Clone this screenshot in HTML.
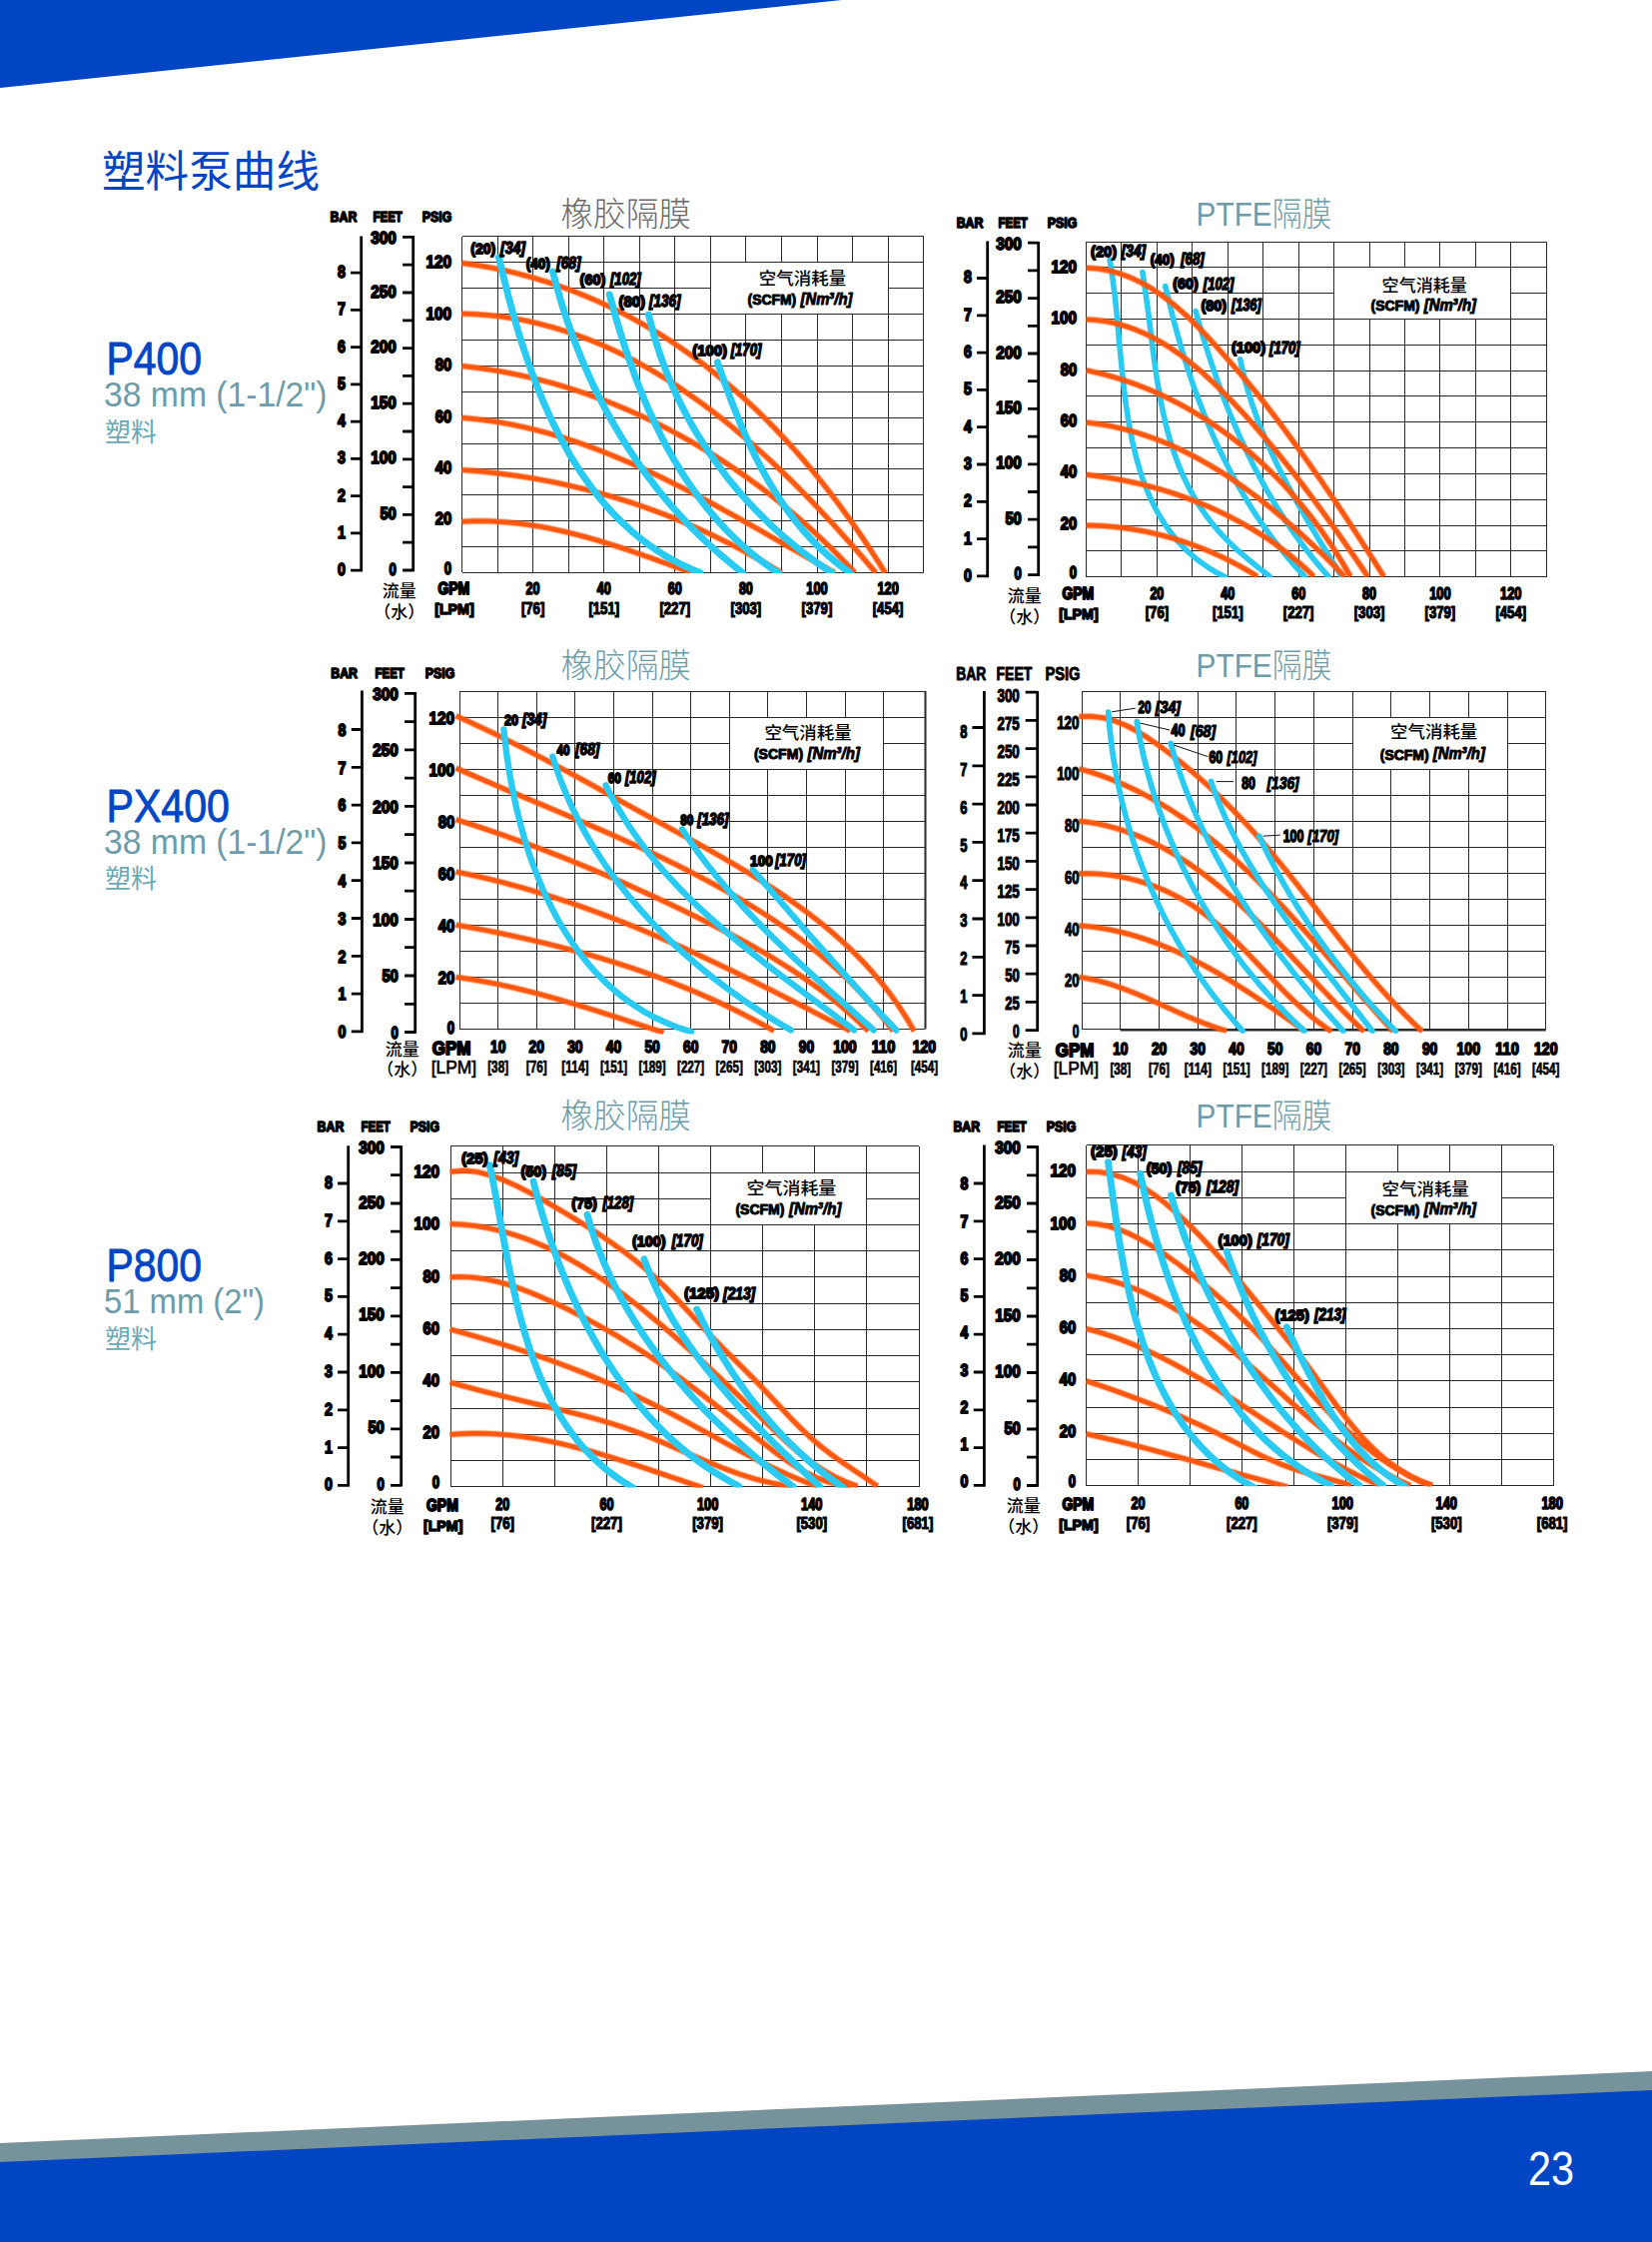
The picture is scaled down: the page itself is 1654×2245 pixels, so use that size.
<!DOCTYPE html>
<html lang="zh"><head><meta charset="utf-8"><title>塑料泵曲线</title><style>html,body{margin:0;padding:0;background:#fff;overflow:hidden;width:1654px;height:2245px}svg{display:block}text{white-space:pre}</style></head><body>
<svg width="1654" height="2245" viewBox="0 0 1654 2245">
<rect width="1654" height="2245" fill="#fff"/>
<polygon points="0,0 843,0 0,88" fill="#0046c4"/>
<polygon points="0,2146 1654,2074 1654,2095 0,2167" fill="#76939b"/>
<polygon points="0,2165 1654,2093 1654,2245 0,2245" fill="#0046c4"/>
<text x="1530.0" y="2188.0" font-size="49" font-family='"Liberation Sans", sans-serif' fill="#fff" textLength="46.0" lengthAdjust="spacingAndGlyphs">23</text>
<text x="102.0" y="187.0" font-size="43.5" font-family='"Liberation Sans", "Noto Sans CJK SC", sans-serif' fill="#0046c4" textLength="218.0" lengthAdjust="spacingAndGlyphs">塑料泵曲线</text>
<text x="106.5" y="375.1" font-size="46.5" font-family='"Liberation Sans", sans-serif' fill="#0046c4" textLength="95.5" lengthAdjust="spacingAndGlyphs" stroke="#0046c4" stroke-width="0.9" stroke-linejoin="round">P400</text>
<text x="104.0" y="407.4" font-size="34.5" font-family='"Liberation Sans", sans-serif' fill="#6b9ca8" textLength="223.5" lengthAdjust="spacingAndGlyphs">38 mm (1-1/2")</text>
<text x="105.0" y="441.6" font-size="26" font-family='"Liberation Sans", "Noto Sans CJK SC", sans-serif' fill="#6aa9b5" textLength="52.0" lengthAdjust="spacingAndGlyphs">塑料</text>
<text x="106.5" y="822.7" font-size="46.5" font-family='"Liberation Sans", sans-serif' fill="#0046c4" textLength="123.5" lengthAdjust="spacingAndGlyphs" stroke="#0046c4" stroke-width="0.9" stroke-linejoin="round">PX400</text>
<text x="104.0" y="855.0" font-size="34.5" font-family='"Liberation Sans", sans-serif' fill="#6b9ca8" textLength="223.5" lengthAdjust="spacingAndGlyphs">38 mm (1-1/2")</text>
<text x="105.0" y="889.2" font-size="26" font-family='"Liberation Sans", "Noto Sans CJK SC", sans-serif' fill="#6aa9b5" textLength="52.0" lengthAdjust="spacingAndGlyphs">塑料</text>
<text x="106.5" y="1283.0" font-size="46.5" font-family='"Liberation Sans", sans-serif' fill="#0046c4" textLength="95.5" lengthAdjust="spacingAndGlyphs" stroke="#0046c4" stroke-width="0.9" stroke-linejoin="round">P800</text>
<text x="104.0" y="1315.3" font-size="34.5" font-family='"Liberation Sans", sans-serif' fill="#6b9ca8" textLength="161.0" lengthAdjust="spacingAndGlyphs">51 mm (2")</text>
<text x="105.0" y="1349.5" font-size="26" font-family='"Liberation Sans", "Noto Sans CJK SC", sans-serif' fill="#6aa9b5" textLength="52.0" lengthAdjust="spacingAndGlyphs">塑料</text>
<g id="chart1">
<text x="561.5" y="226.0" font-size="32.5" font-family='"Liberation Sans", "Noto Sans CJK SC", sans-serif' fill="#6a6a6a" font-weight="300" textLength="130.5" lengthAdjust="spacingAndGlyphs">橡胶隔膜</text>
<path d="M462.50,237.00V573.44M498.50,237.00V573.44M533.50,237.00V573.44M569.50,237.00V573.44M604.50,237.00V573.44M640.50,237.00V573.44M675.50,237.00V573.44M711.50,237.00V573.44M746.50,237.00V262.50M746.50,314.50V573.44M782.50,237.00V262.50M782.50,314.50V573.44M818.50,237.00V262.50M818.50,314.50V573.44M853.50,237.00V262.50M853.50,314.50V573.44M889.50,237.00V573.44M924.50,237.00V573.44M462.50,236.50H924.65M462.50,262.50H924.65M462.50,288.50H711.50M889.50,288.50H924.65M462.50,314.50H924.65M462.50,340.50H924.65M462.50,366.50H924.65M462.50,392.50H924.65M462.50,418.50H924.65M462.50,444.50H924.65M462.50,469.50H924.65M462.50,495.50H924.65M462.50,521.50H924.65M462.50,547.50H924.65M462.50,573.50H924.65" stroke="#2a2a2a" stroke-width="1" fill="none" shape-rendering="crispEdges"/>
<clipPath id="cp1"><rect x="454.5" y="235.0" width="472.1" height="339.0"/></clipPath>
<g clip-path="url(#cp1)">
<g fill="none" stroke="#ff580e" stroke-linecap="butt" stroke-linejoin="round"><g stroke-width="7.6" stroke-opacity="0.13"><path d="M462.4,263.4 476.4,265.4 490.3,267.8 504.1,270.6 517.8,273.8 531.3,277.4 544.7,281.4 557.9,285.7 571.0,290.4 583.9,295.5 596.7,300.9 609.3,306.7 621.7,312.8 634.0,319.2 646.0,326.0 657.9,333.0 669.7,340.4 681.2,348.1 692.5,356.1 703.7,364.3 714.6,372.9 725.3,381.7 735.9,390.8 746.3,400.1 756.4,409.6 766.4,419.4 776.2,429.4 785.8,439.6 795.2,450.0 804.4,460.5 813.4,471.3 822.2,482.1 830.9,493.2 839.3,504.3 847.6,515.6 855.7,527.0 863.6,538.5 871.3,550.1 878.8,561.7 886.2,573.5"/><path d="M462.4,314.1 475.6,314.6 488.8,315.6 501.7,317.0 514.6,318.9 527.3,321.3 539.8,324.2 552.2,327.4 564.4,331.1 576.6,335.2 588.5,339.6 600.3,344.4 612.0,349.6 623.6,355.2 635.0,361.0 646.2,367.2 657.4,373.7 668.4,380.4 679.2,387.5 689.9,394.8 700.5,402.3 711.0,410.1 721.3,418.1 731.5,426.3 741.5,434.7 751.4,443.2 761.2,451.9 770.9,460.8 780.4,469.8 789.8,478.9 799.1,488.1 808.2,497.4 817.2,506.8 826.1,516.3 834.9,525.7 843.5,535.3 852.0,544.8 860.4,554.3 868.6,563.9 876.8,573.4"/><path d="M462.5,366.5 474.1,367.8 485.6,369.4 497.2,371.2 508.6,373.3 520.0,375.6 531.4,378.1 542.6,380.9 553.9,383.9 565.0,387.2 576.1,390.7 587.1,394.4 598.1,398.3 609.0,402.4 619.8,406.8 630.5,411.3 641.1,416.1 651.6,421.0 662.1,426.2 672.4,431.5 682.7,437.1 692.8,442.8 702.9,448.7 712.9,454.8 722.7,461.0 732.5,467.4 742.1,474.0 751.6,480.8 761.0,487.7 770.3,494.8 779.4,502.0 788.4,509.4 797.3,516.9 806.1,524.6 814.7,532.4 823.2,540.4 831.6,548.4 839.8,556.6 847.8,565.0 855.8,573.4"/><path d="M462.5,418.3 473.0,419.3 483.5,420.5 493.9,421.9 504.2,423.6 514.4,425.5 524.6,427.7 534.7,430.1 544.8,432.7 554.8,435.5 564.8,438.5 574.6,441.7 584.5,445.1 594.3,448.7 604.0,452.4 613.7,456.3 623.3,460.3 632.9,464.4 642.4,468.7 651.9,473.1 661.4,477.7 670.8,482.3 680.2,487.0 689.5,491.8 698.8,496.7 708.1,501.6 717.3,506.6 726.5,511.7 735.7,516.8 744.9,522.0 754.0,527.1 763.1,532.3 772.2,537.5 781.3,542.7 790.4,547.9 799.4,553.1 808.4,558.2 817.5,563.3 826.5,568.4 835.5,573.4"/><path d="M462.5,470.5 471.2,471.2 479.9,471.9 488.6,472.8 497.3,473.8 505.9,474.9 514.6,476.1 523.2,477.3 531.8,478.7 540.4,480.2 548.9,481.8 557.5,483.5 566.0,485.3 574.4,487.3 582.9,489.3 591.3,491.4 599.7,493.6 608.1,496.0 616.4,498.4 624.7,501.0 633.0,503.6 641.2,506.4 649.4,509.3 657.5,512.3 665.6,515.3 673.7,518.5 681.7,521.8 689.7,525.2 697.7,528.7 705.6,532.3 713.5,536.0 721.3,539.8 729.1,543.7 736.9,547.7 744.6,551.8 752.2,555.9 759.8,560.2 767.4,564.5 774.9,569.0 782.4,573.5"/><path d="M462.5,522.3 468.6,522.0 474.8,521.8 480.9,521.8 487.0,521.8 493.1,522.0 499.2,522.4 505.2,522.8 511.3,523.3 517.3,523.9 523.3,524.7 529.3,525.5 535.3,526.4 541.3,527.4 547.2,528.5 553.2,529.7 559.1,531.0 565.0,532.3 570.9,533.7 576.8,535.2 582.7,536.7 588.5,538.3 594.4,540.0 600.2,541.7 606.0,543.4 611.9,545.3 617.7,547.1 623.5,549.0 629.3,550.9 635.0,552.9 640.8,554.9 646.5,556.9 652.3,558.9 658.0,561.0 663.8,563.1 669.5,565.1 675.2,567.2 680.9,569.3 686.6,571.4 692.3,573.5"/></g><g stroke-width="6.4" stroke-opacity="0.3"><path d="M462.4,263.4 476.4,265.4 490.3,267.8 504.1,270.6 517.8,273.8 531.3,277.4 544.7,281.4 557.9,285.7 571.0,290.4 583.9,295.5 596.7,300.9 609.3,306.7 621.7,312.8 634.0,319.2 646.0,326.0 657.9,333.0 669.7,340.4 681.2,348.1 692.5,356.1 703.7,364.3 714.6,372.9 725.3,381.7 735.9,390.8 746.3,400.1 756.4,409.6 766.4,419.4 776.2,429.4 785.8,439.6 795.2,450.0 804.4,460.5 813.4,471.3 822.2,482.1 830.9,493.2 839.3,504.3 847.6,515.6 855.7,527.0 863.6,538.5 871.3,550.1 878.8,561.7 886.2,573.5"/><path d="M462.4,314.1 475.6,314.6 488.8,315.6 501.7,317.0 514.6,318.9 527.3,321.3 539.8,324.2 552.2,327.4 564.4,331.1 576.6,335.2 588.5,339.6 600.3,344.4 612.0,349.6 623.6,355.2 635.0,361.0 646.2,367.2 657.4,373.7 668.4,380.4 679.2,387.5 689.9,394.8 700.5,402.3 711.0,410.1 721.3,418.1 731.5,426.3 741.5,434.7 751.4,443.2 761.2,451.9 770.9,460.8 780.4,469.8 789.8,478.9 799.1,488.1 808.2,497.4 817.2,506.8 826.1,516.3 834.9,525.7 843.5,535.3 852.0,544.8 860.4,554.3 868.6,563.9 876.8,573.4"/><path d="M462.5,366.5 474.1,367.8 485.6,369.4 497.2,371.2 508.6,373.3 520.0,375.6 531.4,378.1 542.6,380.9 553.9,383.9 565.0,387.2 576.1,390.7 587.1,394.4 598.1,398.3 609.0,402.4 619.8,406.8 630.5,411.3 641.1,416.1 651.6,421.0 662.1,426.2 672.4,431.5 682.7,437.1 692.8,442.8 702.9,448.7 712.9,454.8 722.7,461.0 732.5,467.4 742.1,474.0 751.6,480.8 761.0,487.7 770.3,494.8 779.4,502.0 788.4,509.4 797.3,516.9 806.1,524.6 814.7,532.4 823.2,540.4 831.6,548.4 839.8,556.6 847.8,565.0 855.8,573.4"/><path d="M462.5,418.3 473.0,419.3 483.5,420.5 493.9,421.9 504.2,423.6 514.4,425.5 524.6,427.7 534.7,430.1 544.8,432.7 554.8,435.5 564.8,438.5 574.6,441.7 584.5,445.1 594.3,448.7 604.0,452.4 613.7,456.3 623.3,460.3 632.9,464.4 642.4,468.7 651.9,473.1 661.4,477.7 670.8,482.3 680.2,487.0 689.5,491.8 698.8,496.7 708.1,501.6 717.3,506.6 726.5,511.7 735.7,516.8 744.9,522.0 754.0,527.1 763.1,532.3 772.2,537.5 781.3,542.7 790.4,547.9 799.4,553.1 808.4,558.2 817.5,563.3 826.5,568.4 835.5,573.4"/><path d="M462.5,470.5 471.2,471.2 479.9,471.9 488.6,472.8 497.3,473.8 505.9,474.9 514.6,476.1 523.2,477.3 531.8,478.7 540.4,480.2 548.9,481.8 557.5,483.5 566.0,485.3 574.4,487.3 582.9,489.3 591.3,491.4 599.7,493.6 608.1,496.0 616.4,498.4 624.7,501.0 633.0,503.6 641.2,506.4 649.4,509.3 657.5,512.3 665.6,515.3 673.7,518.5 681.7,521.8 689.7,525.2 697.7,528.7 705.6,532.3 713.5,536.0 721.3,539.8 729.1,543.7 736.9,547.7 744.6,551.8 752.2,555.9 759.8,560.2 767.4,564.5 774.9,569.0 782.4,573.5"/><path d="M462.5,522.3 468.6,522.0 474.8,521.8 480.9,521.8 487.0,521.8 493.1,522.0 499.2,522.4 505.2,522.8 511.3,523.3 517.3,523.9 523.3,524.7 529.3,525.5 535.3,526.4 541.3,527.4 547.2,528.5 553.2,529.7 559.1,531.0 565.0,532.3 570.9,533.7 576.8,535.2 582.7,536.7 588.5,538.3 594.4,540.0 600.2,541.7 606.0,543.4 611.9,545.3 617.7,547.1 623.5,549.0 629.3,550.9 635.0,552.9 640.8,554.9 646.5,556.9 652.3,558.9 658.0,561.0 663.8,563.1 669.5,565.1 675.2,567.2 680.9,569.3 686.6,571.4 692.3,573.5"/></g><g stroke-width="5.2" stroke-opacity="0.6"><path d="M462.4,263.4 476.4,265.4 490.3,267.8 504.1,270.6 517.8,273.8 531.3,277.4 544.7,281.4 557.9,285.7 571.0,290.4 583.9,295.5 596.7,300.9 609.3,306.7 621.7,312.8 634.0,319.2 646.0,326.0 657.9,333.0 669.7,340.4 681.2,348.1 692.5,356.1 703.7,364.3 714.6,372.9 725.3,381.7 735.9,390.8 746.3,400.1 756.4,409.6 766.4,419.4 776.2,429.4 785.8,439.6 795.2,450.0 804.4,460.5 813.4,471.3 822.2,482.1 830.9,493.2 839.3,504.3 847.6,515.6 855.7,527.0 863.6,538.5 871.3,550.1 878.8,561.7 886.2,573.5"/><path d="M462.4,314.1 475.6,314.6 488.8,315.6 501.7,317.0 514.6,318.9 527.3,321.3 539.8,324.2 552.2,327.4 564.4,331.1 576.6,335.2 588.5,339.6 600.3,344.4 612.0,349.6 623.6,355.2 635.0,361.0 646.2,367.2 657.4,373.7 668.4,380.4 679.2,387.5 689.9,394.8 700.5,402.3 711.0,410.1 721.3,418.1 731.5,426.3 741.5,434.7 751.4,443.2 761.2,451.9 770.9,460.8 780.4,469.8 789.8,478.9 799.1,488.1 808.2,497.4 817.2,506.8 826.1,516.3 834.9,525.7 843.5,535.3 852.0,544.8 860.4,554.3 868.6,563.9 876.8,573.4"/><path d="M462.5,366.5 474.1,367.8 485.6,369.4 497.2,371.2 508.6,373.3 520.0,375.6 531.4,378.1 542.6,380.9 553.9,383.9 565.0,387.2 576.1,390.7 587.1,394.4 598.1,398.3 609.0,402.4 619.8,406.8 630.5,411.3 641.1,416.1 651.6,421.0 662.1,426.2 672.4,431.5 682.7,437.1 692.8,442.8 702.9,448.7 712.9,454.8 722.7,461.0 732.5,467.4 742.1,474.0 751.6,480.8 761.0,487.7 770.3,494.8 779.4,502.0 788.4,509.4 797.3,516.9 806.1,524.6 814.7,532.4 823.2,540.4 831.6,548.4 839.8,556.6 847.8,565.0 855.8,573.4"/><path d="M462.5,418.3 473.0,419.3 483.5,420.5 493.9,421.9 504.2,423.6 514.4,425.5 524.6,427.7 534.7,430.1 544.8,432.7 554.8,435.5 564.8,438.5 574.6,441.7 584.5,445.1 594.3,448.7 604.0,452.4 613.7,456.3 623.3,460.3 632.9,464.4 642.4,468.7 651.9,473.1 661.4,477.7 670.8,482.3 680.2,487.0 689.5,491.8 698.8,496.7 708.1,501.6 717.3,506.6 726.5,511.7 735.7,516.8 744.9,522.0 754.0,527.1 763.1,532.3 772.2,537.5 781.3,542.7 790.4,547.9 799.4,553.1 808.4,558.2 817.5,563.3 826.5,568.4 835.5,573.4"/><path d="M462.5,470.5 471.2,471.2 479.9,471.9 488.6,472.8 497.3,473.8 505.9,474.9 514.6,476.1 523.2,477.3 531.8,478.7 540.4,480.2 548.9,481.8 557.5,483.5 566.0,485.3 574.4,487.3 582.9,489.3 591.3,491.4 599.7,493.6 608.1,496.0 616.4,498.4 624.7,501.0 633.0,503.6 641.2,506.4 649.4,509.3 657.5,512.3 665.6,515.3 673.7,518.5 681.7,521.8 689.7,525.2 697.7,528.7 705.6,532.3 713.5,536.0 721.3,539.8 729.1,543.7 736.9,547.7 744.6,551.8 752.2,555.9 759.8,560.2 767.4,564.5 774.9,569.0 782.4,573.5"/><path d="M462.5,522.3 468.6,522.0 474.8,521.8 480.9,521.8 487.0,521.8 493.1,522.0 499.2,522.4 505.2,522.8 511.3,523.3 517.3,523.9 523.3,524.7 529.3,525.5 535.3,526.4 541.3,527.4 547.2,528.5 553.2,529.7 559.1,531.0 565.0,532.3 570.9,533.7 576.8,535.2 582.7,536.7 588.5,538.3 594.4,540.0 600.2,541.7 606.0,543.4 611.9,545.3 617.7,547.1 623.5,549.0 629.3,550.9 635.0,552.9 640.8,554.9 646.5,556.9 652.3,558.9 658.0,561.0 663.8,563.1 669.5,565.1 675.2,567.2 680.9,569.3 686.6,571.4 692.3,573.5"/></g><g stroke-width="4.0"><path d="M462.4,263.4 476.4,265.4 490.3,267.8 504.1,270.6 517.8,273.8 531.3,277.4 544.7,281.4 557.9,285.7 571.0,290.4 583.9,295.5 596.7,300.9 609.3,306.7 621.7,312.8 634.0,319.2 646.0,326.0 657.9,333.0 669.7,340.4 681.2,348.1 692.5,356.1 703.7,364.3 714.6,372.9 725.3,381.7 735.9,390.8 746.3,400.1 756.4,409.6 766.4,419.4 776.2,429.4 785.8,439.6 795.2,450.0 804.4,460.5 813.4,471.3 822.2,482.1 830.9,493.2 839.3,504.3 847.6,515.6 855.7,527.0 863.6,538.5 871.3,550.1 878.8,561.7 886.2,573.5"/><path d="M462.4,314.1 475.6,314.6 488.8,315.6 501.7,317.0 514.6,318.9 527.3,321.3 539.8,324.2 552.2,327.4 564.4,331.1 576.6,335.2 588.5,339.6 600.3,344.4 612.0,349.6 623.6,355.2 635.0,361.0 646.2,367.2 657.4,373.7 668.4,380.4 679.2,387.5 689.9,394.8 700.5,402.3 711.0,410.1 721.3,418.1 731.5,426.3 741.5,434.7 751.4,443.2 761.2,451.9 770.9,460.8 780.4,469.8 789.8,478.9 799.1,488.1 808.2,497.4 817.2,506.8 826.1,516.3 834.9,525.7 843.5,535.3 852.0,544.8 860.4,554.3 868.6,563.9 876.8,573.4"/><path d="M462.5,366.5 474.1,367.8 485.6,369.4 497.2,371.2 508.6,373.3 520.0,375.6 531.4,378.1 542.6,380.9 553.9,383.9 565.0,387.2 576.1,390.7 587.1,394.4 598.1,398.3 609.0,402.4 619.8,406.8 630.5,411.3 641.1,416.1 651.6,421.0 662.1,426.2 672.4,431.5 682.7,437.1 692.8,442.8 702.9,448.7 712.9,454.8 722.7,461.0 732.5,467.4 742.1,474.0 751.6,480.8 761.0,487.7 770.3,494.8 779.4,502.0 788.4,509.4 797.3,516.9 806.1,524.6 814.7,532.4 823.2,540.4 831.6,548.4 839.8,556.6 847.8,565.0 855.8,573.4"/><path d="M462.5,418.3 473.0,419.3 483.5,420.5 493.9,421.9 504.2,423.6 514.4,425.5 524.6,427.7 534.7,430.1 544.8,432.7 554.8,435.5 564.8,438.5 574.6,441.7 584.5,445.1 594.3,448.7 604.0,452.4 613.7,456.3 623.3,460.3 632.9,464.4 642.4,468.7 651.9,473.1 661.4,477.7 670.8,482.3 680.2,487.0 689.5,491.8 698.8,496.7 708.1,501.6 717.3,506.6 726.5,511.7 735.7,516.8 744.9,522.0 754.0,527.1 763.1,532.3 772.2,537.5 781.3,542.7 790.4,547.9 799.4,553.1 808.4,558.2 817.5,563.3 826.5,568.4 835.5,573.4"/><path d="M462.5,470.5 471.2,471.2 479.9,471.9 488.6,472.8 497.3,473.8 505.9,474.9 514.6,476.1 523.2,477.3 531.8,478.7 540.4,480.2 548.9,481.8 557.5,483.5 566.0,485.3 574.4,487.3 582.9,489.3 591.3,491.4 599.7,493.6 608.1,496.0 616.4,498.4 624.7,501.0 633.0,503.6 641.2,506.4 649.4,509.3 657.5,512.3 665.6,515.3 673.7,518.5 681.7,521.8 689.7,525.2 697.7,528.7 705.6,532.3 713.5,536.0 721.3,539.8 729.1,543.7 736.9,547.7 744.6,551.8 752.2,555.9 759.8,560.2 767.4,564.5 774.9,569.0 782.4,573.5"/><path d="M462.5,522.3 468.6,522.0 474.8,521.8 480.9,521.8 487.0,521.8 493.1,522.0 499.2,522.4 505.2,522.8 511.3,523.3 517.3,523.9 523.3,524.7 529.3,525.5 535.3,526.4 541.3,527.4 547.2,528.5 553.2,529.7 559.1,531.0 565.0,532.3 570.9,533.7 576.8,535.2 582.7,536.7 588.5,538.3 594.4,540.0 600.2,541.7 606.0,543.4 611.9,545.3 617.7,547.1 623.5,549.0 629.3,550.9 635.0,552.9 640.8,554.9 646.5,556.9 652.3,558.9 658.0,561.0 663.8,563.1 669.5,565.1 675.2,567.2 680.9,569.3 686.6,571.4 692.3,573.5"/></g></g>
<g fill="none" stroke="#29caf3" stroke-width="6.9" stroke-linecap="round" stroke-linejoin="round"><path d="M499.5,257.5 501.6,266.9 503.9,276.4 506.3,285.9 508.7,295.5 511.3,305.2 513.9,314.8 516.7,324.6 519.6,334.3 522.6,344.0 525.8,353.7 529.1,363.4 532.5,373.0 536.1,382.6 539.8,392.1 543.7,401.6 547.8,410.9 552.0,420.2 556.5,429.3 561.1,438.3 565.9,447.2 570.9,456.0 576.1,464.5 581.5,472.9 587.1,481.1 592.9,489.2 599.0,497.0 605.3,504.5 611.8,511.9 618.6,519.0 625.7,525.8 633.0,532.4 640.5,538.7 648.3,544.6 656.4,550.3 664.8,555.7 673.5,560.7 682.4,565.3 691.7,569.7 701.2,573.6"/><path d="M553.5,272.1 555.8,281.1 558.3,290.1 560.9,299.1 563.6,308.0 566.5,316.9 569.5,325.7 572.6,334.5 575.9,343.3 579.3,351.9 582.8,360.6 586.5,369.1 590.3,377.6 594.2,386.1 598.3,394.4 602.5,402.7 606.8,411.0 611.3,419.1 615.9,427.2 620.6,435.2 625.4,443.1 630.4,450.9 635.6,458.6 640.8,466.3 646.2,473.8 651.8,481.2 657.4,488.6 663.2,495.8 669.2,502.9 675.3,509.9 681.5,516.8 687.8,523.6 694.3,530.3 700.9,536.8 707.7,543.2 714.5,549.5 721.6,555.7 728.7,561.7 736.0,567.6 743.5,573.4"/><path d="M610.3,294.9 612.5,303.0 614.7,311.1 617.0,319.3 619.4,327.4 621.9,335.6 624.5,343.8 627.1,351.9 629.9,360.1 632.8,368.2 635.7,376.3 638.8,384.4 642.0,392.4 645.2,400.4 648.6,408.3 652.2,416.2 655.8,424.0 659.6,431.8 663.4,439.5 667.4,447.1 671.6,454.6 675.9,462.1 680.3,469.4 684.8,476.6 689.5,483.7 694.4,490.8 699.4,497.6 704.5,504.4 709.8,511.0 715.3,517.5 720.9,523.9 726.7,530.1 732.6,536.1 738.8,542.0 745.0,547.7 751.5,553.3 758.2,558.6 765.0,563.8 772.0,568.8 779.2,573.6"/><path d="M649.4,315.0 651.4,323.2 653.5,331.3 655.8,339.3 658.3,347.3 660.9,355.2 663.7,363.0 666.6,370.8 669.7,378.5 673.0,386.2 676.4,393.8 680.0,401.3 683.7,408.7 687.5,416.0 691.5,423.3 695.6,430.5 699.9,437.6 704.3,444.6 708.9,451.5 713.6,458.4 718.4,465.1 723.4,471.8 728.4,478.3 733.6,484.8 739.0,491.2 744.4,497.4 750.0,503.6 755.7,509.6 761.5,515.6 767.4,521.4 773.4,527.2 779.6,532.8 785.8,538.3 792.2,543.6 798.6,548.9 805.2,554.1 811.9,559.1 818.6,564.0 825.5,568.7 832.4,573.4"/><path d="M718.4,362.7 720.5,368.8 722.6,374.9 724.7,381.0 726.9,387.1 729.2,393.2 731.4,399.3 733.8,405.4 736.2,411.4 738.6,417.5 741.1,423.6 743.6,429.6 746.2,435.6 748.9,441.6 751.7,447.5 754.5,453.4 757.4,459.3 760.4,465.1 763.4,470.9 766.6,476.6 769.8,482.2 773.1,487.8 776.5,493.3 780.0,498.8 783.6,504.2 787.3,509.5 791.1,514.7 795.0,519.9 799.0,524.9 803.1,529.9 807.3,534.7 811.7,539.5 816.2,544.2 820.8,548.7 825.5,553.1 830.3,557.4 835.3,561.6 840.4,565.7 845.7,569.6 851.1,573.5"/></g>
</g>
<text x="471.3" y="253.8" font-size="15.36" font-family='"Liberation Sans", sans-serif' fill="#000" font-weight="bold" textLength="24.8" lengthAdjust="spacingAndGlyphs" stroke="#000" stroke-width="1.8" stroke-linejoin="round">(20)</text>
<text x="501.0" y="254.0" font-size="15.87" font-family='"Liberation Sans", sans-serif' fill="#000" font-weight="bold" font-style="italic" textLength="25.0" lengthAdjust="spacingAndGlyphs" stroke="#000" stroke-width="1.4400000000000002" stroke-linejoin="round">[34]</text>
<text x="526.7" y="268.6" font-size="15.36" font-family='"Liberation Sans", sans-serif' fill="#000" font-weight="bold" textLength="24.0" lengthAdjust="spacingAndGlyphs" stroke="#000" stroke-width="1.8" stroke-linejoin="round">(40)</text>
<text x="557.2" y="268.8" font-size="15.87" font-family='"Liberation Sans", sans-serif' fill="#000" font-weight="bold" font-style="italic" textLength="24.3" lengthAdjust="spacingAndGlyphs" stroke="#000" stroke-width="1.4400000000000002" stroke-linejoin="round">[68]</text>
<text x="580.6" y="284.5" font-size="15.36" font-family='"Liberation Sans", sans-serif' fill="#000" font-weight="bold" textLength="25.6" lengthAdjust="spacingAndGlyphs" stroke="#000" stroke-width="1.8" stroke-linejoin="round">(60)</text>
<text x="611.0" y="284.7" font-size="15.87" font-family='"Liberation Sans", sans-serif' fill="#000" font-weight="bold" font-style="italic" textLength="30.6" lengthAdjust="spacingAndGlyphs" stroke="#000" stroke-width="1.4400000000000002" stroke-linejoin="round">[102]</text>
<text x="619.6" y="307.0" font-size="15.36" font-family='"Liberation Sans", sans-serif' fill="#000" font-weight="bold" textLength="26.4" lengthAdjust="spacingAndGlyphs" stroke="#000" stroke-width="1.8" stroke-linejoin="round">(80)</text>
<text x="650.0" y="307.2" font-size="15.87" font-family='"Liberation Sans", sans-serif' fill="#000" font-weight="bold" font-style="italic" textLength="31.4" lengthAdjust="spacingAndGlyphs" stroke="#000" stroke-width="1.4400000000000002" stroke-linejoin="round">[136]</text>
<text x="693.2" y="355.8" font-size="15.36" font-family='"Liberation Sans", sans-serif' fill="#000" font-weight="bold" textLength="34.8" lengthAdjust="spacingAndGlyphs" stroke="#000" stroke-width="1.8" stroke-linejoin="round">(100)</text>
<text x="731.7" y="356.0" font-size="15.87" font-family='"Liberation Sans", sans-serif' fill="#000" font-weight="bold" font-style="italic" textLength="30.6" lengthAdjust="spacingAndGlyphs" stroke="#000" stroke-width="1.4400000000000002" stroke-linejoin="round">[170]</text>
<text x="759.8" y="285.0" font-size="17.5" font-family='"Liberation Sans", "Noto Sans CJK SC", sans-serif' fill="#000" font-weight="500" textLength="87.4" lengthAdjust="spacingAndGlyphs">空气消耗量</text>
<text x="748.5" y="304.7" font-size="15.5" font-family='"Liberation Sans", sans-serif' fill="#000" font-weight="bold" textLength="48.7" lengthAdjust="spacingAndGlyphs" stroke="#000" stroke-width="1.1" stroke-linejoin="round">(SCFM)</text>
<text x="801.5" y="304.6" font-size="15.6" font-family='"Liberation Sans", sans-serif' font-weight="bold" font-style="italic" stroke="#000" stroke-width="0.9" stroke-linejoin="round" textLength="52.0" lengthAdjust="spacingAndGlyphs">[Nm<tspan font-size="9.5" dy="-6">3</tspan><tspan dy="6">/h]</tspan></text>
<path d="M361.7,236.5V572.4M351.1,571.1H361.7M351.1,533.9H361.7M351.1,496.6H361.7M351.1,459.4H361.7M351.1,422.2H361.7M351.1,384.9H361.7M351.1,347.7H361.7M351.1,310.4H361.7M351.1,273.2H361.7M413.7,236.1V572.3M403.1,571.0H413.7M403.1,543.2H413.7M403.1,515.4H413.7M403.1,487.6H413.7M403.1,459.8H413.7M403.1,432.0H413.7M403.1,404.2H413.7M403.1,376.4H413.7M403.1,348.6H413.7M403.1,320.8H413.7M403.1,293.0H413.7M403.1,265.2H413.7M403.1,237.4H413.7" stroke="#000" stroke-width="2.8" fill="none"/>
<text x="337.9" y="576.0" font-size="17.32" font-family='"Liberation Sans", sans-serif' fill="#000" font-weight="bold" textLength="7.9" lengthAdjust="spacingAndGlyphs" stroke="#000" stroke-width="1.8" stroke-linejoin="round">0</text>
<text x="337.9" y="538.8" font-size="17.32" font-family='"Liberation Sans", sans-serif' fill="#000" font-weight="bold" textLength="7.9" lengthAdjust="spacingAndGlyphs" stroke="#000" stroke-width="1.8" stroke-linejoin="round">1</text>
<text x="337.9" y="501.5" font-size="17.32" font-family='"Liberation Sans", sans-serif' fill="#000" font-weight="bold" textLength="7.9" lengthAdjust="spacingAndGlyphs" stroke="#000" stroke-width="1.8" stroke-linejoin="round">2</text>
<text x="337.9" y="464.3" font-size="17.32" font-family='"Liberation Sans", sans-serif' fill="#000" font-weight="bold" textLength="7.9" lengthAdjust="spacingAndGlyphs" stroke="#000" stroke-width="1.8" stroke-linejoin="round">3</text>
<text x="337.9" y="427.1" font-size="17.32" font-family='"Liberation Sans", sans-serif' fill="#000" font-weight="bold" textLength="7.9" lengthAdjust="spacingAndGlyphs" stroke="#000" stroke-width="1.8" stroke-linejoin="round">4</text>
<text x="337.9" y="389.8" font-size="17.32" font-family='"Liberation Sans", sans-serif' fill="#000" font-weight="bold" textLength="7.9" lengthAdjust="spacingAndGlyphs" stroke="#000" stroke-width="1.8" stroke-linejoin="round">5</text>
<text x="337.9" y="352.6" font-size="17.32" font-family='"Liberation Sans", sans-serif' fill="#000" font-weight="bold" textLength="7.9" lengthAdjust="spacingAndGlyphs" stroke="#000" stroke-width="1.8" stroke-linejoin="round">6</text>
<text x="337.9" y="315.3" font-size="17.32" font-family='"Liberation Sans", sans-serif' fill="#000" font-weight="bold" textLength="7.9" lengthAdjust="spacingAndGlyphs" stroke="#000" stroke-width="1.8" stroke-linejoin="round">7</text>
<text x="337.9" y="278.1" font-size="17.32" font-family='"Liberation Sans", sans-serif' fill="#000" font-weight="bold" textLength="7.9" lengthAdjust="spacingAndGlyphs" stroke="#000" stroke-width="1.8" stroke-linejoin="round">8</text>
<text x="389.5" y="575.5" font-size="17.32" font-family='"Liberation Sans", sans-serif' fill="#000" font-weight="bold" textLength="7.3" lengthAdjust="spacingAndGlyphs" stroke="#000" stroke-width="1.8" stroke-linejoin="round">0</text>
<text x="380.4" y="519.9" font-size="17.32" font-family='"Liberation Sans", sans-serif' fill="#000" font-weight="bold" textLength="16.4" lengthAdjust="spacingAndGlyphs" stroke="#000" stroke-width="1.8" stroke-linejoin="round">50</text>
<text x="371.3" y="464.3" font-size="17.32" font-family='"Liberation Sans", sans-serif' fill="#000" font-weight="bold" textLength="25.5" lengthAdjust="spacingAndGlyphs" stroke="#000" stroke-width="1.8" stroke-linejoin="round">100</text>
<text x="371.3" y="408.7" font-size="17.32" font-family='"Liberation Sans", sans-serif' fill="#000" font-weight="bold" textLength="25.5" lengthAdjust="spacingAndGlyphs" stroke="#000" stroke-width="1.8" stroke-linejoin="round">150</text>
<text x="371.3" y="353.1" font-size="17.32" font-family='"Liberation Sans", sans-serif' fill="#000" font-weight="bold" textLength="25.5" lengthAdjust="spacingAndGlyphs" stroke="#000" stroke-width="1.8" stroke-linejoin="round">200</text>
<text x="371.3" y="297.5" font-size="17.32" font-family='"Liberation Sans", sans-serif' fill="#000" font-weight="bold" textLength="25.5" lengthAdjust="spacingAndGlyphs" stroke="#000" stroke-width="1.8" stroke-linejoin="round">250</text>
<text x="371.3" y="244.0" font-size="17.32" font-family='"Liberation Sans", sans-serif' fill="#000" font-weight="bold" textLength="25.5" lengthAdjust="spacingAndGlyphs" stroke="#000" stroke-width="1.8" stroke-linejoin="round">300</text>
<text x="444.8" y="575.0" font-size="17.32" font-family='"Liberation Sans", sans-serif' fill="#000" font-weight="bold" textLength="7.3" lengthAdjust="spacingAndGlyphs" stroke="#000" stroke-width="1.8" stroke-linejoin="round">0</text>
<text x="435.7" y="525.4" font-size="17.32" font-family='"Liberation Sans", sans-serif' fill="#000" font-weight="bold" textLength="16.4" lengthAdjust="spacingAndGlyphs" stroke="#000" stroke-width="1.8" stroke-linejoin="round">20</text>
<text x="435.7" y="473.9" font-size="17.32" font-family='"Liberation Sans", sans-serif' fill="#000" font-weight="bold" textLength="16.4" lengthAdjust="spacingAndGlyphs" stroke="#000" stroke-width="1.8" stroke-linejoin="round">40</text>
<text x="435.7" y="422.5" font-size="17.32" font-family='"Liberation Sans", sans-serif' fill="#000" font-weight="bold" textLength="16.4" lengthAdjust="spacingAndGlyphs" stroke="#000" stroke-width="1.8" stroke-linejoin="round">60</text>
<text x="435.7" y="371.0" font-size="17.32" font-family='"Liberation Sans", sans-serif' fill="#000" font-weight="bold" textLength="16.4" lengthAdjust="spacingAndGlyphs" stroke="#000" stroke-width="1.8" stroke-linejoin="round">80</text>
<text x="426.6" y="319.5" font-size="17.32" font-family='"Liberation Sans", sans-serif' fill="#000" font-weight="bold" textLength="25.5" lengthAdjust="spacingAndGlyphs" stroke="#000" stroke-width="1.8" stroke-linejoin="round">100</text>
<text x="426.6" y="268.1" font-size="17.32" font-family='"Liberation Sans", sans-serif' fill="#000" font-weight="bold" textLength="25.5" lengthAdjust="spacingAndGlyphs" stroke="#000" stroke-width="1.8" stroke-linejoin="round">120</text>
<text x="330.6" y="222.2" font-size="14.13" font-family='"Liberation Sans", sans-serif' fill="#000" font-weight="bold" textLength="26.7" lengthAdjust="spacingAndGlyphs" stroke="#000" stroke-width="1.5" stroke-linejoin="round">BAR</text>
<text x="373.6" y="222.2" font-size="14.13" font-family='"Liberation Sans", sans-serif' fill="#000" font-weight="bold" textLength="29.1" lengthAdjust="spacingAndGlyphs" stroke="#000" stroke-width="1.5" stroke-linejoin="round">FEET</text>
<text x="422.8" y="222.2" font-size="14.13" font-family='"Liberation Sans", sans-serif' fill="#000" font-weight="bold" textLength="29.5" lengthAdjust="spacingAndGlyphs" stroke="#000" stroke-width="1.5" stroke-linejoin="round">PSIG</text>
<text x="526.6" y="595.4" font-size="15.92" font-family='"Liberation Sans", sans-serif' fill="#000" font-weight="bold" textLength="13.9" lengthAdjust="spacingAndGlyphs" stroke="#000" stroke-width="1.6" stroke-linejoin="round">20</text>
<text x="521.9" y="614.6" font-size="15.64" font-family='"Liberation Sans", sans-serif' fill="#000" font-weight="bold" textLength="23.4" lengthAdjust="spacingAndGlyphs" stroke="#000" stroke-width="1.2" stroke-linejoin="round">[76]</text>
<text x="597.8" y="595.4" font-size="15.92" font-family='"Liberation Sans", sans-serif' fill="#000" font-weight="bold" textLength="13.9" lengthAdjust="spacingAndGlyphs" stroke="#000" stroke-width="1.6" stroke-linejoin="round">40</text>
<text x="589.4" y="614.6" font-size="15.64" font-family='"Liberation Sans", sans-serif' fill="#000" font-weight="bold" textLength="30.7" lengthAdjust="spacingAndGlyphs" stroke="#000" stroke-width="1.2" stroke-linejoin="round">[151]</text>
<text x="668.8" y="595.4" font-size="15.92" font-family='"Liberation Sans", sans-serif' fill="#000" font-weight="bold" textLength="13.9" lengthAdjust="spacingAndGlyphs" stroke="#000" stroke-width="1.6" stroke-linejoin="round">60</text>
<text x="660.4" y="614.6" font-size="15.64" font-family='"Liberation Sans", sans-serif' fill="#000" font-weight="bold" textLength="30.7" lengthAdjust="spacingAndGlyphs" stroke="#000" stroke-width="1.2" stroke-linejoin="round">[227]</text>
<text x="739.9" y="595.4" font-size="15.92" font-family='"Liberation Sans", sans-serif' fill="#000" font-weight="bold" textLength="13.9" lengthAdjust="spacingAndGlyphs" stroke="#000" stroke-width="1.6" stroke-linejoin="round">80</text>
<text x="731.5" y="614.6" font-size="15.64" font-family='"Liberation Sans", sans-serif' fill="#000" font-weight="bold" textLength="30.7" lengthAdjust="spacingAndGlyphs" stroke="#000" stroke-width="1.2" stroke-linejoin="round">[303]</text>
<text x="807.3" y="595.4" font-size="15.92" font-family='"Liberation Sans", sans-serif' fill="#000" font-weight="bold" textLength="21.4" lengthAdjust="spacingAndGlyphs" stroke="#000" stroke-width="1.6" stroke-linejoin="round">100</text>
<text x="802.6" y="614.6" font-size="15.64" font-family='"Liberation Sans", sans-serif' fill="#000" font-weight="bold" textLength="30.7" lengthAdjust="spacingAndGlyphs" stroke="#000" stroke-width="1.2" stroke-linejoin="round">[379]</text>
<text x="878.4" y="595.4" font-size="15.92" font-family='"Liberation Sans", sans-serif' fill="#000" font-weight="bold" textLength="21.4" lengthAdjust="spacingAndGlyphs" stroke="#000" stroke-width="1.6" stroke-linejoin="round">120</text>
<text x="873.7" y="614.6" font-size="15.64" font-family='"Liberation Sans", sans-serif' fill="#000" font-weight="bold" textLength="30.7" lengthAdjust="spacingAndGlyphs" stroke="#000" stroke-width="1.2" stroke-linejoin="round">[454]</text>
<text x="382.7" y="598.4" font-size="17" font-family='"Liberation Sans", "Noto Sans CJK SC", sans-serif' fill="#000" font-weight="500" textLength="34.0" lengthAdjust="spacingAndGlyphs">流量</text>
<text x="374.2" y="619.4" font-size="17" font-family='"Liberation Sans", "Noto Sans CJK SC", sans-serif' fill="#000" font-weight="500" textLength="51.0" lengthAdjust="spacingAndGlyphs">（水）</text>
<text x="438.4" y="595.3" font-size="15.64" font-family='"Liberation Sans", sans-serif' fill="#000" font-weight="bold" textLength="31.8" lengthAdjust="spacingAndGlyphs" stroke="#000" stroke-width="1.8" stroke-linejoin="round">GPM</text>
<text x="435.2" y="615.3" font-size="15.5" font-family='"Liberation Sans", sans-serif' fill="#000" font-weight="bold" textLength="39.5" lengthAdjust="spacingAndGlyphs" stroke="#000" stroke-width="1.5" stroke-linejoin="round">[LPM]</text>
</g>
<g id="chart2">
<text x="1197.6" y="226.0" font-size="32.5" font-family='"Liberation Sans", "Noto Sans CJK SC", sans-serif' fill="#6b9ca8" font-weight="300" textLength="135.6" lengthAdjust="spacingAndGlyphs">PTFE隔膜</text>
<path d="M1087.50,242.00V577.66M1122.50,242.00V577.66M1158.50,242.00V577.66M1193.50,242.00V577.66M1229.50,242.00V577.66M1264.50,242.00V577.66M1300.50,242.00V577.66M1335.50,242.00V577.66M1371.50,242.00V267.50M1371.50,319.50V577.66M1406.50,242.00V267.50M1406.50,319.50V577.66M1441.50,242.00V267.50M1441.50,319.50V577.66M1477.50,242.00V267.50M1477.50,319.50V577.66M1512.50,242.00V577.66M1548.50,242.00V577.66M1087.50,242.50H1548.22M1087.50,267.50H1548.22M1087.50,293.50H1335.50M1512.50,293.50H1548.22M1087.50,319.50H1548.22M1087.50,345.50H1548.22M1087.50,371.50H1548.22M1087.50,396.50H1548.22M1087.50,422.50H1548.22M1087.50,448.50H1548.22M1087.50,474.50H1548.22M1087.50,500.50H1548.22M1087.50,526.50H1548.22M1087.50,551.50H1548.22M1087.50,577.50H1548.22" stroke="#2a2a2a" stroke-width="1" fill="none" shape-rendering="crispEdges"/>
<clipPath id="cp2"><rect x="1079.5" y="240.0" width="470.7" height="338.3"/></clipPath>
<g clip-path="url(#cp2)">
<g fill="none" stroke="#29caf3" stroke-width="5.6" stroke-linecap="round" stroke-linejoin="round"><path d="M1111.1,260.2 1112.5,268.7 1113.7,277.3 1114.9,286.0 1116.0,294.8 1117.0,303.8 1117.9,312.8 1118.8,322.0 1119.6,331.2 1120.4,340.4 1121.3,349.7 1122.2,359.0 1123.1,368.3 1124.0,377.7 1125.1,387.0 1126.2,396.3 1127.4,405.6 1128.8,414.8 1130.3,424.0 1132.0,433.1 1133.8,442.1 1135.9,451.1 1138.1,459.9 1140.6,468.6 1143.3,477.1 1146.3,485.5 1149.6,493.8 1153.2,501.8 1157.1,509.6 1161.4,517.2 1166.0,524.6 1171.0,531.7 1176.4,538.6 1182.2,545.2 1188.4,551.5 1195.1,557.4 1202.2,563.0 1209.9,568.3 1218.0,573.3 1226.7,577.8"/><path d="M1143.9,272.6 1145.3,281.0 1146.5,289.6 1147.7,298.3 1148.9,307.0 1150.0,315.8 1151.1,324.6 1152.2,333.4 1153.3,342.3 1154.4,351.2 1155.6,360.1 1156.8,369.0 1158.1,377.9 1159.6,386.7 1161.1,395.5 1162.7,404.3 1164.5,413.0 1166.5,421.7 1168.6,430.3 1170.9,438.8 1173.5,447.2 1176.2,455.4 1179.2,463.6 1182.5,471.7 1186.0,479.6 1189.8,487.3 1193.9,494.9 1198.3,502.4 1203.0,509.7 1207.9,516.7 1213.2,523.6 1218.7,530.3 1224.6,536.8 1230.7,543.0 1237.0,549.1 1243.6,554.9 1250.4,560.6 1257.2,566.2 1264.2,571.6 1271.2,577.1"/><path d="M1166.8,286.5 1168.7,294.7 1170.7,302.9 1172.7,311.1 1174.7,319.3 1176.9,327.4 1179.1,335.5 1181.4,343.6 1183.8,351.7 1186.2,359.7 1188.7,367.7 1191.3,375.7 1194.0,383.6 1196.8,391.5 1199.6,399.3 1202.6,407.1 1205.6,414.9 1208.8,422.6 1212.0,430.3 1215.3,437.9 1218.7,445.5 1222.3,453.0 1225.9,460.4 1229.7,467.8 1233.5,475.2 1237.5,482.5 1241.6,489.7 1245.8,496.9 1250.1,504.0 1254.5,511.0 1259.1,518.0 1263.8,524.8 1268.6,531.7 1273.5,538.4 1278.6,545.1 1283.9,551.7 1289.2,558.2 1294.7,564.6 1300.3,570.9 1306.1,577.2"/><path d="M1197.1,311.5 1199.2,318.9 1201.3,326.2 1203.4,333.6 1205.6,341.0 1207.9,348.3 1210.2,355.6 1212.6,362.9 1215.1,370.2 1217.6,377.5 1220.2,384.8 1222.8,392.0 1225.5,399.2 1228.3,406.4 1231.1,413.5 1234.1,420.6 1237.1,427.7 1240.1,434.7 1243.3,441.7 1246.5,448.7 1249.8,455.6 1253.2,462.5 1256.7,469.4 1260.3,476.1 1263.9,482.9 1267.6,489.6 1271.5,496.2 1275.4,502.8 1279.4,509.4 1283.5,515.8 1287.7,522.3 1291.9,528.6 1296.3,534.9 1300.8,541.2 1305.4,547.3 1310.1,553.4 1314.9,559.5 1319.8,565.4 1324.8,571.3 1329.9,577.1"/><path d="M1241.7,359.8 1243.0,365.9 1244.4,372.0 1245.9,378.0 1247.4,384.0 1249.1,390.0 1250.9,395.9 1252.7,401.8 1254.7,407.7 1256.7,413.5 1258.8,419.3 1261.0,425.0 1263.3,430.7 1265.6,436.4 1268.1,442.1 1270.5,447.7 1273.1,453.4 1275.7,458.9 1278.4,464.5 1281.1,470.0 1283.9,475.5 1286.7,481.0 1289.6,486.5 1292.5,491.9 1295.5,497.4 1298.5,502.8 1301.6,508.2 1304.6,513.6 1307.7,518.9 1310.9,524.3 1314.1,529.6 1317.2,534.9 1320.4,540.2 1323.7,545.5 1326.9,550.8 1330.2,556.1 1333.4,561.3 1336.7,566.6 1340.0,571.9 1343.2,577.1"/></g>
<g fill="none" stroke="#ff580e" stroke-linecap="butt" stroke-linejoin="round"><g stroke-width="7.6" stroke-opacity="0.13"><path d="M1087.5,268.2 1099.1,269.0 1110.3,271.0 1121.1,273.9 1131.5,277.8 1141.6,282.5 1151.4,287.9 1160.8,294.1 1170.0,300.8 1178.9,308.1 1187.5,315.7 1195.9,323.8 1204.1,332.1 1212.0,340.5 1219.8,349.1 1227.4,357.7 1234.9,366.2 1242.2,374.6 1249.4,383.1 1256.5,391.6 1263.4,400.3 1270.2,409.0 1277.0,417.9 1283.7,426.9 1290.4,436.0 1297.1,445.2 1303.7,454.4 1310.3,463.6 1316.8,472.9 1323.3,482.2 1329.7,491.6 1336.1,501.0 1342.4,510.4 1348.7,519.8 1354.9,529.3 1361.1,538.8 1367.2,548.4 1373.3,557.9 1379.4,567.5 1385.4,577.1"/><path d="M1087.5,319.9 1097.8,320.5 1107.9,321.9 1117.7,324.0 1127.3,326.7 1136.6,330.0 1145.7,333.8 1154.5,338.2 1163.2,343.0 1171.7,348.3 1179.9,354.0 1188.0,360.0 1195.9,366.4 1203.7,373.0 1211.3,379.9 1218.7,386.9 1226.0,394.1 1233.2,401.5 1240.2,408.9 1247.2,416.4 1254.0,424.0 1260.7,431.7 1267.3,439.4 1273.9,447.2 1280.3,455.0 1286.6,462.9 1292.9,470.8 1299.1,478.8 1305.2,486.8 1311.2,494.8 1317.2,502.9 1323.2,511.0 1329.0,519.1 1334.9,527.3 1340.7,535.5 1346.5,543.7 1352.2,552.0 1358.0,560.3 1363.7,568.7 1369.4,577.1"/><path d="M1087.5,370.8 1096.2,372.7 1104.9,374.8 1113.5,377.1 1122.0,379.7 1130.5,382.5 1138.8,385.5 1147.0,388.7 1155.2,392.1 1163.3,395.7 1171.2,399.6 1179.1,403.6 1186.9,407.8 1194.6,412.2 1202.1,416.8 1209.6,421.5 1216.9,426.5 1224.2,431.6 1231.3,436.8 1238.3,442.2 1245.3,447.8 1252.0,453.5 1258.7,459.4 1265.3,465.4 1271.7,471.6 1278.0,477.9 1284.2,484.3 1290.2,490.8 1296.1,497.4 1301.9,504.2 1307.5,511.1 1313.1,518.1 1318.4,525.1 1323.7,532.3 1328.7,539.6 1333.7,546.9 1338.5,554.3 1343.1,561.9 1347.6,569.4 1352.0,577.1"/><path d="M1087.5,423.0 1095.4,424.0 1103.3,425.1 1111.1,426.5 1118.8,428.2 1126.5,430.0 1134.0,432.0 1141.6,434.3 1149.0,436.8 1156.4,439.4 1163.6,442.2 1170.9,445.2 1178.0,448.4 1185.1,451.8 1192.1,455.3 1199.1,458.9 1205.9,462.7 1212.8,466.7 1219.5,470.8 1226.2,475.0 1232.8,479.3 1239.3,483.8 1245.8,488.4 1252.2,493.0 1258.6,497.8 1264.8,502.7 1271.1,507.6 1277.2,512.7 1283.3,517.8 1289.3,523.0 1295.3,528.2 1301.2,533.5 1307.1,538.8 1312.8,544.2 1318.6,549.6 1324.2,555.1 1329.8,560.6 1335.4,566.1 1340.8,571.6 1346.3,577.1"/><path d="M1087.5,475.3 1094.0,476.1 1100.4,476.9 1106.8,477.9 1113.2,478.9 1119.7,480.0 1126.1,481.3 1132.4,482.6 1138.8,484.0 1145.2,485.5 1151.5,487.2 1157.8,488.9 1164.1,490.7 1170.3,492.6 1176.6,494.6 1182.8,496.7 1188.9,499.0 1195.0,501.3 1201.1,503.7 1207.2,506.2 1213.2,508.8 1219.1,511.5 1225.0,514.3 1230.8,517.2 1236.6,520.2 1242.4,523.3 1248.0,526.5 1253.7,529.8 1259.2,533.2 1264.7,536.6 1270.1,540.2 1275.5,543.9 1280.7,547.7 1285.9,551.6 1291.1,555.6 1296.1,559.7 1301.1,563.9 1305.9,568.2 1310.7,572.6 1315.4,577.1"/><path d="M1087.5,526.1 1092.1,526.2 1096.8,526.3 1101.4,526.5 1106.1,526.8 1110.7,527.1 1115.3,527.6 1119.9,528.1 1124.5,528.6 1129.1,529.2 1133.7,529.9 1138.3,530.7 1142.9,531.5 1147.4,532.4 1152.0,533.4 1156.5,534.4 1161.0,535.5 1165.5,536.6 1170.0,537.9 1174.5,539.1 1178.9,540.5 1183.4,541.9 1187.8,543.4 1192.2,544.9 1196.5,546.5 1200.9,548.1 1205.2,549.8 1209.5,551.6 1213.8,553.4 1218.0,555.3 1222.2,557.2 1226.4,559.2 1230.6,561.3 1234.7,563.4 1238.8,565.5 1242.9,567.7 1246.9,570.0 1250.9,572.3 1254.9,574.7 1258.8,577.1"/></g><g stroke-width="6.4" stroke-opacity="0.3"><path d="M1087.5,268.2 1099.1,269.0 1110.3,271.0 1121.1,273.9 1131.5,277.8 1141.6,282.5 1151.4,287.9 1160.8,294.1 1170.0,300.8 1178.9,308.1 1187.5,315.7 1195.9,323.8 1204.1,332.1 1212.0,340.5 1219.8,349.1 1227.4,357.7 1234.9,366.2 1242.2,374.6 1249.4,383.1 1256.5,391.6 1263.4,400.3 1270.2,409.0 1277.0,417.9 1283.7,426.9 1290.4,436.0 1297.1,445.2 1303.7,454.4 1310.3,463.6 1316.8,472.9 1323.3,482.2 1329.7,491.6 1336.1,501.0 1342.4,510.4 1348.7,519.8 1354.9,529.3 1361.1,538.8 1367.2,548.4 1373.3,557.9 1379.4,567.5 1385.4,577.1"/><path d="M1087.5,319.9 1097.8,320.5 1107.9,321.9 1117.7,324.0 1127.3,326.7 1136.6,330.0 1145.7,333.8 1154.5,338.2 1163.2,343.0 1171.7,348.3 1179.9,354.0 1188.0,360.0 1195.9,366.4 1203.7,373.0 1211.3,379.9 1218.7,386.9 1226.0,394.1 1233.2,401.5 1240.2,408.9 1247.2,416.4 1254.0,424.0 1260.7,431.7 1267.3,439.4 1273.9,447.2 1280.3,455.0 1286.6,462.9 1292.9,470.8 1299.1,478.8 1305.2,486.8 1311.2,494.8 1317.2,502.9 1323.2,511.0 1329.0,519.1 1334.9,527.3 1340.7,535.5 1346.5,543.7 1352.2,552.0 1358.0,560.3 1363.7,568.7 1369.4,577.1"/><path d="M1087.5,370.8 1096.2,372.7 1104.9,374.8 1113.5,377.1 1122.0,379.7 1130.5,382.5 1138.8,385.5 1147.0,388.7 1155.2,392.1 1163.3,395.7 1171.2,399.6 1179.1,403.6 1186.9,407.8 1194.6,412.2 1202.1,416.8 1209.6,421.5 1216.9,426.5 1224.2,431.6 1231.3,436.8 1238.3,442.2 1245.3,447.8 1252.0,453.5 1258.7,459.4 1265.3,465.4 1271.7,471.6 1278.0,477.9 1284.2,484.3 1290.2,490.8 1296.1,497.4 1301.9,504.2 1307.5,511.1 1313.1,518.1 1318.4,525.1 1323.7,532.3 1328.7,539.6 1333.7,546.9 1338.5,554.3 1343.1,561.9 1347.6,569.4 1352.0,577.1"/><path d="M1087.5,423.0 1095.4,424.0 1103.3,425.1 1111.1,426.5 1118.8,428.2 1126.5,430.0 1134.0,432.0 1141.6,434.3 1149.0,436.8 1156.4,439.4 1163.6,442.2 1170.9,445.2 1178.0,448.4 1185.1,451.8 1192.1,455.3 1199.1,458.9 1205.9,462.7 1212.8,466.7 1219.5,470.8 1226.2,475.0 1232.8,479.3 1239.3,483.8 1245.8,488.4 1252.2,493.0 1258.6,497.8 1264.8,502.7 1271.1,507.6 1277.2,512.7 1283.3,517.8 1289.3,523.0 1295.3,528.2 1301.2,533.5 1307.1,538.8 1312.8,544.2 1318.6,549.6 1324.2,555.1 1329.8,560.6 1335.4,566.1 1340.8,571.6 1346.3,577.1"/><path d="M1087.5,475.3 1094.0,476.1 1100.4,476.9 1106.8,477.9 1113.2,478.9 1119.7,480.0 1126.1,481.3 1132.4,482.6 1138.8,484.0 1145.2,485.5 1151.5,487.2 1157.8,488.9 1164.1,490.7 1170.3,492.6 1176.6,494.6 1182.8,496.7 1188.9,499.0 1195.0,501.3 1201.1,503.7 1207.2,506.2 1213.2,508.8 1219.1,511.5 1225.0,514.3 1230.8,517.2 1236.6,520.2 1242.4,523.3 1248.0,526.5 1253.7,529.8 1259.2,533.2 1264.7,536.6 1270.1,540.2 1275.5,543.9 1280.7,547.7 1285.9,551.6 1291.1,555.6 1296.1,559.7 1301.1,563.9 1305.9,568.2 1310.7,572.6 1315.4,577.1"/><path d="M1087.5,526.1 1092.1,526.2 1096.8,526.3 1101.4,526.5 1106.1,526.8 1110.7,527.1 1115.3,527.6 1119.9,528.1 1124.5,528.6 1129.1,529.2 1133.7,529.9 1138.3,530.7 1142.9,531.5 1147.4,532.4 1152.0,533.4 1156.5,534.4 1161.0,535.5 1165.5,536.6 1170.0,537.9 1174.5,539.1 1178.9,540.5 1183.4,541.9 1187.8,543.4 1192.2,544.9 1196.5,546.5 1200.9,548.1 1205.2,549.8 1209.5,551.6 1213.8,553.4 1218.0,555.3 1222.2,557.2 1226.4,559.2 1230.6,561.3 1234.7,563.4 1238.8,565.5 1242.9,567.7 1246.9,570.0 1250.9,572.3 1254.9,574.7 1258.8,577.1"/></g><g stroke-width="5.2" stroke-opacity="0.6"><path d="M1087.5,268.2 1099.1,269.0 1110.3,271.0 1121.1,273.9 1131.5,277.8 1141.6,282.5 1151.4,287.9 1160.8,294.1 1170.0,300.8 1178.9,308.1 1187.5,315.7 1195.9,323.8 1204.1,332.1 1212.0,340.5 1219.8,349.1 1227.4,357.7 1234.9,366.2 1242.2,374.6 1249.4,383.1 1256.5,391.6 1263.4,400.3 1270.2,409.0 1277.0,417.9 1283.7,426.9 1290.4,436.0 1297.1,445.2 1303.7,454.4 1310.3,463.6 1316.8,472.9 1323.3,482.2 1329.7,491.6 1336.1,501.0 1342.4,510.4 1348.7,519.8 1354.9,529.3 1361.1,538.8 1367.2,548.4 1373.3,557.9 1379.4,567.5 1385.4,577.1"/><path d="M1087.5,319.9 1097.8,320.5 1107.9,321.9 1117.7,324.0 1127.3,326.7 1136.6,330.0 1145.7,333.8 1154.5,338.2 1163.2,343.0 1171.7,348.3 1179.9,354.0 1188.0,360.0 1195.9,366.4 1203.7,373.0 1211.3,379.9 1218.7,386.9 1226.0,394.1 1233.2,401.5 1240.2,408.9 1247.2,416.4 1254.0,424.0 1260.7,431.7 1267.3,439.4 1273.9,447.2 1280.3,455.0 1286.6,462.9 1292.9,470.8 1299.1,478.8 1305.2,486.8 1311.2,494.8 1317.2,502.9 1323.2,511.0 1329.0,519.1 1334.9,527.3 1340.7,535.5 1346.5,543.7 1352.2,552.0 1358.0,560.3 1363.7,568.7 1369.4,577.1"/><path d="M1087.5,370.8 1096.2,372.7 1104.9,374.8 1113.5,377.1 1122.0,379.7 1130.5,382.5 1138.8,385.5 1147.0,388.7 1155.2,392.1 1163.3,395.7 1171.2,399.6 1179.1,403.6 1186.9,407.8 1194.6,412.2 1202.1,416.8 1209.6,421.5 1216.9,426.5 1224.2,431.6 1231.3,436.8 1238.3,442.2 1245.3,447.8 1252.0,453.5 1258.7,459.4 1265.3,465.4 1271.7,471.6 1278.0,477.9 1284.2,484.3 1290.2,490.8 1296.1,497.4 1301.9,504.2 1307.5,511.1 1313.1,518.1 1318.4,525.1 1323.7,532.3 1328.7,539.6 1333.7,546.9 1338.5,554.3 1343.1,561.9 1347.6,569.4 1352.0,577.1"/><path d="M1087.5,423.0 1095.4,424.0 1103.3,425.1 1111.1,426.5 1118.8,428.2 1126.5,430.0 1134.0,432.0 1141.6,434.3 1149.0,436.8 1156.4,439.4 1163.6,442.2 1170.9,445.2 1178.0,448.4 1185.1,451.8 1192.1,455.3 1199.1,458.9 1205.9,462.7 1212.8,466.7 1219.5,470.8 1226.2,475.0 1232.8,479.3 1239.3,483.8 1245.8,488.4 1252.2,493.0 1258.6,497.8 1264.8,502.7 1271.1,507.6 1277.2,512.7 1283.3,517.8 1289.3,523.0 1295.3,528.2 1301.2,533.5 1307.1,538.8 1312.8,544.2 1318.6,549.6 1324.2,555.1 1329.8,560.6 1335.4,566.1 1340.8,571.6 1346.3,577.1"/><path d="M1087.5,475.3 1094.0,476.1 1100.4,476.9 1106.8,477.9 1113.2,478.9 1119.7,480.0 1126.1,481.3 1132.4,482.6 1138.8,484.0 1145.2,485.5 1151.5,487.2 1157.8,488.9 1164.1,490.7 1170.3,492.6 1176.6,494.6 1182.8,496.7 1188.9,499.0 1195.0,501.3 1201.1,503.7 1207.2,506.2 1213.2,508.8 1219.1,511.5 1225.0,514.3 1230.8,517.2 1236.6,520.2 1242.4,523.3 1248.0,526.5 1253.7,529.8 1259.2,533.2 1264.7,536.6 1270.1,540.2 1275.5,543.9 1280.7,547.7 1285.9,551.6 1291.1,555.6 1296.1,559.7 1301.1,563.9 1305.9,568.2 1310.7,572.6 1315.4,577.1"/><path d="M1087.5,526.1 1092.1,526.2 1096.8,526.3 1101.4,526.5 1106.1,526.8 1110.7,527.1 1115.3,527.6 1119.9,528.1 1124.5,528.6 1129.1,529.2 1133.7,529.9 1138.3,530.7 1142.9,531.5 1147.4,532.4 1152.0,533.4 1156.5,534.4 1161.0,535.5 1165.5,536.6 1170.0,537.9 1174.5,539.1 1178.9,540.5 1183.4,541.9 1187.8,543.4 1192.2,544.9 1196.5,546.5 1200.9,548.1 1205.2,549.8 1209.5,551.6 1213.8,553.4 1218.0,555.3 1222.2,557.2 1226.4,559.2 1230.6,561.3 1234.7,563.4 1238.8,565.5 1242.9,567.7 1246.9,570.0 1250.9,572.3 1254.9,574.7 1258.8,577.1"/></g><g stroke-width="4.0"><path d="M1087.5,268.2 1099.1,269.0 1110.3,271.0 1121.1,273.9 1131.5,277.8 1141.6,282.5 1151.4,287.9 1160.8,294.1 1170.0,300.8 1178.9,308.1 1187.5,315.7 1195.9,323.8 1204.1,332.1 1212.0,340.5 1219.8,349.1 1227.4,357.7 1234.9,366.2 1242.2,374.6 1249.4,383.1 1256.5,391.6 1263.4,400.3 1270.2,409.0 1277.0,417.9 1283.7,426.9 1290.4,436.0 1297.1,445.2 1303.7,454.4 1310.3,463.6 1316.8,472.9 1323.3,482.2 1329.7,491.6 1336.1,501.0 1342.4,510.4 1348.7,519.8 1354.9,529.3 1361.1,538.8 1367.2,548.4 1373.3,557.9 1379.4,567.5 1385.4,577.1"/><path d="M1087.5,319.9 1097.8,320.5 1107.9,321.9 1117.7,324.0 1127.3,326.7 1136.6,330.0 1145.7,333.8 1154.5,338.2 1163.2,343.0 1171.7,348.3 1179.9,354.0 1188.0,360.0 1195.9,366.4 1203.7,373.0 1211.3,379.9 1218.7,386.9 1226.0,394.1 1233.2,401.5 1240.2,408.9 1247.2,416.4 1254.0,424.0 1260.7,431.7 1267.3,439.4 1273.9,447.2 1280.3,455.0 1286.6,462.9 1292.9,470.8 1299.1,478.8 1305.2,486.8 1311.2,494.8 1317.2,502.9 1323.2,511.0 1329.0,519.1 1334.9,527.3 1340.7,535.5 1346.5,543.7 1352.2,552.0 1358.0,560.3 1363.7,568.7 1369.4,577.1"/><path d="M1087.5,370.8 1096.2,372.7 1104.9,374.8 1113.5,377.1 1122.0,379.7 1130.5,382.5 1138.8,385.5 1147.0,388.7 1155.2,392.1 1163.3,395.7 1171.2,399.6 1179.1,403.6 1186.9,407.8 1194.6,412.2 1202.1,416.8 1209.6,421.5 1216.9,426.5 1224.2,431.6 1231.3,436.8 1238.3,442.2 1245.3,447.8 1252.0,453.5 1258.7,459.4 1265.3,465.4 1271.7,471.6 1278.0,477.9 1284.2,484.3 1290.2,490.8 1296.1,497.4 1301.9,504.2 1307.5,511.1 1313.1,518.1 1318.4,525.1 1323.7,532.3 1328.7,539.6 1333.7,546.9 1338.5,554.3 1343.1,561.9 1347.6,569.4 1352.0,577.1"/><path d="M1087.5,423.0 1095.4,424.0 1103.3,425.1 1111.1,426.5 1118.8,428.2 1126.5,430.0 1134.0,432.0 1141.6,434.3 1149.0,436.8 1156.4,439.4 1163.6,442.2 1170.9,445.2 1178.0,448.4 1185.1,451.8 1192.1,455.3 1199.1,458.9 1205.9,462.7 1212.8,466.7 1219.5,470.8 1226.2,475.0 1232.8,479.3 1239.3,483.8 1245.8,488.4 1252.2,493.0 1258.6,497.8 1264.8,502.7 1271.1,507.6 1277.2,512.7 1283.3,517.8 1289.3,523.0 1295.3,528.2 1301.2,533.5 1307.1,538.8 1312.8,544.2 1318.6,549.6 1324.2,555.1 1329.8,560.6 1335.4,566.1 1340.8,571.6 1346.3,577.1"/><path d="M1087.5,475.3 1094.0,476.1 1100.4,476.9 1106.8,477.9 1113.2,478.9 1119.7,480.0 1126.1,481.3 1132.4,482.6 1138.8,484.0 1145.2,485.5 1151.5,487.2 1157.8,488.9 1164.1,490.7 1170.3,492.6 1176.6,494.6 1182.8,496.7 1188.9,499.0 1195.0,501.3 1201.1,503.7 1207.2,506.2 1213.2,508.8 1219.1,511.5 1225.0,514.3 1230.8,517.2 1236.6,520.2 1242.4,523.3 1248.0,526.5 1253.7,529.8 1259.2,533.2 1264.7,536.6 1270.1,540.2 1275.5,543.9 1280.7,547.7 1285.9,551.6 1291.1,555.6 1296.1,559.7 1301.1,563.9 1305.9,568.2 1310.7,572.6 1315.4,577.1"/><path d="M1087.5,526.1 1092.1,526.2 1096.8,526.3 1101.4,526.5 1106.1,526.8 1110.7,527.1 1115.3,527.6 1119.9,528.1 1124.5,528.6 1129.1,529.2 1133.7,529.9 1138.3,530.7 1142.9,531.5 1147.4,532.4 1152.0,533.4 1156.5,534.4 1161.0,535.5 1165.5,536.6 1170.0,537.9 1174.5,539.1 1178.9,540.5 1183.4,541.9 1187.8,543.4 1192.2,544.9 1196.5,546.5 1200.9,548.1 1205.2,549.8 1209.5,551.6 1213.8,553.4 1218.0,555.3 1222.2,557.2 1226.4,559.2 1230.6,561.3 1234.7,563.4 1238.8,565.5 1242.9,567.7 1246.9,570.0 1250.9,572.3 1254.9,574.7 1258.8,577.1"/></g></g>
</g>
<text x="1092.1" y="256.5" font-size="15.36" font-family='"Liberation Sans", sans-serif' fill="#000" font-weight="bold" textLength="25.9" lengthAdjust="spacingAndGlyphs" stroke="#000" stroke-width="1.8" stroke-linejoin="round">(20)</text>
<text x="1122.8" y="256.7" font-size="15.87" font-family='"Liberation Sans", sans-serif' fill="#000" font-weight="bold" font-style="italic" textLength="24.3" lengthAdjust="spacingAndGlyphs" stroke="#000" stroke-width="1.4400000000000002" stroke-linejoin="round">[34]</text>
<text x="1151.7" y="265.2" font-size="15.36" font-family='"Liberation Sans", sans-serif' fill="#000" font-weight="bold" textLength="24.0" lengthAdjust="spacingAndGlyphs" stroke="#000" stroke-width="1.8" stroke-linejoin="round">(40)</text>
<text x="1182.2" y="265.4" font-size="15.87" font-family='"Liberation Sans", sans-serif' fill="#000" font-weight="bold" font-style="italic" textLength="23.5" lengthAdjust="spacingAndGlyphs" stroke="#000" stroke-width="1.4400000000000002" stroke-linejoin="round">[68]</text>
<text x="1174.3" y="289.4" font-size="15.36" font-family='"Liberation Sans", sans-serif' fill="#000" font-weight="bold" textLength="25.6" lengthAdjust="spacingAndGlyphs" stroke="#000" stroke-width="1.8" stroke-linejoin="round">(60)</text>
<text x="1204.8" y="289.6" font-size="15.87" font-family='"Liberation Sans", sans-serif' fill="#000" font-weight="bold" font-style="italic" textLength="30.5" lengthAdjust="spacingAndGlyphs" stroke="#000" stroke-width="1.4400000000000002" stroke-linejoin="round">[102]</text>
<text x="1202.4" y="311.2" font-size="15.36" font-family='"Liberation Sans", sans-serif' fill="#000" font-weight="bold" textLength="25.6" lengthAdjust="spacingAndGlyphs" stroke="#000" stroke-width="1.8" stroke-linejoin="round">(80)</text>
<text x="1232.9" y="311.4" font-size="15.87" font-family='"Liberation Sans", sans-serif' fill="#000" font-weight="bold" font-style="italic" textLength="29.8" lengthAdjust="spacingAndGlyphs" stroke="#000" stroke-width="1.4400000000000002" stroke-linejoin="round">[136]</text>
<text x="1232.9" y="353.4" font-size="15.36" font-family='"Liberation Sans", sans-serif' fill="#000" font-weight="bold" textLength="34.2" lengthAdjust="spacingAndGlyphs" stroke="#000" stroke-width="1.8" stroke-linejoin="round">(100)</text>
<text x="1271.1" y="353.6" font-size="15.87" font-family='"Liberation Sans", sans-serif' fill="#000" font-weight="bold" font-style="italic" textLength="30.6" lengthAdjust="spacingAndGlyphs" stroke="#000" stroke-width="1.4400000000000002" stroke-linejoin="round">[170]</text>
<text x="1383.6" y="291.5" font-size="17.5" font-family='"Liberation Sans", "Noto Sans CJK SC", sans-serif' fill="#000" font-weight="500" textLength="85.3" lengthAdjust="spacingAndGlyphs">空气消耗量</text>
<text x="1372.5" y="310.7" font-size="15.5" font-family='"Liberation Sans", sans-serif' fill="#000" font-weight="bold" textLength="49.0" lengthAdjust="spacingAndGlyphs" stroke="#000" stroke-width="1.1" stroke-linejoin="round">(SCFM)</text>
<text x="1425.8" y="310.6" font-size="15.6" font-family='"Liberation Sans", sans-serif' font-weight="bold" font-style="italic" stroke="#000" stroke-width="0.9" stroke-linejoin="round" textLength="52.3" lengthAdjust="spacingAndGlyphs">[Nm<tspan font-size="9.5" dy="-6">3</tspan><tspan dy="6">/h]</tspan></text>
<path d="M988.7,241.5V578.2M978.1,576.9H988.7M978.1,539.6H988.7M978.1,502.3H988.7M978.1,465.0H988.7M978.1,427.7H988.7M978.1,390.4H988.7M978.1,353.1H988.7M978.1,315.8H988.7M978.1,278.5H988.7M1039.7,241.9V576.9M1029.1,575.6H1039.7M1029.1,547.9H1039.7M1029.1,520.2H1039.7M1029.1,492.5H1039.7M1029.1,464.8H1039.7M1029.1,437.1H1039.7M1029.1,409.4H1039.7M1029.1,381.7H1039.7M1029.1,354.0H1039.7M1029.1,326.3H1039.7M1029.1,298.6H1039.7M1029.1,270.9H1039.7M1029.1,243.2H1039.7" stroke="#000" stroke-width="2.8" fill="none"/>
<text x="964.9" y="581.8" font-size="17.32" font-family='"Liberation Sans", sans-serif' fill="#000" font-weight="bold" textLength="7.9" lengthAdjust="spacingAndGlyphs" stroke="#000" stroke-width="1.8" stroke-linejoin="round">0</text>
<text x="964.9" y="544.5" font-size="17.32" font-family='"Liberation Sans", sans-serif' fill="#000" font-weight="bold" textLength="7.9" lengthAdjust="spacingAndGlyphs" stroke="#000" stroke-width="1.8" stroke-linejoin="round">1</text>
<text x="964.9" y="507.2" font-size="17.32" font-family='"Liberation Sans", sans-serif' fill="#000" font-weight="bold" textLength="7.9" lengthAdjust="spacingAndGlyphs" stroke="#000" stroke-width="1.8" stroke-linejoin="round">2</text>
<text x="964.9" y="469.9" font-size="17.32" font-family='"Liberation Sans", sans-serif' fill="#000" font-weight="bold" textLength="7.9" lengthAdjust="spacingAndGlyphs" stroke="#000" stroke-width="1.8" stroke-linejoin="round">3</text>
<text x="964.9" y="432.6" font-size="17.32" font-family='"Liberation Sans", sans-serif' fill="#000" font-weight="bold" textLength="7.9" lengthAdjust="spacingAndGlyphs" stroke="#000" stroke-width="1.8" stroke-linejoin="round">4</text>
<text x="964.9" y="395.3" font-size="17.32" font-family='"Liberation Sans", sans-serif' fill="#000" font-weight="bold" textLength="7.9" lengthAdjust="spacingAndGlyphs" stroke="#000" stroke-width="1.8" stroke-linejoin="round">5</text>
<text x="964.9" y="358.0" font-size="17.32" font-family='"Liberation Sans", sans-serif' fill="#000" font-weight="bold" textLength="7.9" lengthAdjust="spacingAndGlyphs" stroke="#000" stroke-width="1.8" stroke-linejoin="round">6</text>
<text x="964.9" y="320.7" font-size="17.32" font-family='"Liberation Sans", sans-serif' fill="#000" font-weight="bold" textLength="7.9" lengthAdjust="spacingAndGlyphs" stroke="#000" stroke-width="1.8" stroke-linejoin="round">7</text>
<text x="964.9" y="283.4" font-size="17.32" font-family='"Liberation Sans", sans-serif' fill="#000" font-weight="bold" textLength="7.9" lengthAdjust="spacingAndGlyphs" stroke="#000" stroke-width="1.8" stroke-linejoin="round">8</text>
<text x="1015.5" y="580.1" font-size="17.32" font-family='"Liberation Sans", sans-serif' fill="#000" font-weight="bold" textLength="7.3" lengthAdjust="spacingAndGlyphs" stroke="#000" stroke-width="1.8" stroke-linejoin="round">0</text>
<text x="1006.4" y="524.7" font-size="17.32" font-family='"Liberation Sans", sans-serif' fill="#000" font-weight="bold" textLength="16.4" lengthAdjust="spacingAndGlyphs" stroke="#000" stroke-width="1.8" stroke-linejoin="round">50</text>
<text x="997.3" y="469.3" font-size="17.32" font-family='"Liberation Sans", sans-serif' fill="#000" font-weight="bold" textLength="25.5" lengthAdjust="spacingAndGlyphs" stroke="#000" stroke-width="1.8" stroke-linejoin="round">100</text>
<text x="997.3" y="413.9" font-size="17.32" font-family='"Liberation Sans", sans-serif' fill="#000" font-weight="bold" textLength="25.5" lengthAdjust="spacingAndGlyphs" stroke="#000" stroke-width="1.8" stroke-linejoin="round">150</text>
<text x="997.3" y="358.5" font-size="17.32" font-family='"Liberation Sans", sans-serif' fill="#000" font-weight="bold" textLength="25.5" lengthAdjust="spacingAndGlyphs" stroke="#000" stroke-width="1.8" stroke-linejoin="round">200</text>
<text x="997.3" y="303.1" font-size="17.32" font-family='"Liberation Sans", sans-serif' fill="#000" font-weight="bold" textLength="25.5" lengthAdjust="spacingAndGlyphs" stroke="#000" stroke-width="1.8" stroke-linejoin="round">250</text>
<text x="997.3" y="249.8" font-size="17.32" font-family='"Liberation Sans", sans-serif' fill="#000" font-weight="bold" textLength="25.5" lengthAdjust="spacingAndGlyphs" stroke="#000" stroke-width="1.8" stroke-linejoin="round">300</text>
<text x="1070.8" y="579.3" font-size="17.32" font-family='"Liberation Sans", sans-serif' fill="#000" font-weight="bold" textLength="7.3" lengthAdjust="spacingAndGlyphs" stroke="#000" stroke-width="1.8" stroke-linejoin="round">0</text>
<text x="1061.7" y="529.7" font-size="17.32" font-family='"Liberation Sans", sans-serif' fill="#000" font-weight="bold" textLength="16.4" lengthAdjust="spacingAndGlyphs" stroke="#000" stroke-width="1.8" stroke-linejoin="round">20</text>
<text x="1061.7" y="478.4" font-size="17.32" font-family='"Liberation Sans", sans-serif' fill="#000" font-weight="bold" textLength="16.4" lengthAdjust="spacingAndGlyphs" stroke="#000" stroke-width="1.8" stroke-linejoin="round">40</text>
<text x="1061.7" y="427.0" font-size="17.32" font-family='"Liberation Sans", sans-serif' fill="#000" font-weight="bold" textLength="16.4" lengthAdjust="spacingAndGlyphs" stroke="#000" stroke-width="1.8" stroke-linejoin="round">60</text>
<text x="1061.7" y="375.7" font-size="17.32" font-family='"Liberation Sans", sans-serif' fill="#000" font-weight="bold" textLength="16.4" lengthAdjust="spacingAndGlyphs" stroke="#000" stroke-width="1.8" stroke-linejoin="round">80</text>
<text x="1052.6" y="324.4" font-size="17.32" font-family='"Liberation Sans", sans-serif' fill="#000" font-weight="bold" textLength="25.5" lengthAdjust="spacingAndGlyphs" stroke="#000" stroke-width="1.8" stroke-linejoin="round">100</text>
<text x="1052.6" y="273.0" font-size="17.32" font-family='"Liberation Sans", sans-serif' fill="#000" font-weight="bold" textLength="25.5" lengthAdjust="spacingAndGlyphs" stroke="#000" stroke-width="1.8" stroke-linejoin="round">120</text>
<text x="957.7" y="228.2" font-size="13.72" font-family='"Liberation Sans", sans-serif' fill="#000" font-weight="bold" textLength="26.7" lengthAdjust="spacingAndGlyphs" stroke="#000" stroke-width="1.5" stroke-linejoin="round">BAR</text>
<text x="999.6" y="228.2" font-size="13.72" font-family='"Liberation Sans", sans-serif' fill="#000" font-weight="bold" textLength="29.1" lengthAdjust="spacingAndGlyphs" stroke="#000" stroke-width="1.5" stroke-linejoin="round">FEET</text>
<text x="1048.8" y="228.2" font-size="13.72" font-family='"Liberation Sans", sans-serif' fill="#000" font-weight="bold" textLength="29.5" lengthAdjust="spacingAndGlyphs" stroke="#000" stroke-width="1.5" stroke-linejoin="round">PSIG</text>
<text x="1151.4" y="599.7" font-size="15.92" font-family='"Liberation Sans", sans-serif' fill="#000" font-weight="bold" textLength="13.9" lengthAdjust="spacingAndGlyphs" stroke="#000" stroke-width="1.6" stroke-linejoin="round">20</text>
<text x="1146.7" y="618.9" font-size="15.64" font-family='"Liberation Sans", sans-serif' fill="#000" font-weight="bold" textLength="23.4" lengthAdjust="spacingAndGlyphs" stroke="#000" stroke-width="1.2" stroke-linejoin="round">[76]</text>
<text x="1222.3" y="599.7" font-size="15.92" font-family='"Liberation Sans", sans-serif' fill="#000" font-weight="bold" textLength="13.9" lengthAdjust="spacingAndGlyphs" stroke="#000" stroke-width="1.6" stroke-linejoin="round">40</text>
<text x="1213.9" y="618.9" font-size="15.64" font-family='"Liberation Sans", sans-serif' fill="#000" font-weight="bold" textLength="30.7" lengthAdjust="spacingAndGlyphs" stroke="#000" stroke-width="1.2" stroke-linejoin="round">[151]</text>
<text x="1293.2" y="599.7" font-size="15.92" font-family='"Liberation Sans", sans-serif' fill="#000" font-weight="bold" textLength="13.9" lengthAdjust="spacingAndGlyphs" stroke="#000" stroke-width="1.6" stroke-linejoin="round">60</text>
<text x="1284.8" y="618.9" font-size="15.64" font-family='"Liberation Sans", sans-serif' fill="#000" font-weight="bold" textLength="30.7" lengthAdjust="spacingAndGlyphs" stroke="#000" stroke-width="1.2" stroke-linejoin="round">[227]</text>
<text x="1364.1" y="599.7" font-size="15.92" font-family='"Liberation Sans", sans-serif' fill="#000" font-weight="bold" textLength="13.9" lengthAdjust="spacingAndGlyphs" stroke="#000" stroke-width="1.6" stroke-linejoin="round">80</text>
<text x="1355.7" y="618.9" font-size="15.64" font-family='"Liberation Sans", sans-serif' fill="#000" font-weight="bold" textLength="30.7" lengthAdjust="spacingAndGlyphs" stroke="#000" stroke-width="1.2" stroke-linejoin="round">[303]</text>
<text x="1431.2" y="599.7" font-size="15.92" font-family='"Liberation Sans", sans-serif' fill="#000" font-weight="bold" textLength="21.4" lengthAdjust="spacingAndGlyphs" stroke="#000" stroke-width="1.6" stroke-linejoin="round">100</text>
<text x="1426.5" y="618.9" font-size="15.64" font-family='"Liberation Sans", sans-serif' fill="#000" font-weight="bold" textLength="30.7" lengthAdjust="spacingAndGlyphs" stroke="#000" stroke-width="1.2" stroke-linejoin="round">[379]</text>
<text x="1502.1" y="599.7" font-size="15.92" font-family='"Liberation Sans", sans-serif' fill="#000" font-weight="bold" textLength="21.4" lengthAdjust="spacingAndGlyphs" stroke="#000" stroke-width="1.6" stroke-linejoin="round">120</text>
<text x="1497.4" y="618.9" font-size="15.64" font-family='"Liberation Sans", sans-serif' fill="#000" font-weight="bold" textLength="30.7" lengthAdjust="spacingAndGlyphs" stroke="#000" stroke-width="1.2" stroke-linejoin="round">[454]</text>
<text x="1008.7" y="602.7" font-size="17" font-family='"Liberation Sans", "Noto Sans CJK SC", sans-serif' fill="#000" font-weight="500" textLength="34.0" lengthAdjust="spacingAndGlyphs">流量</text>
<text x="1000.2" y="623.7" font-size="17" font-family='"Liberation Sans", "Noto Sans CJK SC", sans-serif' fill="#000" font-weight="500" textLength="51.0" lengthAdjust="spacingAndGlyphs">（水）</text>
<text x="1063.4" y="599.6" font-size="15.64" font-family='"Liberation Sans", sans-serif' fill="#000" font-weight="bold" textLength="31.8" lengthAdjust="spacingAndGlyphs" stroke="#000" stroke-width="1.8" stroke-linejoin="round">GPM</text>
<text x="1060.2" y="619.5" font-size="15.5" font-family='"Liberation Sans", sans-serif' fill="#000" font-weight="bold" textLength="39.5" lengthAdjust="spacingAndGlyphs" stroke="#000" stroke-width="1.5" stroke-linejoin="round">[LPM]</text>
</g>
<g id="chart3">
<text x="561.5" y="678.0" font-size="32.5" font-family='"Liberation Sans", "Noto Sans CJK SC", sans-serif' fill="#6b9ca8" font-weight="300" textLength="130.5" lengthAdjust="spacingAndGlyphs">橡胶隔膜</text>
<path d="M460.50,692.00V1030.39M498.50,692.00V1030.39M537.50,692.00V1030.39M575.50,692.00V1030.39M614.50,692.00V1030.39M653.50,692.00V1030.39M691.50,692.00V1030.39M730.50,692.00V1030.39M768.50,692.00V718.50M768.50,770.50V1030.39M807.50,692.00V718.50M807.50,770.50V1030.39M846.50,692.00V718.50M846.50,770.50V1030.39M884.50,692.00V1030.39M926.50,692.00V1030.39M460.10,692.50H926.49M460.10,718.50H926.49M460.10,744.50H730.50M884.50,744.50H926.49M460.10,770.50H926.49M460.10,796.50H926.49M460.10,822.50H926.49M460.10,848.50H926.49M460.10,874.50H926.49M460.10,900.50H926.49M460.10,926.50H926.49M460.10,952.50H926.49M460.10,978.50H926.49M460.10,1004.50H926.49M460.10,1030.50H926.49" stroke="#2a2a2a" stroke-width="1" fill="none" shape-rendering="crispEdges"/>
<path d="M926.5,692.0V1030.4" stroke="#2a2a2a" stroke-width="2"/>
<clipPath id="cp3"><rect x="452.1" y="690.0" width="476.4" height="345.4"/></clipPath>
<g clip-path="url(#cp3)">
<g fill="none" stroke="#ff580e" stroke-linecap="butt" stroke-linejoin="round"><g stroke-width="7.6" stroke-opacity="0.13"><path d="M456.7,716.8 469.9,722.8 483.0,729.0 496.1,735.2 509.0,741.7 521.9,748.2 534.7,754.8 547.4,761.5 560.1,768.3 572.8,775.2 585.5,782.1 598.1,789.1 610.8,796.1 623.4,803.2 636.1,810.2 648.8,817.2 661.5,824.2 674.2,831.2 687.0,838.3 699.7,845.3 712.4,852.5 725.1,859.7 737.6,867.0 750.0,874.5 762.3,882.1 774.5,890.0 786.4,898.0 798.2,906.3 809.7,914.8 821.0,923.6 832.0,932.7 842.7,942.1 853.1,951.9 863.2,962.1 872.9,972.7 882.2,983.7 891.1,995.1 899.6,1007.0 907.7,1019.5 915.2,1032.4"/><path d="M456.8,769.2 468.8,774.5 480.9,779.7 493.0,784.9 505.1,790.1 517.3,795.2 529.5,800.4 541.8,805.5 554.1,810.7 566.3,815.9 578.6,821.1 590.8,826.3 603.1,831.7 615.3,837.0 627.4,842.5 639.6,848.0 651.6,853.6 663.7,859.3 675.6,865.2 687.5,871.1 699.3,877.2 711.0,883.4 722.6,889.8 734.1,896.3 745.5,903.0 756.7,909.9 767.8,916.9 778.8,924.2 789.6,931.7 800.2,939.5 810.6,947.5 820.8,955.7 830.8,964.2 840.6,973.0 850.2,982.1 859.5,991.5 868.6,1001.2 877.4,1011.2 886.0,1021.6 894.2,1032.3"/><path d="M456.8,820.7 468.1,824.3 479.5,828.0 490.8,831.8 502.1,835.7 513.4,839.7 524.6,843.8 535.9,847.9 547.1,852.2 558.2,856.5 569.4,860.9 580.5,865.5 591.6,870.0 602.6,874.7 613.7,879.4 624.7,884.2 635.6,889.1 646.6,894.1 657.5,899.1 668.3,904.2 679.2,909.3 690.0,914.6 700.7,919.8 711.5,925.2 722.1,930.6 732.8,936.2 743.3,941.8 753.7,947.6 764.1,953.5 774.4,959.6 784.5,965.9 794.5,972.3 804.4,979.0 814.2,985.8 823.8,992.9 833.2,1000.2 842.5,1007.8 851.6,1015.7 860.5,1023.9 869.2,1032.3"/><path d="M456.7,873.0 467.5,875.2 478.2,877.5 488.8,880.0 499.5,882.6 510.0,885.4 520.6,888.3 531.1,891.3 541.6,894.4 552.0,897.7 562.4,901.1 572.8,904.6 583.1,908.2 593.4,911.9 603.6,915.7 613.9,919.6 624.1,923.6 634.2,927.7 644.4,931.9 654.5,936.2 664.5,940.5 674.6,944.9 684.6,949.4 694.6,954.0 704.5,958.6 714.5,963.3 724.4,968.0 734.3,972.7 744.1,977.6 754.0,982.4 763.8,987.3 773.6,992.2 783.4,997.2 793.1,1002.1 802.8,1007.1 812.6,1012.2 822.2,1017.2 831.9,1022.2 841.6,1027.2 851.2,1032.3"/><path d="M456.7,926.1 465.2,927.6 473.7,929.2 482.1,930.8 490.6,932.4 499.1,934.1 507.5,935.9 516.0,937.7 524.4,939.6 532.9,941.5 541.3,943.5 549.7,945.5 558.1,947.6 566.5,949.8 574.9,952.0 583.2,954.3 591.6,956.6 599.9,959.0 608.2,961.5 616.5,964.1 624.7,966.7 632.9,969.4 641.1,972.2 649.3,975.1 657.4,978.0 665.5,981.0 673.6,984.1 681.6,987.3 689.6,990.5 697.6,993.9 705.5,997.3 713.4,1000.8 721.2,1004.4 729.0,1008.1 736.8,1011.9 744.5,1015.8 752.1,1019.8 759.7,1023.8 767.3,1028.0 774.8,1032.3"/><path d="M456.7,978.5 462.2,979.2 467.6,980.0 473.1,980.9 478.5,981.8 484.0,982.8 489.4,983.8 494.8,984.8 500.2,985.9 505.6,987.1 511.0,988.3 516.3,989.5 521.7,990.8 527.1,992.1 532.4,993.5 537.7,994.8 543.1,996.3 548.4,997.7 553.7,999.2 559.0,1000.7 564.3,1002.2 569.6,1003.8 574.9,1005.3 580.2,1006.9 585.5,1008.5 590.8,1010.2 596.1,1011.8 601.3,1013.5 606.6,1015.2 611.8,1016.8 617.1,1018.5 622.4,1020.2 627.6,1021.9 632.9,1023.7 638.1,1025.4 643.3,1027.1 648.6,1028.8 653.8,1030.5 659.1,1032.2 664.3,1033.9"/></g><g stroke-width="6.4" stroke-opacity="0.3"><path d="M456.7,716.8 469.9,722.8 483.0,729.0 496.1,735.2 509.0,741.7 521.9,748.2 534.7,754.8 547.4,761.5 560.1,768.3 572.8,775.2 585.5,782.1 598.1,789.1 610.8,796.1 623.4,803.2 636.1,810.2 648.8,817.2 661.5,824.2 674.2,831.2 687.0,838.3 699.7,845.3 712.4,852.5 725.1,859.7 737.6,867.0 750.0,874.5 762.3,882.1 774.5,890.0 786.4,898.0 798.2,906.3 809.7,914.8 821.0,923.6 832.0,932.7 842.7,942.1 853.1,951.9 863.2,962.1 872.9,972.7 882.2,983.7 891.1,995.1 899.6,1007.0 907.7,1019.5 915.2,1032.4"/><path d="M456.8,769.2 468.8,774.5 480.9,779.7 493.0,784.9 505.1,790.1 517.3,795.2 529.5,800.4 541.8,805.5 554.1,810.7 566.3,815.9 578.6,821.1 590.8,826.3 603.1,831.7 615.3,837.0 627.4,842.5 639.6,848.0 651.6,853.6 663.7,859.3 675.6,865.2 687.5,871.1 699.3,877.2 711.0,883.4 722.6,889.8 734.1,896.3 745.5,903.0 756.7,909.9 767.8,916.9 778.8,924.2 789.6,931.7 800.2,939.5 810.6,947.5 820.8,955.7 830.8,964.2 840.6,973.0 850.2,982.1 859.5,991.5 868.6,1001.2 877.4,1011.2 886.0,1021.6 894.2,1032.3"/><path d="M456.8,820.7 468.1,824.3 479.5,828.0 490.8,831.8 502.1,835.7 513.4,839.7 524.6,843.8 535.9,847.9 547.1,852.2 558.2,856.5 569.4,860.9 580.5,865.5 591.6,870.0 602.6,874.7 613.7,879.4 624.7,884.2 635.6,889.1 646.6,894.1 657.5,899.1 668.3,904.2 679.2,909.3 690.0,914.6 700.7,919.8 711.5,925.2 722.1,930.6 732.8,936.2 743.3,941.8 753.7,947.6 764.1,953.5 774.4,959.6 784.5,965.9 794.5,972.3 804.4,979.0 814.2,985.8 823.8,992.9 833.2,1000.2 842.5,1007.8 851.6,1015.7 860.5,1023.9 869.2,1032.3"/><path d="M456.7,873.0 467.5,875.2 478.2,877.5 488.8,880.0 499.5,882.6 510.0,885.4 520.6,888.3 531.1,891.3 541.6,894.4 552.0,897.7 562.4,901.1 572.8,904.6 583.1,908.2 593.4,911.9 603.6,915.7 613.9,919.6 624.1,923.6 634.2,927.7 644.4,931.9 654.5,936.2 664.5,940.5 674.6,944.9 684.6,949.4 694.6,954.0 704.5,958.6 714.5,963.3 724.4,968.0 734.3,972.7 744.1,977.6 754.0,982.4 763.8,987.3 773.6,992.2 783.4,997.2 793.1,1002.1 802.8,1007.1 812.6,1012.2 822.2,1017.2 831.9,1022.2 841.6,1027.2 851.2,1032.3"/><path d="M456.7,926.1 465.2,927.6 473.7,929.2 482.1,930.8 490.6,932.4 499.1,934.1 507.5,935.9 516.0,937.7 524.4,939.6 532.9,941.5 541.3,943.5 549.7,945.5 558.1,947.6 566.5,949.8 574.9,952.0 583.2,954.3 591.6,956.6 599.9,959.0 608.2,961.5 616.5,964.1 624.7,966.7 632.9,969.4 641.1,972.2 649.3,975.1 657.4,978.0 665.5,981.0 673.6,984.1 681.6,987.3 689.6,990.5 697.6,993.9 705.5,997.3 713.4,1000.8 721.2,1004.4 729.0,1008.1 736.8,1011.9 744.5,1015.8 752.1,1019.8 759.7,1023.8 767.3,1028.0 774.8,1032.3"/><path d="M456.7,978.5 462.2,979.2 467.6,980.0 473.1,980.9 478.5,981.8 484.0,982.8 489.4,983.8 494.8,984.8 500.2,985.9 505.6,987.1 511.0,988.3 516.3,989.5 521.7,990.8 527.1,992.1 532.4,993.5 537.7,994.8 543.1,996.3 548.4,997.7 553.7,999.2 559.0,1000.7 564.3,1002.2 569.6,1003.8 574.9,1005.3 580.2,1006.9 585.5,1008.5 590.8,1010.2 596.1,1011.8 601.3,1013.5 606.6,1015.2 611.8,1016.8 617.1,1018.5 622.4,1020.2 627.6,1021.9 632.9,1023.7 638.1,1025.4 643.3,1027.1 648.6,1028.8 653.8,1030.5 659.1,1032.2 664.3,1033.9"/></g><g stroke-width="5.2" stroke-opacity="0.6"><path d="M456.7,716.8 469.9,722.8 483.0,729.0 496.1,735.2 509.0,741.7 521.9,748.2 534.7,754.8 547.4,761.5 560.1,768.3 572.8,775.2 585.5,782.1 598.1,789.1 610.8,796.1 623.4,803.2 636.1,810.2 648.8,817.2 661.5,824.2 674.2,831.2 687.0,838.3 699.7,845.3 712.4,852.5 725.1,859.7 737.6,867.0 750.0,874.5 762.3,882.1 774.5,890.0 786.4,898.0 798.2,906.3 809.7,914.8 821.0,923.6 832.0,932.7 842.7,942.1 853.1,951.9 863.2,962.1 872.9,972.7 882.2,983.7 891.1,995.1 899.6,1007.0 907.7,1019.5 915.2,1032.4"/><path d="M456.8,769.2 468.8,774.5 480.9,779.7 493.0,784.9 505.1,790.1 517.3,795.2 529.5,800.4 541.8,805.5 554.1,810.7 566.3,815.9 578.6,821.1 590.8,826.3 603.1,831.7 615.3,837.0 627.4,842.5 639.6,848.0 651.6,853.6 663.7,859.3 675.6,865.2 687.5,871.1 699.3,877.2 711.0,883.4 722.6,889.8 734.1,896.3 745.5,903.0 756.7,909.9 767.8,916.9 778.8,924.2 789.6,931.7 800.2,939.5 810.6,947.5 820.8,955.7 830.8,964.2 840.6,973.0 850.2,982.1 859.5,991.5 868.6,1001.2 877.4,1011.2 886.0,1021.6 894.2,1032.3"/><path d="M456.8,820.7 468.1,824.3 479.5,828.0 490.8,831.8 502.1,835.7 513.4,839.7 524.6,843.8 535.9,847.9 547.1,852.2 558.2,856.5 569.4,860.9 580.5,865.5 591.6,870.0 602.6,874.7 613.7,879.4 624.7,884.2 635.6,889.1 646.6,894.1 657.5,899.1 668.3,904.2 679.2,909.3 690.0,914.6 700.7,919.8 711.5,925.2 722.1,930.6 732.8,936.2 743.3,941.8 753.7,947.6 764.1,953.5 774.4,959.6 784.5,965.9 794.5,972.3 804.4,979.0 814.2,985.8 823.8,992.9 833.2,1000.2 842.5,1007.8 851.6,1015.7 860.5,1023.9 869.2,1032.3"/><path d="M456.7,873.0 467.5,875.2 478.2,877.5 488.8,880.0 499.5,882.6 510.0,885.4 520.6,888.3 531.1,891.3 541.6,894.4 552.0,897.7 562.4,901.1 572.8,904.6 583.1,908.2 593.4,911.9 603.6,915.7 613.9,919.6 624.1,923.6 634.2,927.7 644.4,931.9 654.5,936.2 664.5,940.5 674.6,944.9 684.6,949.4 694.6,954.0 704.5,958.6 714.5,963.3 724.4,968.0 734.3,972.7 744.1,977.6 754.0,982.4 763.8,987.3 773.6,992.2 783.4,997.2 793.1,1002.1 802.8,1007.1 812.6,1012.2 822.2,1017.2 831.9,1022.2 841.6,1027.2 851.2,1032.3"/><path d="M456.7,926.1 465.2,927.6 473.7,929.2 482.1,930.8 490.6,932.4 499.1,934.1 507.5,935.9 516.0,937.7 524.4,939.6 532.9,941.5 541.3,943.5 549.7,945.5 558.1,947.6 566.5,949.8 574.9,952.0 583.2,954.3 591.6,956.6 599.9,959.0 608.2,961.5 616.5,964.1 624.7,966.7 632.9,969.4 641.1,972.2 649.3,975.1 657.4,978.0 665.5,981.0 673.6,984.1 681.6,987.3 689.6,990.5 697.6,993.9 705.5,997.3 713.4,1000.8 721.2,1004.4 729.0,1008.1 736.8,1011.9 744.5,1015.8 752.1,1019.8 759.7,1023.8 767.3,1028.0 774.8,1032.3"/><path d="M456.7,978.5 462.2,979.2 467.6,980.0 473.1,980.9 478.5,981.8 484.0,982.8 489.4,983.8 494.8,984.8 500.2,985.9 505.6,987.1 511.0,988.3 516.3,989.5 521.7,990.8 527.1,992.1 532.4,993.5 537.7,994.8 543.1,996.3 548.4,997.7 553.7,999.2 559.0,1000.7 564.3,1002.2 569.6,1003.8 574.9,1005.3 580.2,1006.9 585.5,1008.5 590.8,1010.2 596.1,1011.8 601.3,1013.5 606.6,1015.2 611.8,1016.8 617.1,1018.5 622.4,1020.2 627.6,1021.9 632.9,1023.7 638.1,1025.4 643.3,1027.1 648.6,1028.8 653.8,1030.5 659.1,1032.2 664.3,1033.9"/></g><g stroke-width="4.0"><path d="M456.7,716.8 469.9,722.8 483.0,729.0 496.1,735.2 509.0,741.7 521.9,748.2 534.7,754.8 547.4,761.5 560.1,768.3 572.8,775.2 585.5,782.1 598.1,789.1 610.8,796.1 623.4,803.2 636.1,810.2 648.8,817.2 661.5,824.2 674.2,831.2 687.0,838.3 699.7,845.3 712.4,852.5 725.1,859.7 737.6,867.0 750.0,874.5 762.3,882.1 774.5,890.0 786.4,898.0 798.2,906.3 809.7,914.8 821.0,923.6 832.0,932.7 842.7,942.1 853.1,951.9 863.2,962.1 872.9,972.7 882.2,983.7 891.1,995.1 899.6,1007.0 907.7,1019.5 915.2,1032.4"/><path d="M456.8,769.2 468.8,774.5 480.9,779.7 493.0,784.9 505.1,790.1 517.3,795.2 529.5,800.4 541.8,805.5 554.1,810.7 566.3,815.9 578.6,821.1 590.8,826.3 603.1,831.7 615.3,837.0 627.4,842.5 639.6,848.0 651.6,853.6 663.7,859.3 675.6,865.2 687.5,871.1 699.3,877.2 711.0,883.4 722.6,889.8 734.1,896.3 745.5,903.0 756.7,909.9 767.8,916.9 778.8,924.2 789.6,931.7 800.2,939.5 810.6,947.5 820.8,955.7 830.8,964.2 840.6,973.0 850.2,982.1 859.5,991.5 868.6,1001.2 877.4,1011.2 886.0,1021.6 894.2,1032.3"/><path d="M456.8,820.7 468.1,824.3 479.5,828.0 490.8,831.8 502.1,835.7 513.4,839.7 524.6,843.8 535.9,847.9 547.1,852.2 558.2,856.5 569.4,860.9 580.5,865.5 591.6,870.0 602.6,874.7 613.7,879.4 624.7,884.2 635.6,889.1 646.6,894.1 657.5,899.1 668.3,904.2 679.2,909.3 690.0,914.6 700.7,919.8 711.5,925.2 722.1,930.6 732.8,936.2 743.3,941.8 753.7,947.6 764.1,953.5 774.4,959.6 784.5,965.9 794.5,972.3 804.4,979.0 814.2,985.8 823.8,992.9 833.2,1000.2 842.5,1007.8 851.6,1015.7 860.5,1023.9 869.2,1032.3"/><path d="M456.7,873.0 467.5,875.2 478.2,877.5 488.8,880.0 499.5,882.6 510.0,885.4 520.6,888.3 531.1,891.3 541.6,894.4 552.0,897.7 562.4,901.1 572.8,904.6 583.1,908.2 593.4,911.9 603.6,915.7 613.9,919.6 624.1,923.6 634.2,927.7 644.4,931.9 654.5,936.2 664.5,940.5 674.6,944.9 684.6,949.4 694.6,954.0 704.5,958.6 714.5,963.3 724.4,968.0 734.3,972.7 744.1,977.6 754.0,982.4 763.8,987.3 773.6,992.2 783.4,997.2 793.1,1002.1 802.8,1007.1 812.6,1012.2 822.2,1017.2 831.9,1022.2 841.6,1027.2 851.2,1032.3"/><path d="M456.7,926.1 465.2,927.6 473.7,929.2 482.1,930.8 490.6,932.4 499.1,934.1 507.5,935.9 516.0,937.7 524.4,939.6 532.9,941.5 541.3,943.5 549.7,945.5 558.1,947.6 566.5,949.8 574.9,952.0 583.2,954.3 591.6,956.6 599.9,959.0 608.2,961.5 616.5,964.1 624.7,966.7 632.9,969.4 641.1,972.2 649.3,975.1 657.4,978.0 665.5,981.0 673.6,984.1 681.6,987.3 689.6,990.5 697.6,993.9 705.5,997.3 713.4,1000.8 721.2,1004.4 729.0,1008.1 736.8,1011.9 744.5,1015.8 752.1,1019.8 759.7,1023.8 767.3,1028.0 774.8,1032.3"/><path d="M456.7,978.5 462.2,979.2 467.6,980.0 473.1,980.9 478.5,981.8 484.0,982.8 489.4,983.8 494.8,984.8 500.2,985.9 505.6,987.1 511.0,988.3 516.3,989.5 521.7,990.8 527.1,992.1 532.4,993.5 537.7,994.8 543.1,996.3 548.4,997.7 553.7,999.2 559.0,1000.7 564.3,1002.2 569.6,1003.8 574.9,1005.3 580.2,1006.9 585.5,1008.5 590.8,1010.2 596.1,1011.8 601.3,1013.5 606.6,1015.2 611.8,1016.8 617.1,1018.5 622.4,1020.2 627.6,1021.9 632.9,1023.7 638.1,1025.4 643.3,1027.1 648.6,1028.8 653.8,1030.5 659.1,1032.2 664.3,1033.9"/></g></g>
<g fill="none" stroke="#29caf3" stroke-width="6.3" stroke-linecap="round" stroke-linejoin="round"><path d="M504.4,730.4 505.4,739.7 506.5,749.0 507.7,758.5 509.2,767.9 510.7,777.5 512.5,787.1 514.4,796.6 516.4,806.2 518.7,815.8 521.1,825.4 523.7,834.9 526.5,844.4 529.5,853.9 532.7,863.2 536.2,872.5 539.8,881.6 543.6,890.7 547.7,899.6 552.0,908.4 556.5,917.0 561.2,925.5 566.2,933.7 571.4,941.8 576.9,949.7 582.6,957.3 588.6,964.7 594.8,971.9 601.4,978.7 608.1,985.4 615.2,991.7 622.6,997.7 630.2,1003.4 638.1,1008.7 646.3,1013.8 654.8,1018.4 663.7,1022.7 672.8,1026.6 682.2,1030.1 692.0,1033.2"/><path d="M553.3,757.5 556.2,766.7 559.3,775.8 562.7,784.8 566.3,793.7 570.1,802.4 574.1,811.1 578.3,819.6 582.7,828.1 587.3,836.4 592.1,844.6 597.1,852.6 602.3,860.6 607.6,868.4 613.1,876.2 618.8,883.8 624.7,891.3 630.7,898.7 636.8,905.9 643.1,913.1 649.5,920.1 656.1,927.1 662.8,933.9 669.6,940.5 676.6,947.1 683.6,953.6 690.8,959.9 698.1,966.1 705.4,972.2 712.9,978.2 720.5,984.1 728.1,989.8 735.9,995.4 743.7,1001.0 751.6,1006.3 759.5,1011.6 767.5,1016.8 775.6,1021.8 783.7,1026.7 791.9,1031.5"/><path d="M606.6,786.4 610.7,794.6 615.0,802.7 619.6,810.6 624.3,818.4 629.1,826.1 634.2,833.5 639.4,840.9 644.8,848.1 650.3,855.2 655.9,862.2 661.8,869.1 667.7,875.8 673.8,882.4 679.9,889.0 686.2,895.4 692.6,901.7 699.1,908.0 705.7,914.1 712.4,920.2 719.2,926.2 726.0,932.1 733.0,938.0 739.9,943.8 747.0,949.5 754.1,955.2 761.2,960.8 768.4,966.4 775.6,971.9 782.8,977.4 790.1,982.9 797.3,988.3 804.6,993.8 811.9,999.2 819.1,1004.6 826.4,1010.0 833.6,1015.3 840.8,1020.7 848.0,1026.1 855.1,1031.5"/><path d="M683.0,830.2 686.9,836.2 690.9,842.2 695.0,848.0 699.2,853.8 703.4,859.6 707.8,865.3 712.2,870.9 716.6,876.5 721.2,882.0 725.8,887.5 730.4,892.9 735.1,898.2 739.9,903.5 744.7,908.8 749.6,914.0 754.5,919.2 759.5,924.3 764.5,929.5 769.6,934.5 774.6,939.6 779.8,944.6 784.9,949.5 790.1,954.5 795.3,959.4 800.5,964.3 805.8,969.2 811.0,974.0 816.3,978.9 821.6,983.7 826.9,988.5 832.2,993.3 837.6,998.1 842.9,1002.9 848.2,1007.6 853.5,1012.4 858.8,1017.2 864.1,1022.0 869.4,1026.7 874.7,1031.5"/><path d="M753.7,870.8 757.3,874.9 760.9,879.1 764.5,883.3 768.1,887.5 771.8,891.7 775.4,895.8 779.0,900.0 782.6,904.2 786.3,908.3 789.9,912.5 793.5,916.7 797.2,920.8 800.8,925.0 804.4,929.2 808.1,933.3 811.7,937.5 815.4,941.6 819.1,945.8 822.7,949.9 826.4,954.0 830.1,958.2 833.7,962.3 837.4,966.4 841.1,970.5 844.8,974.7 848.5,978.8 852.2,982.9 855.9,987.0 859.6,991.1 863.4,995.1 867.1,999.2 870.9,1003.3 874.6,1007.3 878.4,1011.4 882.1,1015.4 885.9,1019.5 889.7,1023.5 893.5,1027.5 897.3,1031.6"/></g>
</g>
<text x="504.9" y="725.5" font-size="15.36" font-family='"Liberation Sans", sans-serif' fill="#000" font-weight="bold" textLength="14.0" lengthAdjust="spacingAndGlyphs" stroke="#000" stroke-width="1.8" stroke-linejoin="round">20</text>
<text x="522.9" y="725.7" font-size="15.87" font-family='"Liberation Sans", sans-serif' fill="#000" font-weight="bold" font-style="italic" textLength="24.3" lengthAdjust="spacingAndGlyphs" stroke="#000" stroke-width="1.4400000000000002" stroke-linejoin="round">[34]</text>
<text x="557.5" y="755.9" font-size="15.36" font-family='"Liberation Sans", sans-serif' fill="#000" font-weight="bold" textLength="12.9" lengthAdjust="spacingAndGlyphs" stroke="#000" stroke-width="1.8" stroke-linejoin="round">40</text>
<text x="576.0" y="756.1" font-size="15.87" font-family='"Liberation Sans", sans-serif' fill="#000" font-weight="bold" font-style="italic" textLength="24.3" lengthAdjust="spacingAndGlyphs" stroke="#000" stroke-width="1.4400000000000002" stroke-linejoin="round">[68]</text>
<text x="608.7" y="784.0" font-size="15.36" font-family='"Liberation Sans", sans-serif' fill="#000" font-weight="bold" textLength="13.3" lengthAdjust="spacingAndGlyphs" stroke="#000" stroke-width="1.8" stroke-linejoin="round">60</text>
<text x="626.0" y="784.2" font-size="15.87" font-family='"Liberation Sans", sans-serif' fill="#000" font-weight="bold" font-style="italic" textLength="30.5" lengthAdjust="spacingAndGlyphs" stroke="#000" stroke-width="1.4400000000000002" stroke-linejoin="round">[102]</text>
<text x="681.3" y="826.2" font-size="15.36" font-family='"Liberation Sans", sans-serif' fill="#000" font-weight="bold" textLength="13.0" lengthAdjust="spacingAndGlyphs" stroke="#000" stroke-width="1.8" stroke-linejoin="round">80</text>
<text x="698.2" y="826.4" font-size="15.87" font-family='"Liberation Sans", sans-serif' fill="#000" font-weight="bold" font-style="italic" textLength="31.3" lengthAdjust="spacingAndGlyphs" stroke="#000" stroke-width="1.4400000000000002" stroke-linejoin="round">[136]</text>
<text x="751.1" y="866.8" font-size="15.36" font-family='"Liberation Sans", sans-serif' fill="#000" font-weight="bold" textLength="22.7" lengthAdjust="spacingAndGlyphs" stroke="#000" stroke-width="1.8" stroke-linejoin="round">100</text>
<text x="776.2" y="867.0" font-size="15.87" font-family='"Liberation Sans", sans-serif' fill="#000" font-weight="bold" font-style="italic" textLength="30.6" lengthAdjust="spacingAndGlyphs" stroke="#000" stroke-width="1.4400000000000002" stroke-linejoin="round">[170]</text>
<text x="765.4" y="740.0" font-size="17.5" font-family='"Liberation Sans", "Noto Sans CJK SC", sans-serif' fill="#000" font-weight="500" textLength="87.4" lengthAdjust="spacingAndGlyphs">空气消耗量</text>
<text x="754.9" y="759.7" font-size="15.5" font-family='"Liberation Sans", sans-serif' fill="#000" font-weight="bold" textLength="49.2" lengthAdjust="spacingAndGlyphs" stroke="#000" stroke-width="1.1" stroke-linejoin="round">(SCFM)</text>
<text x="808.4" y="759.6" font-size="15.6" font-family='"Liberation Sans", sans-serif' font-weight="bold" font-style="italic" stroke="#000" stroke-width="0.9" stroke-linejoin="round" textLength="52.5" lengthAdjust="spacingAndGlyphs">[Nm<tspan font-size="9.5" dy="-6">3</tspan><tspan dy="6">/h]</tspan></text>
<path d="M362.4,691.5V1034.2M351.8,1032.9H362.4M351.8,995.1H362.4M351.8,957.3H362.4M351.8,919.5H362.4M351.8,881.7H362.4M351.8,843.9H362.4M351.8,806.1H362.4M351.8,768.3H362.4M351.8,730.5H362.4M415.7,693.1V1034.8M405.1,1033.5H415.7M405.1,1005.3H415.7M405.1,977.0H415.7M405.1,948.7H415.7M405.1,920.5H415.7M405.1,892.2H415.7M405.1,864.0H415.7M405.1,835.7H415.7M405.1,807.4H415.7M405.1,779.2H415.7M405.1,750.9H415.7M405.1,722.7H415.7M405.1,694.4H415.7" stroke="#000" stroke-width="2.8" fill="none"/>
<text x="338.6" y="1039.1" font-size="17.32" font-family='"Liberation Sans", sans-serif' fill="#000" font-weight="bold" textLength="7.9" lengthAdjust="spacingAndGlyphs" stroke="#000" stroke-width="1.8" stroke-linejoin="round">0</text>
<text x="338.6" y="1001.3" font-size="17.32" font-family='"Liberation Sans", sans-serif' fill="#000" font-weight="bold" textLength="7.9" lengthAdjust="spacingAndGlyphs" stroke="#000" stroke-width="1.8" stroke-linejoin="round">1</text>
<text x="338.6" y="963.5" font-size="17.32" font-family='"Liberation Sans", sans-serif' fill="#000" font-weight="bold" textLength="7.9" lengthAdjust="spacingAndGlyphs" stroke="#000" stroke-width="1.8" stroke-linejoin="round">2</text>
<text x="338.6" y="925.7" font-size="17.32" font-family='"Liberation Sans", sans-serif' fill="#000" font-weight="bold" textLength="7.9" lengthAdjust="spacingAndGlyphs" stroke="#000" stroke-width="1.8" stroke-linejoin="round">3</text>
<text x="338.6" y="887.9" font-size="17.32" font-family='"Liberation Sans", sans-serif' fill="#000" font-weight="bold" textLength="7.9" lengthAdjust="spacingAndGlyphs" stroke="#000" stroke-width="1.8" stroke-linejoin="round">4</text>
<text x="338.6" y="850.1" font-size="17.32" font-family='"Liberation Sans", sans-serif' fill="#000" font-weight="bold" textLength="7.9" lengthAdjust="spacingAndGlyphs" stroke="#000" stroke-width="1.8" stroke-linejoin="round">5</text>
<text x="338.6" y="812.3" font-size="17.32" font-family='"Liberation Sans", sans-serif' fill="#000" font-weight="bold" textLength="7.9" lengthAdjust="spacingAndGlyphs" stroke="#000" stroke-width="1.8" stroke-linejoin="round">6</text>
<text x="338.6" y="774.5" font-size="17.32" font-family='"Liberation Sans", sans-serif' fill="#000" font-weight="bold" textLength="7.9" lengthAdjust="spacingAndGlyphs" stroke="#000" stroke-width="1.8" stroke-linejoin="round">7</text>
<text x="338.6" y="736.7" font-size="17.32" font-family='"Liberation Sans", sans-serif' fill="#000" font-weight="bold" textLength="7.9" lengthAdjust="spacingAndGlyphs" stroke="#000" stroke-width="1.8" stroke-linejoin="round">8</text>
<text x="391.5" y="1039.7" font-size="17.32" font-family='"Liberation Sans", sans-serif' fill="#000" font-weight="bold" textLength="7.3" lengthAdjust="spacingAndGlyphs" stroke="#000" stroke-width="1.8" stroke-linejoin="round">0</text>
<text x="382.4" y="983.2" font-size="17.32" font-family='"Liberation Sans", sans-serif' fill="#000" font-weight="bold" textLength="16.4" lengthAdjust="spacingAndGlyphs" stroke="#000" stroke-width="1.8" stroke-linejoin="round">50</text>
<text x="373.3" y="926.7" font-size="17.32" font-family='"Liberation Sans", sans-serif' fill="#000" font-weight="bold" textLength="25.5" lengthAdjust="spacingAndGlyphs" stroke="#000" stroke-width="1.8" stroke-linejoin="round">100</text>
<text x="373.3" y="870.2" font-size="17.32" font-family='"Liberation Sans", sans-serif' fill="#000" font-weight="bold" textLength="25.5" lengthAdjust="spacingAndGlyphs" stroke="#000" stroke-width="1.8" stroke-linejoin="round">150</text>
<text x="373.3" y="813.6" font-size="17.32" font-family='"Liberation Sans", sans-serif' fill="#000" font-weight="bold" textLength="25.5" lengthAdjust="spacingAndGlyphs" stroke="#000" stroke-width="1.8" stroke-linejoin="round">200</text>
<text x="373.3" y="757.1" font-size="17.32" font-family='"Liberation Sans", sans-serif' fill="#000" font-weight="bold" textLength="25.5" lengthAdjust="spacingAndGlyphs" stroke="#000" stroke-width="1.8" stroke-linejoin="round">250</text>
<text x="373.3" y="700.6" font-size="17.32" font-family='"Liberation Sans", sans-serif' fill="#000" font-weight="bold" textLength="25.5" lengthAdjust="spacingAndGlyphs" stroke="#000" stroke-width="1.8" stroke-linejoin="round">300</text>
<text x="447.8" y="1035.0" font-size="17.32" font-family='"Liberation Sans", sans-serif' fill="#000" font-weight="bold" textLength="7.3" lengthAdjust="spacingAndGlyphs" stroke="#000" stroke-width="1.8" stroke-linejoin="round">0</text>
<text x="438.7" y="985.0" font-size="17.32" font-family='"Liberation Sans", sans-serif' fill="#000" font-weight="bold" textLength="16.4" lengthAdjust="spacingAndGlyphs" stroke="#000" stroke-width="1.8" stroke-linejoin="round">20</text>
<text x="438.7" y="933.0" font-size="17.32" font-family='"Liberation Sans", sans-serif' fill="#000" font-weight="bold" textLength="16.4" lengthAdjust="spacingAndGlyphs" stroke="#000" stroke-width="1.8" stroke-linejoin="round">40</text>
<text x="438.7" y="880.9" font-size="17.32" font-family='"Liberation Sans", sans-serif' fill="#000" font-weight="bold" textLength="16.4" lengthAdjust="spacingAndGlyphs" stroke="#000" stroke-width="1.8" stroke-linejoin="round">60</text>
<text x="438.7" y="828.8" font-size="17.32" font-family='"Liberation Sans", sans-serif' fill="#000" font-weight="bold" textLength="16.4" lengthAdjust="spacingAndGlyphs" stroke="#000" stroke-width="1.8" stroke-linejoin="round">80</text>
<text x="429.6" y="776.8" font-size="17.32" font-family='"Liberation Sans", sans-serif' fill="#000" font-weight="bold" textLength="25.5" lengthAdjust="spacingAndGlyphs" stroke="#000" stroke-width="1.8" stroke-linejoin="round">100</text>
<text x="429.6" y="724.7" font-size="17.32" font-family='"Liberation Sans", sans-serif' fill="#000" font-weight="bold" textLength="25.5" lengthAdjust="spacingAndGlyphs" stroke="#000" stroke-width="1.8" stroke-linejoin="round">120</text>
<text x="331.3" y="678.6" font-size="13.99" font-family='"Liberation Sans", sans-serif' fill="#000" font-weight="bold" textLength="26.7" lengthAdjust="spacingAndGlyphs" stroke="#000" stroke-width="1.5" stroke-linejoin="round">BAR</text>
<text x="375.6" y="678.6" font-size="13.99" font-family='"Liberation Sans", sans-serif' fill="#000" font-weight="bold" textLength="29.1" lengthAdjust="spacingAndGlyphs" stroke="#000" stroke-width="1.5" stroke-linejoin="round">FEET</text>
<text x="425.8" y="678.6" font-size="13.99" font-family='"Liberation Sans", sans-serif' fill="#000" font-weight="bold" textLength="29.5" lengthAdjust="spacingAndGlyphs" stroke="#000" stroke-width="1.5" stroke-linejoin="round">PSIG</text>
<text x="491.0" y="1054.4" font-size="15.64" font-family='"Liberation Sans", sans-serif' fill="#000" font-weight="bold" textLength="15.3" lengthAdjust="spacingAndGlyphs" stroke="#000" stroke-width="1.6" stroke-linejoin="round">10</text>
<text x="488.2" y="1074.2" font-size="16.34" font-family='"Liberation Sans", sans-serif' fill="#000" font-weight="bold" textLength="20.9" lengthAdjust="spacingAndGlyphs" stroke="#000" stroke-width="0.7" stroke-linejoin="round">[38]</text>
<text x="529.6" y="1054.4" font-size="15.64" font-family='"Liberation Sans", sans-serif' fill="#000" font-weight="bold" textLength="15.3" lengthAdjust="spacingAndGlyphs" stroke="#000" stroke-width="1.6" stroke-linejoin="round">20</text>
<text x="526.8" y="1074.2" font-size="16.34" font-family='"Liberation Sans", sans-serif' fill="#000" font-weight="bold" textLength="20.9" lengthAdjust="spacingAndGlyphs" stroke="#000" stroke-width="0.7" stroke-linejoin="round">[76]</text>
<text x="568.2" y="1054.4" font-size="15.64" font-family='"Liberation Sans", sans-serif' fill="#000" font-weight="bold" textLength="15.3" lengthAdjust="spacingAndGlyphs" stroke="#000" stroke-width="1.6" stroke-linejoin="round">30</text>
<text x="562.3" y="1074.2" font-size="16.34" font-family='"Liberation Sans", sans-serif' fill="#000" font-weight="bold" textLength="27.2" lengthAdjust="spacingAndGlyphs" stroke="#000" stroke-width="0.7" stroke-linejoin="round">[114]</text>
<text x="606.8" y="1054.4" font-size="15.64" font-family='"Liberation Sans", sans-serif' fill="#000" font-weight="bold" textLength="15.3" lengthAdjust="spacingAndGlyphs" stroke="#000" stroke-width="1.6" stroke-linejoin="round">40</text>
<text x="600.9" y="1074.2" font-size="16.34" font-family='"Liberation Sans", sans-serif' fill="#000" font-weight="bold" textLength="27.2" lengthAdjust="spacingAndGlyphs" stroke="#000" stroke-width="0.7" stroke-linejoin="round">[151]</text>
<text x="645.4" y="1054.4" font-size="15.64" font-family='"Liberation Sans", sans-serif' fill="#000" font-weight="bold" textLength="15.3" lengthAdjust="spacingAndGlyphs" stroke="#000" stroke-width="1.6" stroke-linejoin="round">50</text>
<text x="639.5" y="1074.2" font-size="16.34" font-family='"Liberation Sans", sans-serif' fill="#000" font-weight="bold" textLength="27.2" lengthAdjust="spacingAndGlyphs" stroke="#000" stroke-width="0.7" stroke-linejoin="round">[189]</text>
<text x="684.0" y="1054.4" font-size="15.64" font-family='"Liberation Sans", sans-serif' fill="#000" font-weight="bold" textLength="15.3" lengthAdjust="spacingAndGlyphs" stroke="#000" stroke-width="1.6" stroke-linejoin="round">60</text>
<text x="678.0" y="1074.2" font-size="16.34" font-family='"Liberation Sans", sans-serif' fill="#000" font-weight="bold" textLength="27.2" lengthAdjust="spacingAndGlyphs" stroke="#000" stroke-width="0.7" stroke-linejoin="round">[227]</text>
<text x="722.6" y="1054.4" font-size="15.64" font-family='"Liberation Sans", sans-serif' fill="#000" font-weight="bold" textLength="15.3" lengthAdjust="spacingAndGlyphs" stroke="#000" stroke-width="1.6" stroke-linejoin="round">70</text>
<text x="716.6" y="1074.2" font-size="16.34" font-family='"Liberation Sans", sans-serif' fill="#000" font-weight="bold" textLength="27.2" lengthAdjust="spacingAndGlyphs" stroke="#000" stroke-width="0.7" stroke-linejoin="round">[265]</text>
<text x="761.2" y="1054.4" font-size="15.64" font-family='"Liberation Sans", sans-serif' fill="#000" font-weight="bold" textLength="15.3" lengthAdjust="spacingAndGlyphs" stroke="#000" stroke-width="1.6" stroke-linejoin="round">80</text>
<text x="755.2" y="1074.2" font-size="16.34" font-family='"Liberation Sans", sans-serif' fill="#000" font-weight="bold" textLength="27.2" lengthAdjust="spacingAndGlyphs" stroke="#000" stroke-width="0.7" stroke-linejoin="round">[303]</text>
<text x="799.8" y="1054.4" font-size="15.64" font-family='"Liberation Sans", sans-serif' fill="#000" font-weight="bold" textLength="15.3" lengthAdjust="spacingAndGlyphs" stroke="#000" stroke-width="1.6" stroke-linejoin="round">90</text>
<text x="793.8" y="1074.2" font-size="16.34" font-family='"Liberation Sans", sans-serif' fill="#000" font-weight="bold" textLength="27.2" lengthAdjust="spacingAndGlyphs" stroke="#000" stroke-width="0.7" stroke-linejoin="round">[341]</text>
<text x="834.2" y="1054.4" font-size="15.64" font-family='"Liberation Sans", sans-serif' fill="#000" font-weight="bold" textLength="23.5" lengthAdjust="spacingAndGlyphs" stroke="#000" stroke-width="1.6" stroke-linejoin="round">100</text>
<text x="832.4" y="1074.2" font-size="16.34" font-family='"Liberation Sans", sans-serif' fill="#000" font-weight="bold" textLength="27.2" lengthAdjust="spacingAndGlyphs" stroke="#000" stroke-width="0.7" stroke-linejoin="round">[379]</text>
<text x="872.8" y="1054.4" font-size="15.64" font-family='"Liberation Sans", sans-serif' fill="#000" font-weight="bold" textLength="23.5" lengthAdjust="spacingAndGlyphs" stroke="#000" stroke-width="1.6" stroke-linejoin="round">110</text>
<text x="871.0" y="1074.2" font-size="16.34" font-family='"Liberation Sans", sans-serif' fill="#000" font-weight="bold" textLength="27.2" lengthAdjust="spacingAndGlyphs" stroke="#000" stroke-width="0.7" stroke-linejoin="round">[416]</text>
<text x="913.7" y="1054.4" font-size="15.64" font-family='"Liberation Sans", sans-serif' fill="#000" font-weight="bold" textLength="23.5" lengthAdjust="spacingAndGlyphs" stroke="#000" stroke-width="1.6" stroke-linejoin="round">120</text>
<text x="911.9" y="1074.2" font-size="16.34" font-family='"Liberation Sans", sans-serif' fill="#000" font-weight="bold" textLength="27.2" lengthAdjust="spacingAndGlyphs" stroke="#000" stroke-width="0.7" stroke-linejoin="round">[454]</text>
<text x="385.7" y="1056.9" font-size="17" font-family='"Liberation Sans", "Noto Sans CJK SC", sans-serif' fill="#000" font-weight="500" textLength="34.0" lengthAdjust="spacingAndGlyphs">流量</text>
<text x="377.2" y="1077.4" font-size="17" font-family='"Liberation Sans", "Noto Sans CJK SC", sans-serif' fill="#000" font-weight="500" textLength="51.0" lengthAdjust="spacingAndGlyphs">（水）</text>
<text x="432.8" y="1056.2" font-size="17.56" font-family='"Liberation Sans", sans-serif' fill="#000" font-weight="bold" textLength="38.5" lengthAdjust="spacingAndGlyphs" stroke="#000" stroke-width="1.9" stroke-linejoin="round">GPM</text>
<text x="431.7" y="1075.3" font-size="17.56" font-family='"Liberation Sans", sans-serif' fill="#000" textLength="45.4" lengthAdjust="spacingAndGlyphs" stroke="#000" stroke-width="0.6" stroke-linejoin="round">[LPM]</text>
</g>
<g id="chart4">
<text x="1197.6" y="678.0" font-size="32.5" font-family='"Liberation Sans", "Noto Sans CJK SC", sans-serif' fill="#6b9ca8" font-weight="300" textLength="135.6" lengthAdjust="spacingAndGlyphs">PTFE隔膜</text>
<path d="M1083.50,692.50V1030.76M1121.50,692.50V1030.76M1160.50,692.50V1030.76M1199.50,692.50V1030.76M1237.50,692.50V1030.76M1276.50,692.50V1030.76M1315.50,692.50V1030.76M1354.50,692.50V1030.76M1392.50,692.50V718.50M1392.50,770.50V1030.76M1431.50,692.50V718.50M1431.50,770.50V1030.76M1470.50,692.50V718.50M1470.50,770.50V1030.76M1509.50,692.50V1030.76M1547.50,692.50V1030.76M1083.10,692.50H1547.74M1083.10,718.50H1547.74M1083.10,744.50H1354.50M1509.50,744.50H1547.74M1083.10,770.50H1547.74M1083.10,796.50H1547.74M1083.10,822.50H1547.74M1083.10,848.50H1547.74M1083.10,874.50H1547.74M1083.10,900.50H1547.74M1083.10,926.50H1547.74M1083.10,952.50H1547.74M1083.10,978.50H1547.74M1083.10,1004.50H1547.74M1083.10,1030.50H1547.74" stroke="#2a2a2a" stroke-width="1" fill="none" shape-rendering="crispEdges"/>
<path d="M1121.5,1031.6H1547.7" stroke="#2a2a2a" stroke-width="2"/>
<clipPath id="cp4"><rect x="1075.1" y="690.5" width="474.6" height="344.3"/></clipPath>
<g clip-path="url(#cp4)">
<g fill="none" stroke="#ff580e" stroke-linecap="butt" stroke-linejoin="round"><g stroke-width="7.6" stroke-opacity="0.13"><path d="M1080.5,717.5 1092.9,717.3 1104.8,718.8 1116.3,722.0 1127.3,726.4 1138.0,731.9 1148.3,738.3 1158.4,745.2 1168.4,752.5 1178.1,760.0 1187.7,767.7 1197.1,775.7 1206.4,783.9 1215.4,792.3 1224.3,800.9 1233.0,809.6 1241.6,818.5 1250.0,827.5 1258.2,836.6 1266.3,845.9 1274.2,855.3 1281.9,864.7 1289.6,874.2 1297.2,883.8 1304.8,893.4 1312.3,903.0 1319.7,912.6 1327.2,922.3 1334.7,931.9 1342.2,941.5 1349.8,951.0 1357.4,960.5 1365.2,969.9 1373.1,979.3 1381.1,988.5 1389.2,997.6 1397.6,1006.6 1406.1,1015.5 1414.9,1024.2 1423.9,1032.7"/><path d="M1080.4,769.8 1090.9,772.8 1101.2,776.2 1111.3,779.9 1121.2,784.0 1130.9,788.3 1140.4,792.9 1149.8,797.8 1159.0,803.0 1168.1,808.4 1177.0,814.1 1185.7,820.0 1194.3,826.2 1202.8,832.5 1211.2,839.0 1219.4,845.8 1227.5,852.7 1235.5,859.8 1243.4,867.0 1251.2,874.3 1258.9,881.8 1266.5,889.4 1274.1,897.1 1281.5,904.9 1288.9,912.8 1296.2,920.8 1303.4,928.8 1310.6,936.8 1317.8,944.9 1324.9,953.0 1332.0,961.2 1339.0,969.3 1346.0,977.4 1353.0,985.5 1360.0,993.5 1366.9,1001.5 1373.9,1009.4 1380.8,1017.3 1387.8,1025.0 1394.8,1032.7"/><path d="M1080.4,822.2 1089.8,823.3 1099.1,824.9 1108.2,826.9 1117.1,829.3 1125.9,832.1 1134.6,835.2 1143.1,838.7 1151.5,842.4 1159.8,846.5 1167.9,850.9 1175.9,855.5 1183.8,860.4 1191.5,865.5 1199.1,870.9 1206.6,876.4 1213.9,882.1 1221.2,888.0 1228.3,894.0 1235.3,900.2 1242.3,906.5 1249.1,912.9 1255.8,919.4 1262.5,925.9 1269.1,932.6 1275.7,939.3 1282.2,946.1 1288.6,952.9 1295.0,959.7 1301.4,966.5 1307.8,973.4 1314.2,980.2 1320.5,987.0 1326.9,993.7 1333.3,1000.4 1339.7,1007.1 1346.1,1013.6 1352.6,1020.1 1359.1,1026.5 1365.7,1032.8"/><path d="M1080.4,874.8 1088.5,874.7 1096.6,874.9 1104.6,875.5 1112.6,876.4 1120.4,877.7 1128.2,879.2 1135.9,881.1 1143.5,883.2 1151.0,885.7 1158.3,888.4 1165.5,891.4 1172.6,894.7 1179.6,898.3 1186.4,902.1 1193.1,906.2 1199.5,910.5 1205.9,915.1 1212.0,919.9 1218.1,924.8 1224.0,930.0 1229.8,935.3 1235.5,940.8 1241.1,946.3 1246.7,952.0 1252.2,957.7 1257.7,963.5 1263.2,969.3 1268.7,975.0 1274.2,980.8 1279.7,986.6 1285.2,992.2 1290.8,997.8 1296.5,1003.3 1302.3,1008.7 1308.2,1013.9 1314.2,1018.9 1320.3,1023.7 1326.6,1028.4 1333.0,1032.8"/><path d="M1080.5,926.9 1087.0,927.4 1093.5,928.1 1099.9,929.0 1106.3,930.0 1112.6,931.2 1118.9,932.6 1125.2,934.1 1131.4,935.7 1137.6,937.5 1143.7,939.5 1149.8,941.5 1155.9,943.7 1161.9,946.1 1167.8,948.5 1173.8,951.0 1179.7,953.7 1185.5,956.5 1191.3,959.3 1197.1,962.3 1202.9,965.3 1208.6,968.4 1214.2,971.6 1219.9,974.8 1225.5,978.2 1231.1,981.5 1236.6,985.0 1242.1,988.5 1247.6,992.0 1253.1,995.6 1258.5,999.2 1263.9,1002.8 1269.2,1006.5 1274.6,1010.1 1279.9,1013.8 1285.2,1017.5 1290.4,1021.2 1295.7,1024.9 1300.9,1028.6 1306.0,1032.3"/><path d="M1080.5,978.4 1084.5,979.0 1088.5,979.7 1092.4,980.5 1096.4,981.4 1100.3,982.3 1104.2,983.4 1108.0,984.5 1111.9,985.6 1115.7,986.9 1119.5,988.2 1123.3,989.5 1127.1,990.9 1130.9,992.4 1134.6,993.9 1138.3,995.4 1142.1,996.9 1145.8,998.5 1149.5,1000.2 1153.2,1001.8 1156.9,1003.4 1160.6,1005.1 1164.3,1006.8 1168.0,1008.5 1171.7,1010.1 1175.4,1011.8 1179.1,1013.5 1182.8,1015.1 1186.5,1016.8 1190.2,1018.4 1193.9,1019.9 1197.6,1021.5 1201.4,1023.0 1205.1,1024.5 1208.9,1025.9 1212.7,1027.3 1216.5,1028.6 1220.3,1029.9 1224.1,1031.1 1228.0,1032.3"/></g><g stroke-width="6.4" stroke-opacity="0.3"><path d="M1080.5,717.5 1092.9,717.3 1104.8,718.8 1116.3,722.0 1127.3,726.4 1138.0,731.9 1148.3,738.3 1158.4,745.2 1168.4,752.5 1178.1,760.0 1187.7,767.7 1197.1,775.7 1206.4,783.9 1215.4,792.3 1224.3,800.9 1233.0,809.6 1241.6,818.5 1250.0,827.5 1258.2,836.6 1266.3,845.9 1274.2,855.3 1281.9,864.7 1289.6,874.2 1297.2,883.8 1304.8,893.4 1312.3,903.0 1319.7,912.6 1327.2,922.3 1334.7,931.9 1342.2,941.5 1349.8,951.0 1357.4,960.5 1365.2,969.9 1373.1,979.3 1381.1,988.5 1389.2,997.6 1397.6,1006.6 1406.1,1015.5 1414.9,1024.2 1423.9,1032.7"/><path d="M1080.4,769.8 1090.9,772.8 1101.2,776.2 1111.3,779.9 1121.2,784.0 1130.9,788.3 1140.4,792.9 1149.8,797.8 1159.0,803.0 1168.1,808.4 1177.0,814.1 1185.7,820.0 1194.3,826.2 1202.8,832.5 1211.2,839.0 1219.4,845.8 1227.5,852.7 1235.5,859.8 1243.4,867.0 1251.2,874.3 1258.9,881.8 1266.5,889.4 1274.1,897.1 1281.5,904.9 1288.9,912.8 1296.2,920.8 1303.4,928.8 1310.6,936.8 1317.8,944.9 1324.9,953.0 1332.0,961.2 1339.0,969.3 1346.0,977.4 1353.0,985.5 1360.0,993.5 1366.9,1001.5 1373.9,1009.4 1380.8,1017.3 1387.8,1025.0 1394.8,1032.7"/><path d="M1080.4,822.2 1089.8,823.3 1099.1,824.9 1108.2,826.9 1117.1,829.3 1125.9,832.1 1134.6,835.2 1143.1,838.7 1151.5,842.4 1159.8,846.5 1167.9,850.9 1175.9,855.5 1183.8,860.4 1191.5,865.5 1199.1,870.9 1206.6,876.4 1213.9,882.1 1221.2,888.0 1228.3,894.0 1235.3,900.2 1242.3,906.5 1249.1,912.9 1255.8,919.4 1262.5,925.9 1269.1,932.6 1275.7,939.3 1282.2,946.1 1288.6,952.9 1295.0,959.7 1301.4,966.5 1307.8,973.4 1314.2,980.2 1320.5,987.0 1326.9,993.7 1333.3,1000.4 1339.7,1007.1 1346.1,1013.6 1352.6,1020.1 1359.1,1026.5 1365.7,1032.8"/><path d="M1080.4,874.8 1088.5,874.7 1096.6,874.9 1104.6,875.5 1112.6,876.4 1120.4,877.7 1128.2,879.2 1135.9,881.1 1143.5,883.2 1151.0,885.7 1158.3,888.4 1165.5,891.4 1172.6,894.7 1179.6,898.3 1186.4,902.1 1193.1,906.2 1199.5,910.5 1205.9,915.1 1212.0,919.9 1218.1,924.8 1224.0,930.0 1229.8,935.3 1235.5,940.8 1241.1,946.3 1246.7,952.0 1252.2,957.7 1257.7,963.5 1263.2,969.3 1268.7,975.0 1274.2,980.8 1279.7,986.6 1285.2,992.2 1290.8,997.8 1296.5,1003.3 1302.3,1008.7 1308.2,1013.9 1314.2,1018.9 1320.3,1023.7 1326.6,1028.4 1333.0,1032.8"/><path d="M1080.5,926.9 1087.0,927.4 1093.5,928.1 1099.9,929.0 1106.3,930.0 1112.6,931.2 1118.9,932.6 1125.2,934.1 1131.4,935.7 1137.6,937.5 1143.7,939.5 1149.8,941.5 1155.9,943.7 1161.9,946.1 1167.8,948.5 1173.8,951.0 1179.7,953.7 1185.5,956.5 1191.3,959.3 1197.1,962.3 1202.9,965.3 1208.6,968.4 1214.2,971.6 1219.9,974.8 1225.5,978.2 1231.1,981.5 1236.6,985.0 1242.1,988.5 1247.6,992.0 1253.1,995.6 1258.5,999.2 1263.9,1002.8 1269.2,1006.5 1274.6,1010.1 1279.9,1013.8 1285.2,1017.5 1290.4,1021.2 1295.7,1024.9 1300.9,1028.6 1306.0,1032.3"/><path d="M1080.5,978.4 1084.5,979.0 1088.5,979.7 1092.4,980.5 1096.4,981.4 1100.3,982.3 1104.2,983.4 1108.0,984.5 1111.9,985.6 1115.7,986.9 1119.5,988.2 1123.3,989.5 1127.1,990.9 1130.9,992.4 1134.6,993.9 1138.3,995.4 1142.1,996.9 1145.8,998.5 1149.5,1000.2 1153.2,1001.8 1156.9,1003.4 1160.6,1005.1 1164.3,1006.8 1168.0,1008.5 1171.7,1010.1 1175.4,1011.8 1179.1,1013.5 1182.8,1015.1 1186.5,1016.8 1190.2,1018.4 1193.9,1019.9 1197.6,1021.5 1201.4,1023.0 1205.1,1024.5 1208.9,1025.9 1212.7,1027.3 1216.5,1028.6 1220.3,1029.9 1224.1,1031.1 1228.0,1032.3"/></g><g stroke-width="5.2" stroke-opacity="0.6"><path d="M1080.5,717.5 1092.9,717.3 1104.8,718.8 1116.3,722.0 1127.3,726.4 1138.0,731.9 1148.3,738.3 1158.4,745.2 1168.4,752.5 1178.1,760.0 1187.7,767.7 1197.1,775.7 1206.4,783.9 1215.4,792.3 1224.3,800.9 1233.0,809.6 1241.6,818.5 1250.0,827.5 1258.2,836.6 1266.3,845.9 1274.2,855.3 1281.9,864.7 1289.6,874.2 1297.2,883.8 1304.8,893.4 1312.3,903.0 1319.7,912.6 1327.2,922.3 1334.7,931.9 1342.2,941.5 1349.8,951.0 1357.4,960.5 1365.2,969.9 1373.1,979.3 1381.1,988.5 1389.2,997.6 1397.6,1006.6 1406.1,1015.5 1414.9,1024.2 1423.9,1032.7"/><path d="M1080.4,769.8 1090.9,772.8 1101.2,776.2 1111.3,779.9 1121.2,784.0 1130.9,788.3 1140.4,792.9 1149.8,797.8 1159.0,803.0 1168.1,808.4 1177.0,814.1 1185.7,820.0 1194.3,826.2 1202.8,832.5 1211.2,839.0 1219.4,845.8 1227.5,852.7 1235.5,859.8 1243.4,867.0 1251.2,874.3 1258.9,881.8 1266.5,889.4 1274.1,897.1 1281.5,904.9 1288.9,912.8 1296.2,920.8 1303.4,928.8 1310.6,936.8 1317.8,944.9 1324.9,953.0 1332.0,961.2 1339.0,969.3 1346.0,977.4 1353.0,985.5 1360.0,993.5 1366.9,1001.5 1373.9,1009.4 1380.8,1017.3 1387.8,1025.0 1394.8,1032.7"/><path d="M1080.4,822.2 1089.8,823.3 1099.1,824.9 1108.2,826.9 1117.1,829.3 1125.9,832.1 1134.6,835.2 1143.1,838.7 1151.5,842.4 1159.8,846.5 1167.9,850.9 1175.9,855.5 1183.8,860.4 1191.5,865.5 1199.1,870.9 1206.6,876.4 1213.9,882.1 1221.2,888.0 1228.3,894.0 1235.3,900.2 1242.3,906.5 1249.1,912.9 1255.8,919.4 1262.5,925.9 1269.1,932.6 1275.7,939.3 1282.2,946.1 1288.6,952.9 1295.0,959.7 1301.4,966.5 1307.8,973.4 1314.2,980.2 1320.5,987.0 1326.9,993.7 1333.3,1000.4 1339.7,1007.1 1346.1,1013.6 1352.6,1020.1 1359.1,1026.5 1365.7,1032.8"/><path d="M1080.4,874.8 1088.5,874.7 1096.6,874.9 1104.6,875.5 1112.6,876.4 1120.4,877.7 1128.2,879.2 1135.9,881.1 1143.5,883.2 1151.0,885.7 1158.3,888.4 1165.5,891.4 1172.6,894.7 1179.6,898.3 1186.4,902.1 1193.1,906.2 1199.5,910.5 1205.9,915.1 1212.0,919.9 1218.1,924.8 1224.0,930.0 1229.8,935.3 1235.5,940.8 1241.1,946.3 1246.7,952.0 1252.2,957.7 1257.7,963.5 1263.2,969.3 1268.7,975.0 1274.2,980.8 1279.7,986.6 1285.2,992.2 1290.8,997.8 1296.5,1003.3 1302.3,1008.7 1308.2,1013.9 1314.2,1018.9 1320.3,1023.7 1326.6,1028.4 1333.0,1032.8"/><path d="M1080.5,926.9 1087.0,927.4 1093.5,928.1 1099.9,929.0 1106.3,930.0 1112.6,931.2 1118.9,932.6 1125.2,934.1 1131.4,935.7 1137.6,937.5 1143.7,939.5 1149.8,941.5 1155.9,943.7 1161.9,946.1 1167.8,948.5 1173.8,951.0 1179.7,953.7 1185.5,956.5 1191.3,959.3 1197.1,962.3 1202.9,965.3 1208.6,968.4 1214.2,971.6 1219.9,974.8 1225.5,978.2 1231.1,981.5 1236.6,985.0 1242.1,988.5 1247.6,992.0 1253.1,995.6 1258.5,999.2 1263.9,1002.8 1269.2,1006.5 1274.6,1010.1 1279.9,1013.8 1285.2,1017.5 1290.4,1021.2 1295.7,1024.9 1300.9,1028.6 1306.0,1032.3"/><path d="M1080.5,978.4 1084.5,979.0 1088.5,979.7 1092.4,980.5 1096.4,981.4 1100.3,982.3 1104.2,983.4 1108.0,984.5 1111.9,985.6 1115.7,986.9 1119.5,988.2 1123.3,989.5 1127.1,990.9 1130.9,992.4 1134.6,993.9 1138.3,995.4 1142.1,996.9 1145.8,998.5 1149.5,1000.2 1153.2,1001.8 1156.9,1003.4 1160.6,1005.1 1164.3,1006.8 1168.0,1008.5 1171.7,1010.1 1175.4,1011.8 1179.1,1013.5 1182.8,1015.1 1186.5,1016.8 1190.2,1018.4 1193.9,1019.9 1197.6,1021.5 1201.4,1023.0 1205.1,1024.5 1208.9,1025.9 1212.7,1027.3 1216.5,1028.6 1220.3,1029.9 1224.1,1031.1 1228.0,1032.3"/></g><g stroke-width="4.0"><path d="M1080.5,717.5 1092.9,717.3 1104.8,718.8 1116.3,722.0 1127.3,726.4 1138.0,731.9 1148.3,738.3 1158.4,745.2 1168.4,752.5 1178.1,760.0 1187.7,767.7 1197.1,775.7 1206.4,783.9 1215.4,792.3 1224.3,800.9 1233.0,809.6 1241.6,818.5 1250.0,827.5 1258.2,836.6 1266.3,845.9 1274.2,855.3 1281.9,864.7 1289.6,874.2 1297.2,883.8 1304.8,893.4 1312.3,903.0 1319.7,912.6 1327.2,922.3 1334.7,931.9 1342.2,941.5 1349.8,951.0 1357.4,960.5 1365.2,969.9 1373.1,979.3 1381.1,988.5 1389.2,997.6 1397.6,1006.6 1406.1,1015.5 1414.9,1024.2 1423.9,1032.7"/><path d="M1080.4,769.8 1090.9,772.8 1101.2,776.2 1111.3,779.9 1121.2,784.0 1130.9,788.3 1140.4,792.9 1149.8,797.8 1159.0,803.0 1168.1,808.4 1177.0,814.1 1185.7,820.0 1194.3,826.2 1202.8,832.5 1211.2,839.0 1219.4,845.8 1227.5,852.7 1235.5,859.8 1243.4,867.0 1251.2,874.3 1258.9,881.8 1266.5,889.4 1274.1,897.1 1281.5,904.9 1288.9,912.8 1296.2,920.8 1303.4,928.8 1310.6,936.8 1317.8,944.9 1324.9,953.0 1332.0,961.2 1339.0,969.3 1346.0,977.4 1353.0,985.5 1360.0,993.5 1366.9,1001.5 1373.9,1009.4 1380.8,1017.3 1387.8,1025.0 1394.8,1032.7"/><path d="M1080.4,822.2 1089.8,823.3 1099.1,824.9 1108.2,826.9 1117.1,829.3 1125.9,832.1 1134.6,835.2 1143.1,838.7 1151.5,842.4 1159.8,846.5 1167.9,850.9 1175.9,855.5 1183.8,860.4 1191.5,865.5 1199.1,870.9 1206.6,876.4 1213.9,882.1 1221.2,888.0 1228.3,894.0 1235.3,900.2 1242.3,906.5 1249.1,912.9 1255.8,919.4 1262.5,925.9 1269.1,932.6 1275.7,939.3 1282.2,946.1 1288.6,952.9 1295.0,959.7 1301.4,966.5 1307.8,973.4 1314.2,980.2 1320.5,987.0 1326.9,993.7 1333.3,1000.4 1339.7,1007.1 1346.1,1013.6 1352.6,1020.1 1359.1,1026.5 1365.7,1032.8"/><path d="M1080.4,874.8 1088.5,874.7 1096.6,874.9 1104.6,875.5 1112.6,876.4 1120.4,877.7 1128.2,879.2 1135.9,881.1 1143.5,883.2 1151.0,885.7 1158.3,888.4 1165.5,891.4 1172.6,894.7 1179.6,898.3 1186.4,902.1 1193.1,906.2 1199.5,910.5 1205.9,915.1 1212.0,919.9 1218.1,924.8 1224.0,930.0 1229.8,935.3 1235.5,940.8 1241.1,946.3 1246.7,952.0 1252.2,957.7 1257.7,963.5 1263.2,969.3 1268.7,975.0 1274.2,980.8 1279.7,986.6 1285.2,992.2 1290.8,997.8 1296.5,1003.3 1302.3,1008.7 1308.2,1013.9 1314.2,1018.9 1320.3,1023.7 1326.6,1028.4 1333.0,1032.8"/><path d="M1080.5,926.9 1087.0,927.4 1093.5,928.1 1099.9,929.0 1106.3,930.0 1112.6,931.2 1118.9,932.6 1125.2,934.1 1131.4,935.7 1137.6,937.5 1143.7,939.5 1149.8,941.5 1155.9,943.7 1161.9,946.1 1167.8,948.5 1173.8,951.0 1179.7,953.7 1185.5,956.5 1191.3,959.3 1197.1,962.3 1202.9,965.3 1208.6,968.4 1214.2,971.6 1219.9,974.8 1225.5,978.2 1231.1,981.5 1236.6,985.0 1242.1,988.5 1247.6,992.0 1253.1,995.6 1258.5,999.2 1263.9,1002.8 1269.2,1006.5 1274.6,1010.1 1279.9,1013.8 1285.2,1017.5 1290.4,1021.2 1295.7,1024.9 1300.9,1028.6 1306.0,1032.3"/><path d="M1080.5,978.4 1084.5,979.0 1088.5,979.7 1092.4,980.5 1096.4,981.4 1100.3,982.3 1104.2,983.4 1108.0,984.5 1111.9,985.6 1115.7,986.9 1119.5,988.2 1123.3,989.5 1127.1,990.9 1130.9,992.4 1134.6,993.9 1138.3,995.4 1142.1,996.9 1145.8,998.5 1149.5,1000.2 1153.2,1001.8 1156.9,1003.4 1160.6,1005.1 1164.3,1006.8 1168.0,1008.5 1171.7,1010.1 1175.4,1011.8 1179.1,1013.5 1182.8,1015.1 1186.5,1016.8 1190.2,1018.4 1193.9,1019.9 1197.6,1021.5 1201.4,1023.0 1205.1,1024.5 1208.9,1025.9 1212.7,1027.3 1216.5,1028.6 1220.3,1029.9 1224.1,1031.1 1228.0,1032.3"/></g></g>
<g fill="none" stroke="#29caf3" stroke-width="5.7" stroke-linecap="round" stroke-linejoin="round"><path d="M1109.7,713.1 1110.4,722.1 1111.2,731.2 1112.2,740.2 1113.3,749.2 1114.6,758.1 1116.1,767.1 1117.7,776.0 1119.4,784.9 1121.3,793.7 1123.3,802.6 1125.5,811.3 1127.9,820.1 1130.4,828.8 1133.0,837.4 1135.8,846.0 1138.7,854.6 1141.8,863.1 1145.0,871.5 1148.3,879.9 1151.8,888.3 1155.5,896.5 1159.3,904.8 1163.2,912.9 1167.2,921.0 1171.4,929.0 1175.8,936.9 1180.2,944.8 1184.9,952.6 1189.6,960.3 1194.5,967.9 1199.5,975.4 1204.7,982.9 1209.9,990.2 1215.4,997.5 1220.9,1004.6 1226.6,1011.7 1232.4,1018.7 1238.3,1025.6 1244.4,1032.3"/><path d="M1138.2,722.5 1139.7,731.5 1141.4,740.6 1143.3,749.6 1145.3,758.6 1147.5,767.5 1149.8,776.4 1152.3,785.3 1155.0,794.1 1157.8,802.8 1160.7,811.6 1163.9,820.2 1167.1,828.8 1170.5,837.4 1174.1,845.9 1177.8,854.3 1181.6,862.7 1185.6,871.0 1189.7,879.2 1194.0,887.4 1198.4,895.5 1202.9,903.5 1207.6,911.4 1212.4,919.3 1217.3,927.1 1222.4,934.8 1227.6,942.4 1232.9,949.9 1238.3,957.3 1243.9,964.7 1249.6,971.9 1255.4,979.0 1261.3,986.1 1267.4,993.0 1273.5,999.8 1279.8,1006.6 1286.2,1013.2 1292.7,1019.7 1299.3,1026.1 1306.0,1032.3"/><path d="M1172.2,744.3 1174.5,752.7 1177.0,761.1 1179.7,769.4 1182.5,777.7 1185.4,785.9 1188.5,794.0 1191.7,802.1 1195.0,810.1 1198.5,818.1 1202.1,826.0 1205.8,833.9 1209.6,841.7 1213.5,849.4 1217.5,857.1 1221.7,864.7 1225.9,872.3 1230.2,879.8 1234.7,887.3 1239.2,894.7 1243.8,902.1 1248.5,909.4 1253.3,916.7 1258.2,923.9 1263.2,931.0 1268.2,938.1 1273.3,945.2 1278.5,952.2 1283.7,959.2 1289.1,966.1 1294.4,973.0 1299.8,979.8 1305.3,986.5 1310.9,993.3 1316.4,999.9 1322.1,1006.6 1327.7,1013.2 1333.4,1019.7 1339.2,1026.2 1345.0,1032.7"/><path d="M1212.5,782.5 1215.0,789.8 1217.8,797.1 1220.6,804.3 1223.6,811.4 1226.7,818.5 1230.0,825.4 1233.3,832.3 1236.8,839.2 1240.3,846.0 1244.0,852.7 1247.8,859.3 1251.6,865.9 1255.6,872.5 1259.6,879.0 1263.7,885.5 1267.9,891.9 1272.2,898.2 1276.5,904.6 1280.9,910.9 1285.3,917.1 1289.8,923.3 1294.3,929.5 1298.9,935.7 1303.5,941.8 1308.2,948.0 1312.8,954.0 1317.5,960.1 1322.2,966.2 1327.0,972.2 1331.7,978.3 1336.5,984.3 1341.2,990.4 1346.0,996.4 1350.7,1002.4 1355.4,1008.4 1360.1,1014.5 1364.8,1020.5 1369.5,1026.6 1374.1,1032.6"/><path d="M1260.8,837.2 1263.4,842.8 1266.0,848.3 1268.7,853.9 1271.5,859.4 1274.3,864.8 1277.2,870.3 1280.1,875.7 1283.1,881.0 1286.1,886.4 1289.2,891.7 1292.3,897.0 1295.5,902.2 1298.7,907.4 1302.0,912.6 1305.4,917.8 1308.7,922.9 1312.2,928.0 1315.6,933.1 1319.2,938.1 1322.7,943.2 1326.3,948.1 1330.0,953.1 1333.7,958.0 1337.4,962.9 1341.1,967.8 1344.9,972.6 1348.8,977.4 1352.7,982.2 1356.6,986.9 1360.5,991.6 1364.5,996.3 1368.5,1001.0 1372.6,1005.6 1376.7,1010.2 1380.8,1014.7 1385.0,1019.3 1389.1,1023.8 1393.3,1028.3 1397.6,1032.7"/></g>
</g>
<path d="M1113.2,712.8L1136.7,709.2" stroke="#111" stroke-width="1"/>
<path d="M1141.3,724.0L1171.0,731.0" stroke="#111" stroke-width="1"/>
<path d="M1174.9,745.9L1209.2,757.6" stroke="#111" stroke-width="1"/>
<path d="M1217.8,782.6L1235.0,782.6" stroke="#111" stroke-width="1"/>
<path d="M1264.7,837.2L1281.8,836.1" stroke="#111" stroke-width="1"/>
<text x="1139.5" y="713.9" font-size="15.78" font-family='"Liberation Sans", sans-serif' fill="#000" font-weight="bold" textLength="12.8" lengthAdjust="spacingAndGlyphs" stroke="#000" stroke-width="1.5" stroke-linejoin="round">20</text>
<text x="1156.8" y="714.1" font-size="16.2" font-family='"Liberation Sans", sans-serif' fill="#000" font-weight="bold" font-style="italic" textLength="25.3" lengthAdjust="spacingAndGlyphs" stroke="#000" stroke-width="1.2000000000000002" stroke-linejoin="round">[34]</text>
<text x="1172.5" y="737.3" font-size="15.78" font-family='"Liberation Sans", sans-serif' fill="#000" font-weight="bold" textLength="14.0" lengthAdjust="spacingAndGlyphs" stroke="#000" stroke-width="1.5" stroke-linejoin="round">40</text>
<text x="1191.9" y="737.5" font-size="16.2" font-family='"Liberation Sans", sans-serif' fill="#000" font-weight="bold" font-style="italic" textLength="25.3" lengthAdjust="spacingAndGlyphs" stroke="#000" stroke-width="1.2000000000000002" stroke-linejoin="round">[68]</text>
<text x="1210.5" y="763.8" font-size="15.78" font-family='"Liberation Sans", sans-serif' fill="#000" font-weight="bold" textLength="13.6" lengthAdjust="spacingAndGlyphs" stroke="#000" stroke-width="1.5" stroke-linejoin="round">60</text>
<text x="1228.6" y="764.0" font-size="16.2" font-family='"Liberation Sans", sans-serif' fill="#000" font-weight="bold" font-style="italic" textLength="29.9" lengthAdjust="spacingAndGlyphs" stroke="#000" stroke-width="1.2000000000000002" stroke-linejoin="round">[102]</text>
<text x="1243.2" y="789.6" font-size="15.78" font-family='"Liberation Sans", sans-serif' fill="#000" font-weight="bold" textLength="13.6" lengthAdjust="spacingAndGlyphs" stroke="#000" stroke-width="1.5" stroke-linejoin="round">80</text>
<text x="1268.4" y="789.8" font-size="16.2" font-family='"Liberation Sans", sans-serif' fill="#000" font-weight="bold" font-style="italic" textLength="32.3" lengthAdjust="spacingAndGlyphs" stroke="#000" stroke-width="1.2000000000000002" stroke-linejoin="round">[136]</text>
<text x="1284.7" y="842.8" font-size="15.78" font-family='"Liberation Sans", sans-serif' fill="#000" font-weight="bold" textLength="20.6" lengthAdjust="spacingAndGlyphs" stroke="#000" stroke-width="1.5" stroke-linejoin="round">100</text>
<text x="1309.2" y="842.9" font-size="16.2" font-family='"Liberation Sans", sans-serif' fill="#000" font-weight="bold" font-style="italic" textLength="31.1" lengthAdjust="spacingAndGlyphs" stroke="#000" stroke-width="1.2000000000000002" stroke-linejoin="round">[170]</text>
<text x="1392.1" y="739.2" font-size="17.5" font-family='"Liberation Sans", "Noto Sans CJK SC", sans-serif' fill="#000" font-weight="500" textLength="87.2" lengthAdjust="spacingAndGlyphs">空气消耗量</text>
<text x="1381.8" y="760.5" font-size="15.5" font-family='"Liberation Sans", sans-serif' fill="#000" font-weight="bold" textLength="48.8" lengthAdjust="spacingAndGlyphs" stroke="#000" stroke-width="1.1" stroke-linejoin="round">(SCFM)</text>
<text x="1434.8" y="760.4" font-size="15.6" font-family='"Liberation Sans", sans-serif' font-weight="bold" font-style="italic" stroke="#000" stroke-width="0.9" stroke-linejoin="round" textLength="52.1" lengthAdjust="spacingAndGlyphs">[Nm<tspan font-size="9.5" dy="-6">3</tspan><tspan dy="6">/h]</tspan></text>
<path d="M985.4,692.0V1036.2M973.4,1034.9H985.4M973.4,996.6H985.4M973.4,958.3H985.4M973.4,920.0H985.4M973.4,881.7H985.4M973.4,843.4H985.4M973.4,805.1H985.4M973.4,766.8H985.4M973.4,728.5H985.4M1038.7,691.9V1032.9M1026.7,1031.6H1038.7M1026.7,1003.4H1038.7M1026.7,975.2H1038.7M1026.7,947.0H1038.7M1026.7,918.8H1038.7M1026.7,890.6H1038.7M1026.7,862.4H1038.7M1026.7,834.2H1038.7M1026.7,806.0H1038.7M1026.7,777.8H1038.7M1026.7,749.6H1038.7M1026.7,721.4H1038.7M1026.7,693.2H1038.7" stroke="#000" stroke-width="2.8" fill="none"/>
<text x="961.2" y="1041.7" font-size="18.16" font-family='"Liberation Sans", sans-serif' fill="#000" font-weight="bold" textLength="7.2" lengthAdjust="spacingAndGlyphs" stroke="#000" stroke-width="1.2" stroke-linejoin="round">0</text>
<text x="961.2" y="1003.9" font-size="18.16" font-family='"Liberation Sans", sans-serif' fill="#000" font-weight="bold" textLength="7.2" lengthAdjust="spacingAndGlyphs" stroke="#000" stroke-width="1.2" stroke-linejoin="round">1</text>
<text x="961.2" y="966.0" font-size="18.16" font-family='"Liberation Sans", sans-serif' fill="#000" font-weight="bold" textLength="7.2" lengthAdjust="spacingAndGlyphs" stroke="#000" stroke-width="1.2" stroke-linejoin="round">2</text>
<text x="961.2" y="928.2" font-size="18.16" font-family='"Liberation Sans", sans-serif' fill="#000" font-weight="bold" textLength="7.2" lengthAdjust="spacingAndGlyphs" stroke="#000" stroke-width="1.2" stroke-linejoin="round">3</text>
<text x="961.2" y="890.4" font-size="18.16" font-family='"Liberation Sans", sans-serif' fill="#000" font-weight="bold" textLength="7.2" lengthAdjust="spacingAndGlyphs" stroke="#000" stroke-width="1.2" stroke-linejoin="round">4</text>
<text x="961.2" y="852.6" font-size="18.16" font-family='"Liberation Sans", sans-serif' fill="#000" font-weight="bold" textLength="7.2" lengthAdjust="spacingAndGlyphs" stroke="#000" stroke-width="1.2" stroke-linejoin="round">5</text>
<text x="961.2" y="814.8" font-size="18.16" font-family='"Liberation Sans", sans-serif' fill="#000" font-weight="bold" textLength="7.2" lengthAdjust="spacingAndGlyphs" stroke="#000" stroke-width="1.2" stroke-linejoin="round">6</text>
<text x="961.2" y="776.9" font-size="18.16" font-family='"Liberation Sans", sans-serif' fill="#000" font-weight="bold" textLength="7.2" lengthAdjust="spacingAndGlyphs" stroke="#000" stroke-width="1.2" stroke-linejoin="round">7</text>
<text x="961.2" y="739.1" font-size="18.16" font-family='"Liberation Sans", sans-serif' fill="#000" font-weight="bold" textLength="7.2" lengthAdjust="spacingAndGlyphs" stroke="#000" stroke-width="1.2" stroke-linejoin="round">8</text>
<text x="1014.1" y="1038.9" font-size="18.16" font-family='"Liberation Sans", sans-serif' fill="#000" font-weight="bold" textLength="6.6" lengthAdjust="spacingAndGlyphs" stroke="#000" stroke-width="1.2" stroke-linejoin="round">0</text>
<text x="1006.3" y="1010.9" font-size="18.16" font-family='"Liberation Sans", sans-serif' fill="#000" font-weight="bold" textLength="14.4" lengthAdjust="spacingAndGlyphs" stroke="#000" stroke-width="1.2" stroke-linejoin="round">25</text>
<text x="1006.3" y="982.8" font-size="18.16" font-family='"Liberation Sans", sans-serif' fill="#000" font-weight="bold" textLength="14.4" lengthAdjust="spacingAndGlyphs" stroke="#000" stroke-width="1.2" stroke-linejoin="round">50</text>
<text x="1006.3" y="954.8" font-size="18.16" font-family='"Liberation Sans", sans-serif' fill="#000" font-weight="bold" textLength="14.4" lengthAdjust="spacingAndGlyphs" stroke="#000" stroke-width="1.2" stroke-linejoin="round">75</text>
<text x="998.5" y="926.8" font-size="18.16" font-family='"Liberation Sans", sans-serif' fill="#000" font-weight="bold" textLength="22.2" lengthAdjust="spacingAndGlyphs" stroke="#000" stroke-width="1.2" stroke-linejoin="round">100</text>
<text x="998.5" y="898.7" font-size="18.16" font-family='"Liberation Sans", sans-serif' fill="#000" font-weight="bold" textLength="22.2" lengthAdjust="spacingAndGlyphs" stroke="#000" stroke-width="1.2" stroke-linejoin="round">125</text>
<text x="998.5" y="870.7" font-size="18.16" font-family='"Liberation Sans", sans-serif' fill="#000" font-weight="bold" textLength="22.2" lengthAdjust="spacingAndGlyphs" stroke="#000" stroke-width="1.2" stroke-linejoin="round">150</text>
<text x="998.5" y="842.7" font-size="18.16" font-family='"Liberation Sans", sans-serif' fill="#000" font-weight="bold" textLength="22.2" lengthAdjust="spacingAndGlyphs" stroke="#000" stroke-width="1.2" stroke-linejoin="round">175</text>
<text x="998.5" y="814.6" font-size="18.16" font-family='"Liberation Sans", sans-serif' fill="#000" font-weight="bold" textLength="22.2" lengthAdjust="spacingAndGlyphs" stroke="#000" stroke-width="1.2" stroke-linejoin="round">200</text>
<text x="998.5" y="786.6" font-size="18.16" font-family='"Liberation Sans", sans-serif' fill="#000" font-weight="bold" textLength="22.2" lengthAdjust="spacingAndGlyphs" stroke="#000" stroke-width="1.2" stroke-linejoin="round">225</text>
<text x="998.5" y="758.6" font-size="18.16" font-family='"Liberation Sans", sans-serif' fill="#000" font-weight="bold" textLength="22.2" lengthAdjust="spacingAndGlyphs" stroke="#000" stroke-width="1.2" stroke-linejoin="round">250</text>
<text x="998.5" y="730.5" font-size="18.16" font-family='"Liberation Sans", sans-serif' fill="#000" font-weight="bold" textLength="22.2" lengthAdjust="spacingAndGlyphs" stroke="#000" stroke-width="1.2" stroke-linejoin="round">275</text>
<text x="998.5" y="702.5" font-size="18.16" font-family='"Liberation Sans", sans-serif' fill="#000" font-weight="bold" textLength="22.2" lengthAdjust="spacingAndGlyphs" stroke="#000" stroke-width="1.2" stroke-linejoin="round">300</text>
<text x="1073.8" y="1039.4" font-size="18.16" font-family='"Liberation Sans", sans-serif' fill="#000" font-weight="bold" textLength="6.6" lengthAdjust="spacingAndGlyphs" stroke="#000" stroke-width="1.2" stroke-linejoin="round">0</text>
<text x="1066.0" y="988.3" font-size="18.16" font-family='"Liberation Sans", sans-serif' fill="#000" font-weight="bold" textLength="14.4" lengthAdjust="spacingAndGlyphs" stroke="#000" stroke-width="1.2" stroke-linejoin="round">20</text>
<text x="1066.0" y="936.6" font-size="18.16" font-family='"Liberation Sans", sans-serif' fill="#000" font-weight="bold" textLength="14.4" lengthAdjust="spacingAndGlyphs" stroke="#000" stroke-width="1.2" stroke-linejoin="round">40</text>
<text x="1066.0" y="884.8" font-size="18.16" font-family='"Liberation Sans", sans-serif' fill="#000" font-weight="bold" textLength="14.4" lengthAdjust="spacingAndGlyphs" stroke="#000" stroke-width="1.2" stroke-linejoin="round">60</text>
<text x="1066.0" y="833.1" font-size="18.16" font-family='"Liberation Sans", sans-serif' fill="#000" font-weight="bold" textLength="14.4" lengthAdjust="spacingAndGlyphs" stroke="#000" stroke-width="1.2" stroke-linejoin="round">80</text>
<text x="1058.2" y="781.4" font-size="18.16" font-family='"Liberation Sans", sans-serif' fill="#000" font-weight="bold" textLength="22.2" lengthAdjust="spacingAndGlyphs" stroke="#000" stroke-width="1.2" stroke-linejoin="round">100</text>
<text x="1058.2" y="729.6" font-size="18.16" font-family='"Liberation Sans", sans-serif' fill="#000" font-weight="bold" textLength="22.2" lengthAdjust="spacingAndGlyphs" stroke="#000" stroke-width="1.2" stroke-linejoin="round">120</text>
<text x="957.2" y="681.4" font-size="18.52" font-family='"Liberation Sans", sans-serif' fill="#000" font-weight="bold" textLength="30.0" lengthAdjust="spacingAndGlyphs" stroke="#000" stroke-width="0.9" stroke-linejoin="round">BAR</text>
<text x="997.5" y="681.4" font-size="18.52" font-family='"Liberation Sans", sans-serif' fill="#000" font-weight="bold" textLength="35.9" lengthAdjust="spacingAndGlyphs" stroke="#000" stroke-width="0.9" stroke-linejoin="round">FEET</text>
<text x="1046.5" y="681.4" font-size="18.52" font-family='"Liberation Sans", sans-serif' fill="#000" font-weight="bold" textLength="35.0" lengthAdjust="spacingAndGlyphs" stroke="#000" stroke-width="0.9" stroke-linejoin="round">PSIG</text>
<text x="1114.2" y="1056.0" font-size="15.64" font-family='"Liberation Sans", sans-serif' fill="#000" font-weight="bold" textLength="15.3" lengthAdjust="spacingAndGlyphs" stroke="#000" stroke-width="1.6" stroke-linejoin="round">10</text>
<text x="1111.4" y="1075.8" font-size="16.34" font-family='"Liberation Sans", sans-serif' fill="#000" font-weight="bold" textLength="20.9" lengthAdjust="spacingAndGlyphs" stroke="#000" stroke-width="0.7" stroke-linejoin="round">[38]</text>
<text x="1152.9" y="1056.0" font-size="15.64" font-family='"Liberation Sans", sans-serif' fill="#000" font-weight="bold" textLength="15.3" lengthAdjust="spacingAndGlyphs" stroke="#000" stroke-width="1.6" stroke-linejoin="round">20</text>
<text x="1150.1" y="1075.8" font-size="16.34" font-family='"Liberation Sans", sans-serif' fill="#000" font-weight="bold" textLength="20.9" lengthAdjust="spacingAndGlyphs" stroke="#000" stroke-width="0.7" stroke-linejoin="round">[76]</text>
<text x="1191.6" y="1056.0" font-size="15.64" font-family='"Liberation Sans", sans-serif' fill="#000" font-weight="bold" textLength="15.3" lengthAdjust="spacingAndGlyphs" stroke="#000" stroke-width="1.6" stroke-linejoin="round">30</text>
<text x="1185.7" y="1075.8" font-size="16.34" font-family='"Liberation Sans", sans-serif' fill="#000" font-weight="bold" textLength="27.2" lengthAdjust="spacingAndGlyphs" stroke="#000" stroke-width="0.7" stroke-linejoin="round">[114]</text>
<text x="1230.3" y="1056.0" font-size="15.64" font-family='"Liberation Sans", sans-serif' fill="#000" font-weight="bold" textLength="15.3" lengthAdjust="spacingAndGlyphs" stroke="#000" stroke-width="1.6" stroke-linejoin="round">40</text>
<text x="1224.4" y="1075.8" font-size="16.34" font-family='"Liberation Sans", sans-serif' fill="#000" font-weight="bold" textLength="27.2" lengthAdjust="spacingAndGlyphs" stroke="#000" stroke-width="0.7" stroke-linejoin="round">[151]</text>
<text x="1269.0" y="1056.0" font-size="15.64" font-family='"Liberation Sans", sans-serif' fill="#000" font-weight="bold" textLength="15.3" lengthAdjust="spacingAndGlyphs" stroke="#000" stroke-width="1.6" stroke-linejoin="round">50</text>
<text x="1263.1" y="1075.8" font-size="16.34" font-family='"Liberation Sans", sans-serif' fill="#000" font-weight="bold" textLength="27.2" lengthAdjust="spacingAndGlyphs" stroke="#000" stroke-width="0.7" stroke-linejoin="round">[189]</text>
<text x="1307.8" y="1056.0" font-size="15.64" font-family='"Liberation Sans", sans-serif' fill="#000" font-weight="bold" textLength="15.3" lengthAdjust="spacingAndGlyphs" stroke="#000" stroke-width="1.6" stroke-linejoin="round">60</text>
<text x="1301.8" y="1075.8" font-size="16.34" font-family='"Liberation Sans", sans-serif' fill="#000" font-weight="bold" textLength="27.2" lengthAdjust="spacingAndGlyphs" stroke="#000" stroke-width="0.7" stroke-linejoin="round">[227]</text>
<text x="1346.5" y="1056.0" font-size="15.64" font-family='"Liberation Sans", sans-serif' fill="#000" font-weight="bold" textLength="15.3" lengthAdjust="spacingAndGlyphs" stroke="#000" stroke-width="1.6" stroke-linejoin="round">70</text>
<text x="1340.5" y="1075.8" font-size="16.34" font-family='"Liberation Sans", sans-serif' fill="#000" font-weight="bold" textLength="27.2" lengthAdjust="spacingAndGlyphs" stroke="#000" stroke-width="0.7" stroke-linejoin="round">[265]</text>
<text x="1385.2" y="1056.0" font-size="15.64" font-family='"Liberation Sans", sans-serif' fill="#000" font-weight="bold" textLength="15.3" lengthAdjust="spacingAndGlyphs" stroke="#000" stroke-width="1.6" stroke-linejoin="round">80</text>
<text x="1379.3" y="1075.8" font-size="16.34" font-family='"Liberation Sans", sans-serif' fill="#000" font-weight="bold" textLength="27.2" lengthAdjust="spacingAndGlyphs" stroke="#000" stroke-width="0.7" stroke-linejoin="round">[303]</text>
<text x="1423.9" y="1056.0" font-size="15.64" font-family='"Liberation Sans", sans-serif' fill="#000" font-weight="bold" textLength="15.3" lengthAdjust="spacingAndGlyphs" stroke="#000" stroke-width="1.6" stroke-linejoin="round">90</text>
<text x="1418.0" y="1075.8" font-size="16.34" font-family='"Liberation Sans", sans-serif' fill="#000" font-weight="bold" textLength="27.2" lengthAdjust="spacingAndGlyphs" stroke="#000" stroke-width="0.7" stroke-linejoin="round">[341]</text>
<text x="1458.5" y="1056.0" font-size="15.64" font-family='"Liberation Sans", sans-serif' fill="#000" font-weight="bold" textLength="23.5" lengthAdjust="spacingAndGlyphs" stroke="#000" stroke-width="1.6" stroke-linejoin="round">100</text>
<text x="1456.7" y="1075.8" font-size="16.34" font-family='"Liberation Sans", sans-serif' fill="#000" font-weight="bold" textLength="27.2" lengthAdjust="spacingAndGlyphs" stroke="#000" stroke-width="0.7" stroke-linejoin="round">[379]</text>
<text x="1497.3" y="1056.0" font-size="15.64" font-family='"Liberation Sans", sans-serif' fill="#000" font-weight="bold" textLength="23.5" lengthAdjust="spacingAndGlyphs" stroke="#000" stroke-width="1.6" stroke-linejoin="round">110</text>
<text x="1495.4" y="1075.8" font-size="16.34" font-family='"Liberation Sans", sans-serif' fill="#000" font-weight="bold" textLength="27.2" lengthAdjust="spacingAndGlyphs" stroke="#000" stroke-width="0.7" stroke-linejoin="round">[416]</text>
<text x="1536.0" y="1056.0" font-size="15.64" font-family='"Liberation Sans", sans-serif' fill="#000" font-weight="bold" textLength="23.5" lengthAdjust="spacingAndGlyphs" stroke="#000" stroke-width="1.6" stroke-linejoin="round">120</text>
<text x="1534.1" y="1075.8" font-size="16.34" font-family='"Liberation Sans", sans-serif' fill="#000" font-weight="bold" textLength="27.2" lengthAdjust="spacingAndGlyphs" stroke="#000" stroke-width="0.7" stroke-linejoin="round">[454]</text>
<text x="1008.7" y="1058.0" font-size="17" font-family='"Liberation Sans", "Noto Sans CJK SC", sans-serif' fill="#000" font-weight="500" textLength="34.0" lengthAdjust="spacingAndGlyphs">流量</text>
<text x="1000.2" y="1078.5" font-size="17" font-family='"Liberation Sans", "Noto Sans CJK SC", sans-serif' fill="#000" font-weight="500" textLength="51.0" lengthAdjust="spacingAndGlyphs">（水）</text>
<text x="1056.8" y="1057.6" font-size="18.66" font-family='"Liberation Sans", sans-serif' fill="#000" font-weight="bold" textLength="38.5" lengthAdjust="spacingAndGlyphs" stroke="#000" stroke-width="1.9" stroke-linejoin="round">GPM</text>
<text x="1054.7" y="1076.4" font-size="17.56" font-family='"Liberation Sans", sans-serif' fill="#000" textLength="45.4" lengthAdjust="spacingAndGlyphs" stroke="#000" stroke-width="0.6" stroke-linejoin="round">[LPM]</text>
</g>
<g id="chart5">
<text x="561.5" y="1129.0" font-size="32.5" font-family='"Liberation Sans", "Noto Sans CJK SC", sans-serif' fill="#6b9ca8" font-weight="300" textLength="130.5" lengthAdjust="spacingAndGlyphs">橡胶隔膜</text>
<path d="M451.50,1147.80V1488.79M503.50,1147.80V1488.79M555.50,1147.80V1488.79M607.50,1147.80V1488.79M659.50,1147.80V1488.79M711.50,1147.80V1488.79M763.50,1147.80V1174.50M763.50,1226.50V1488.79M815.50,1147.80V1174.50M815.50,1226.50V1488.79M867.50,1147.80V1488.79M920.50,1147.80V1488.79M451.10,1147.50H920.00M451.10,1174.50H920.00M451.10,1200.50H711.50M867.50,1200.50H920.00M451.10,1226.50H920.00M451.10,1252.50H920.00M451.10,1278.50H920.00M451.10,1305.50H920.00M451.10,1331.50H920.00M451.10,1357.50H920.00M451.10,1383.50H920.00M451.10,1410.50H920.00M451.10,1436.50H920.00M451.10,1462.50H920.00M451.10,1488.50H920.00" stroke="#2a2a2a" stroke-width="1" fill="none" shape-rendering="crispEdges"/>
<clipPath id="cp5"><rect x="443.1" y="1145.8" width="478.9" height="343.6"/></clipPath>
<g clip-path="url(#cp5)">
<g fill="none" stroke="#ff580e" stroke-linecap="butt" stroke-linejoin="round"><g stroke-width="7.6" stroke-opacity="0.13"><path d="M450.6,1173.4 464.4,1172.1 478.0,1173.5 491.2,1176.9 504.2,1181.7 517.0,1187.4 529.5,1193.8 541.9,1200.6 554.2,1207.7 566.3,1214.9 578.3,1222.2 590.1,1229.6 601.7,1237.2 613.2,1245.1 624.4,1253.1 635.3,1261.5 645.9,1270.3 656.2,1279.4 666.2,1289.0 675.9,1299.0 685.4,1309.2 694.9,1319.5 704.4,1329.8 714.0,1339.9 723.8,1349.9 733.6,1359.7 743.5,1369.5 753.3,1379.4 763.0,1389.4 772.5,1399.5 782.0,1409.7 791.5,1419.9 801.2,1429.7 811.2,1439.2 821.6,1448.2 832.5,1456.6 843.8,1464.6 855.3,1472.4 866.9,1480.2 878.4,1488.1"/><path d="M450.6,1225.6 463.4,1226.2 476.0,1227.5 488.4,1229.6 500.7,1232.4 512.7,1235.8 524.6,1239.7 536.4,1244.3 547.9,1249.4 559.3,1254.9 570.5,1260.9 581.5,1267.3 592.4,1274.1 603.1,1281.2 613.6,1288.6 624.0,1296.2 634.2,1304.0 644.3,1312.0 654.2,1320.2 664.0,1328.4 673.6,1336.7 683.1,1345.1 692.5,1353.5 701.8,1362.0 711.1,1370.6 720.2,1379.2 729.4,1387.9 738.5,1396.6 747.5,1405.4 756.6,1414.2 765.7,1423.1 774.9,1431.9 784.2,1440.7 793.7,1449.2 803.4,1457.3 813.5,1464.9 823.9,1472.0 834.9,1478.3 846.4,1483.7 858.4,1488.2"/><path d="M450.6,1278.8 462.5,1278.5 474.2,1279.2 485.8,1280.8 497.3,1283.2 508.6,1286.3 519.8,1290.0 530.9,1294.2 541.9,1298.8 552.8,1303.7 563.5,1308.7 574.2,1314.0 584.8,1319.4 595.3,1325.0 605.6,1330.7 615.9,1336.6 626.0,1342.7 636.1,1348.9 646.0,1355.3 655.9,1361.9 665.6,1368.7 675.2,1375.5 684.8,1382.6 694.2,1389.7 703.6,1396.9 713.0,1404.2 722.3,1411.6 731.6,1419.0 740.8,1426.4 750.1,1433.8 759.4,1441.2 768.7,1448.5 778.0,1455.7 787.6,1462.5 797.3,1468.9 807.3,1474.7 817.7,1479.7 828.5,1483.7 839.8,1486.6 851.8,1488.2"/><path d="M450.6,1331.1 460.5,1333.8 470.5,1336.6 480.4,1339.4 490.2,1342.3 500.1,1345.2 510.0,1348.3 519.8,1351.4 529.6,1354.7 539.3,1358.0 549.1,1361.4 558.8,1364.9 568.4,1368.5 578.0,1372.2 587.6,1376.0 597.1,1380.0 606.6,1384.0 616.1,1388.1 625.4,1392.4 634.8,1396.8 644.0,1401.3 653.3,1405.9 662.4,1410.5 671.6,1415.3 680.7,1420.1 689.8,1425.0 698.8,1429.9 707.9,1434.8 716.9,1439.8 725.9,1444.7 735.0,1449.6 744.0,1454.5 753.1,1459.3 762.2,1464.0 771.4,1468.5 780.6,1472.9 789.9,1477.2 799.3,1481.1 808.8,1484.8 818.4,1488.3"/><path d="M450.6,1384.2 459.5,1386.7 468.4,1389.1 477.3,1391.5 486.2,1393.8 495.2,1396.0 504.1,1398.2 513.1,1400.3 522.1,1402.5 531.1,1404.6 540.1,1406.7 549.0,1408.8 558.0,1411.0 567.0,1413.2 575.9,1415.4 584.9,1417.7 593.8,1420.1 602.6,1422.6 611.5,1425.2 620.2,1428.0 629.0,1430.9 637.6,1434.0 646.2,1437.3 654.8,1440.8 663.3,1444.3 671.8,1448.0 680.3,1451.7 688.8,1455.3 697.2,1459.0 705.7,1462.6 714.2,1466.2 722.7,1469.6 731.3,1472.8 739.9,1475.9 748.6,1478.7 757.3,1481.3 766.2,1483.5 775.1,1485.5 784.1,1487.1 793.2,1488.3"/><path d="M450.6,1436.6 457.3,1436.0 464.0,1435.6 470.7,1435.4 477.4,1435.3 484.1,1435.4 490.8,1435.6 497.4,1436.0 504.0,1436.5 510.7,1437.1 517.3,1437.8 523.9,1438.7 530.5,1439.7 537.1,1440.7 543.6,1441.9 550.2,1443.2 556.7,1444.6 563.2,1446.0 569.7,1447.6 576.2,1449.2 582.7,1450.9 589.2,1452.6 595.7,1454.4 602.1,1456.3 608.6,1458.2 615.0,1460.2 621.4,1462.2 627.8,1464.2 634.2,1466.3 640.6,1468.4 647.0,1470.5 653.3,1472.7 659.7,1474.8 666.0,1477.0 672.4,1479.1 678.7,1481.2 685.0,1483.4 691.3,1485.5 697.6,1487.6 703.8,1489.7"/></g><g stroke-width="6.4" stroke-opacity="0.3"><path d="M450.6,1173.4 464.4,1172.1 478.0,1173.5 491.2,1176.9 504.2,1181.7 517.0,1187.4 529.5,1193.8 541.9,1200.6 554.2,1207.7 566.3,1214.9 578.3,1222.2 590.1,1229.6 601.7,1237.2 613.2,1245.1 624.4,1253.1 635.3,1261.5 645.9,1270.3 656.2,1279.4 666.2,1289.0 675.9,1299.0 685.4,1309.2 694.9,1319.5 704.4,1329.8 714.0,1339.9 723.8,1349.9 733.6,1359.7 743.5,1369.5 753.3,1379.4 763.0,1389.4 772.5,1399.5 782.0,1409.7 791.5,1419.9 801.2,1429.7 811.2,1439.2 821.6,1448.2 832.5,1456.6 843.8,1464.6 855.3,1472.4 866.9,1480.2 878.4,1488.1"/><path d="M450.6,1225.6 463.4,1226.2 476.0,1227.5 488.4,1229.6 500.7,1232.4 512.7,1235.8 524.6,1239.7 536.4,1244.3 547.9,1249.4 559.3,1254.9 570.5,1260.9 581.5,1267.3 592.4,1274.1 603.1,1281.2 613.6,1288.6 624.0,1296.2 634.2,1304.0 644.3,1312.0 654.2,1320.2 664.0,1328.4 673.6,1336.7 683.1,1345.1 692.5,1353.5 701.8,1362.0 711.1,1370.6 720.2,1379.2 729.4,1387.9 738.5,1396.6 747.5,1405.4 756.6,1414.2 765.7,1423.1 774.9,1431.9 784.2,1440.7 793.7,1449.2 803.4,1457.3 813.5,1464.9 823.9,1472.0 834.9,1478.3 846.4,1483.7 858.4,1488.2"/><path d="M450.6,1278.8 462.5,1278.5 474.2,1279.2 485.8,1280.8 497.3,1283.2 508.6,1286.3 519.8,1290.0 530.9,1294.2 541.9,1298.8 552.8,1303.7 563.5,1308.7 574.2,1314.0 584.8,1319.4 595.3,1325.0 605.6,1330.7 615.9,1336.6 626.0,1342.7 636.1,1348.9 646.0,1355.3 655.9,1361.9 665.6,1368.7 675.2,1375.5 684.8,1382.6 694.2,1389.7 703.6,1396.9 713.0,1404.2 722.3,1411.6 731.6,1419.0 740.8,1426.4 750.1,1433.8 759.4,1441.2 768.7,1448.5 778.0,1455.7 787.6,1462.5 797.3,1468.9 807.3,1474.7 817.7,1479.7 828.5,1483.7 839.8,1486.6 851.8,1488.2"/><path d="M450.6,1331.1 460.5,1333.8 470.5,1336.6 480.4,1339.4 490.2,1342.3 500.1,1345.2 510.0,1348.3 519.8,1351.4 529.6,1354.7 539.3,1358.0 549.1,1361.4 558.8,1364.9 568.4,1368.5 578.0,1372.2 587.6,1376.0 597.1,1380.0 606.6,1384.0 616.1,1388.1 625.4,1392.4 634.8,1396.8 644.0,1401.3 653.3,1405.9 662.4,1410.5 671.6,1415.3 680.7,1420.1 689.8,1425.0 698.8,1429.9 707.9,1434.8 716.9,1439.8 725.9,1444.7 735.0,1449.6 744.0,1454.5 753.1,1459.3 762.2,1464.0 771.4,1468.5 780.6,1472.9 789.9,1477.2 799.3,1481.1 808.8,1484.8 818.4,1488.3"/><path d="M450.6,1384.2 459.5,1386.7 468.4,1389.1 477.3,1391.5 486.2,1393.8 495.2,1396.0 504.1,1398.2 513.1,1400.3 522.1,1402.5 531.1,1404.6 540.1,1406.7 549.0,1408.8 558.0,1411.0 567.0,1413.2 575.9,1415.4 584.9,1417.7 593.8,1420.1 602.6,1422.6 611.5,1425.2 620.2,1428.0 629.0,1430.9 637.6,1434.0 646.2,1437.3 654.8,1440.8 663.3,1444.3 671.8,1448.0 680.3,1451.7 688.8,1455.3 697.2,1459.0 705.7,1462.6 714.2,1466.2 722.7,1469.6 731.3,1472.8 739.9,1475.9 748.6,1478.7 757.3,1481.3 766.2,1483.5 775.1,1485.5 784.1,1487.1 793.2,1488.3"/><path d="M450.6,1436.6 457.3,1436.0 464.0,1435.6 470.7,1435.4 477.4,1435.3 484.1,1435.4 490.8,1435.6 497.4,1436.0 504.0,1436.5 510.7,1437.1 517.3,1437.8 523.9,1438.7 530.5,1439.7 537.1,1440.7 543.6,1441.9 550.2,1443.2 556.7,1444.6 563.2,1446.0 569.7,1447.6 576.2,1449.2 582.7,1450.9 589.2,1452.6 595.7,1454.4 602.1,1456.3 608.6,1458.2 615.0,1460.2 621.4,1462.2 627.8,1464.2 634.2,1466.3 640.6,1468.4 647.0,1470.5 653.3,1472.7 659.7,1474.8 666.0,1477.0 672.4,1479.1 678.7,1481.2 685.0,1483.4 691.3,1485.5 697.6,1487.6 703.8,1489.7"/></g><g stroke-width="5.2" stroke-opacity="0.6"><path d="M450.6,1173.4 464.4,1172.1 478.0,1173.5 491.2,1176.9 504.2,1181.7 517.0,1187.4 529.5,1193.8 541.9,1200.6 554.2,1207.7 566.3,1214.9 578.3,1222.2 590.1,1229.6 601.7,1237.2 613.2,1245.1 624.4,1253.1 635.3,1261.5 645.9,1270.3 656.2,1279.4 666.2,1289.0 675.9,1299.0 685.4,1309.2 694.9,1319.5 704.4,1329.8 714.0,1339.9 723.8,1349.9 733.6,1359.7 743.5,1369.5 753.3,1379.4 763.0,1389.4 772.5,1399.5 782.0,1409.7 791.5,1419.9 801.2,1429.7 811.2,1439.2 821.6,1448.2 832.5,1456.6 843.8,1464.6 855.3,1472.4 866.9,1480.2 878.4,1488.1"/><path d="M450.6,1225.6 463.4,1226.2 476.0,1227.5 488.4,1229.6 500.7,1232.4 512.7,1235.8 524.6,1239.7 536.4,1244.3 547.9,1249.4 559.3,1254.9 570.5,1260.9 581.5,1267.3 592.4,1274.1 603.1,1281.2 613.6,1288.6 624.0,1296.2 634.2,1304.0 644.3,1312.0 654.2,1320.2 664.0,1328.4 673.6,1336.7 683.1,1345.1 692.5,1353.5 701.8,1362.0 711.1,1370.6 720.2,1379.2 729.4,1387.9 738.5,1396.6 747.5,1405.4 756.6,1414.2 765.7,1423.1 774.9,1431.9 784.2,1440.7 793.7,1449.2 803.4,1457.3 813.5,1464.9 823.9,1472.0 834.9,1478.3 846.4,1483.7 858.4,1488.2"/><path d="M450.6,1278.8 462.5,1278.5 474.2,1279.2 485.8,1280.8 497.3,1283.2 508.6,1286.3 519.8,1290.0 530.9,1294.2 541.9,1298.8 552.8,1303.7 563.5,1308.7 574.2,1314.0 584.8,1319.4 595.3,1325.0 605.6,1330.7 615.9,1336.6 626.0,1342.7 636.1,1348.9 646.0,1355.3 655.9,1361.9 665.6,1368.7 675.2,1375.5 684.8,1382.6 694.2,1389.7 703.6,1396.9 713.0,1404.2 722.3,1411.6 731.6,1419.0 740.8,1426.4 750.1,1433.8 759.4,1441.2 768.7,1448.5 778.0,1455.7 787.6,1462.5 797.3,1468.9 807.3,1474.7 817.7,1479.7 828.5,1483.7 839.8,1486.6 851.8,1488.2"/><path d="M450.6,1331.1 460.5,1333.8 470.5,1336.6 480.4,1339.4 490.2,1342.3 500.1,1345.2 510.0,1348.3 519.8,1351.4 529.6,1354.7 539.3,1358.0 549.1,1361.4 558.8,1364.9 568.4,1368.5 578.0,1372.2 587.6,1376.0 597.1,1380.0 606.6,1384.0 616.1,1388.1 625.4,1392.4 634.8,1396.8 644.0,1401.3 653.3,1405.9 662.4,1410.5 671.6,1415.3 680.7,1420.1 689.8,1425.0 698.8,1429.9 707.9,1434.8 716.9,1439.8 725.9,1444.7 735.0,1449.6 744.0,1454.5 753.1,1459.3 762.2,1464.0 771.4,1468.5 780.6,1472.9 789.9,1477.2 799.3,1481.1 808.8,1484.8 818.4,1488.3"/><path d="M450.6,1384.2 459.5,1386.7 468.4,1389.1 477.3,1391.5 486.2,1393.8 495.2,1396.0 504.1,1398.2 513.1,1400.3 522.1,1402.5 531.1,1404.6 540.1,1406.7 549.0,1408.8 558.0,1411.0 567.0,1413.2 575.9,1415.4 584.9,1417.7 593.8,1420.1 602.6,1422.6 611.5,1425.2 620.2,1428.0 629.0,1430.9 637.6,1434.0 646.2,1437.3 654.8,1440.8 663.3,1444.3 671.8,1448.0 680.3,1451.7 688.8,1455.3 697.2,1459.0 705.7,1462.6 714.2,1466.2 722.7,1469.6 731.3,1472.8 739.9,1475.9 748.6,1478.7 757.3,1481.3 766.2,1483.5 775.1,1485.5 784.1,1487.1 793.2,1488.3"/><path d="M450.6,1436.6 457.3,1436.0 464.0,1435.6 470.7,1435.4 477.4,1435.3 484.1,1435.4 490.8,1435.6 497.4,1436.0 504.0,1436.5 510.7,1437.1 517.3,1437.8 523.9,1438.7 530.5,1439.7 537.1,1440.7 543.6,1441.9 550.2,1443.2 556.7,1444.6 563.2,1446.0 569.7,1447.6 576.2,1449.2 582.7,1450.9 589.2,1452.6 595.7,1454.4 602.1,1456.3 608.6,1458.2 615.0,1460.2 621.4,1462.2 627.8,1464.2 634.2,1466.3 640.6,1468.4 647.0,1470.5 653.3,1472.7 659.7,1474.8 666.0,1477.0 672.4,1479.1 678.7,1481.2 685.0,1483.4 691.3,1485.5 697.6,1487.6 703.8,1489.7"/></g><g stroke-width="4.0"><path d="M450.6,1173.4 464.4,1172.1 478.0,1173.5 491.2,1176.9 504.2,1181.7 517.0,1187.4 529.5,1193.8 541.9,1200.6 554.2,1207.7 566.3,1214.9 578.3,1222.2 590.1,1229.6 601.7,1237.2 613.2,1245.1 624.4,1253.1 635.3,1261.5 645.9,1270.3 656.2,1279.4 666.2,1289.0 675.9,1299.0 685.4,1309.2 694.9,1319.5 704.4,1329.8 714.0,1339.9 723.8,1349.9 733.6,1359.7 743.5,1369.5 753.3,1379.4 763.0,1389.4 772.5,1399.5 782.0,1409.7 791.5,1419.9 801.2,1429.7 811.2,1439.2 821.6,1448.2 832.5,1456.6 843.8,1464.6 855.3,1472.4 866.9,1480.2 878.4,1488.1"/><path d="M450.6,1225.6 463.4,1226.2 476.0,1227.5 488.4,1229.6 500.7,1232.4 512.7,1235.8 524.6,1239.7 536.4,1244.3 547.9,1249.4 559.3,1254.9 570.5,1260.9 581.5,1267.3 592.4,1274.1 603.1,1281.2 613.6,1288.6 624.0,1296.2 634.2,1304.0 644.3,1312.0 654.2,1320.2 664.0,1328.4 673.6,1336.7 683.1,1345.1 692.5,1353.5 701.8,1362.0 711.1,1370.6 720.2,1379.2 729.4,1387.9 738.5,1396.6 747.5,1405.4 756.6,1414.2 765.7,1423.1 774.9,1431.9 784.2,1440.7 793.7,1449.2 803.4,1457.3 813.5,1464.9 823.9,1472.0 834.9,1478.3 846.4,1483.7 858.4,1488.2"/><path d="M450.6,1278.8 462.5,1278.5 474.2,1279.2 485.8,1280.8 497.3,1283.2 508.6,1286.3 519.8,1290.0 530.9,1294.2 541.9,1298.8 552.8,1303.7 563.5,1308.7 574.2,1314.0 584.8,1319.4 595.3,1325.0 605.6,1330.7 615.9,1336.6 626.0,1342.7 636.1,1348.9 646.0,1355.3 655.9,1361.9 665.6,1368.7 675.2,1375.5 684.8,1382.6 694.2,1389.7 703.6,1396.9 713.0,1404.2 722.3,1411.6 731.6,1419.0 740.8,1426.4 750.1,1433.8 759.4,1441.2 768.7,1448.5 778.0,1455.7 787.6,1462.5 797.3,1468.9 807.3,1474.7 817.7,1479.7 828.5,1483.7 839.8,1486.6 851.8,1488.2"/><path d="M450.6,1331.1 460.5,1333.8 470.5,1336.6 480.4,1339.4 490.2,1342.3 500.1,1345.2 510.0,1348.3 519.8,1351.4 529.6,1354.7 539.3,1358.0 549.1,1361.4 558.8,1364.9 568.4,1368.5 578.0,1372.2 587.6,1376.0 597.1,1380.0 606.6,1384.0 616.1,1388.1 625.4,1392.4 634.8,1396.8 644.0,1401.3 653.3,1405.9 662.4,1410.5 671.6,1415.3 680.7,1420.1 689.8,1425.0 698.8,1429.9 707.9,1434.8 716.9,1439.8 725.9,1444.7 735.0,1449.6 744.0,1454.5 753.1,1459.3 762.2,1464.0 771.4,1468.5 780.6,1472.9 789.9,1477.2 799.3,1481.1 808.8,1484.8 818.4,1488.3"/><path d="M450.6,1384.2 459.5,1386.7 468.4,1389.1 477.3,1391.5 486.2,1393.8 495.2,1396.0 504.1,1398.2 513.1,1400.3 522.1,1402.5 531.1,1404.6 540.1,1406.7 549.0,1408.8 558.0,1411.0 567.0,1413.2 575.9,1415.4 584.9,1417.7 593.8,1420.1 602.6,1422.6 611.5,1425.2 620.2,1428.0 629.0,1430.9 637.6,1434.0 646.2,1437.3 654.8,1440.8 663.3,1444.3 671.8,1448.0 680.3,1451.7 688.8,1455.3 697.2,1459.0 705.7,1462.6 714.2,1466.2 722.7,1469.6 731.3,1472.8 739.9,1475.9 748.6,1478.7 757.3,1481.3 766.2,1483.5 775.1,1485.5 784.1,1487.1 793.2,1488.3"/><path d="M450.6,1436.6 457.3,1436.0 464.0,1435.6 470.7,1435.4 477.4,1435.3 484.1,1435.4 490.8,1435.6 497.4,1436.0 504.0,1436.5 510.7,1437.1 517.3,1437.8 523.9,1438.7 530.5,1439.7 537.1,1440.7 543.6,1441.9 550.2,1443.2 556.7,1444.6 563.2,1446.0 569.7,1447.6 576.2,1449.2 582.7,1450.9 589.2,1452.6 595.7,1454.4 602.1,1456.3 608.6,1458.2 615.0,1460.2 621.4,1462.2 627.8,1464.2 634.2,1466.3 640.6,1468.4 647.0,1470.5 653.3,1472.7 659.7,1474.8 666.0,1477.0 672.4,1479.1 678.7,1481.2 685.0,1483.4 691.3,1485.5 697.6,1487.6 703.8,1489.7"/></g></g>
<g fill="none" stroke="#29caf3" stroke-width="6.9" stroke-linecap="round" stroke-linejoin="round"><path d="M490.3,1166.7 492.1,1175.5 493.9,1184.4 495.6,1193.4 497.3,1202.5 499.0,1211.7 500.7,1221.0 502.3,1230.3 504.0,1239.7 505.8,1249.0 507.6,1258.5 509.4,1267.9 511.3,1277.3 513.3,1286.8 515.4,1296.2 517.6,1305.5 519.9,1314.8 522.4,1324.1 524.9,1333.3 527.7,1342.4 530.6,1351.4 533.7,1360.3 537.0,1369.1 540.4,1377.8 544.1,1386.3 548.1,1394.7 552.2,1403.0 556.7,1411.0 561.4,1418.9 566.3,1426.5 571.6,1434.0 577.1,1441.2 583.0,1448.3 589.2,1455.0 595.7,1461.5 602.6,1467.8 609.9,1473.8 617.5,1479.4 625.5,1484.8 634.0,1489.9"/><path d="M534.0,1183.0 536.4,1192.3 538.9,1201.5 541.5,1210.8 544.2,1220.0 547.1,1229.3 550.1,1238.5 553.3,1247.8 556.6,1257.0 560.0,1266.1 563.6,1275.3 567.3,1284.4 571.1,1293.4 575.2,1302.3 579.3,1311.2 583.6,1320.1 588.1,1328.8 592.8,1337.4 597.6,1346.0 602.5,1354.4 607.6,1362.7 612.9,1370.9 618.4,1378.9 624.0,1386.8 629.9,1394.6 635.9,1402.2 642.0,1409.6 648.4,1416.9 654.9,1424.0 661.7,1430.9 668.6,1437.7 675.7,1444.2 683.0,1450.5 690.5,1456.6 698.2,1462.4 706.1,1468.1 714.2,1473.5 722.5,1478.6 731.0,1483.5 739.7,1488.2"/><path d="M588.0,1216.4 590.5,1225.1 593.2,1233.7 596.1,1242.2 599.2,1250.6 602.5,1258.9 605.9,1267.1 609.6,1275.2 613.4,1283.3 617.4,1291.2 621.5,1299.1 625.8,1306.9 630.3,1314.6 634.9,1322.2 639.6,1329.7 644.5,1337.1 649.6,1344.5 654.8,1351.7 660.1,1358.9 665.5,1365.9 671.1,1372.9 676.7,1379.8 682.5,1386.6 688.4,1393.4 694.4,1400.0 700.5,1406.5 706.7,1413.0 713.0,1419.4 719.4,1425.6 725.9,1431.8 732.5,1437.9 739.1,1443.9 745.8,1449.9 752.6,1455.7 759.4,1461.5 766.3,1467.1 773.2,1472.7 780.2,1478.2 787.3,1483.6 794.4,1488.9"/><path d="M644.9,1260.9 647.6,1268.0 650.4,1275.0 653.3,1281.9 656.4,1288.7 659.6,1295.5 662.9,1302.1 666.4,1308.7 670.0,1315.2 673.7,1321.7 677.6,1328.0 681.5,1334.3 685.6,1340.5 689.7,1346.7 694.0,1352.8 698.4,1358.8 702.8,1364.7 707.4,1370.6 712.0,1376.5 716.7,1382.2 721.5,1388.0 726.3,1393.6 731.2,1399.3 736.2,1404.8 741.2,1410.4 746.3,1415.9 751.5,1421.3 756.6,1426.7 761.9,1432.0 767.1,1437.4 772.4,1442.6 777.8,1447.9 783.1,1453.1 788.5,1458.3 793.9,1463.4 799.3,1468.6 804.7,1473.7 810.1,1478.7 815.6,1483.8 821.0,1488.8"/><path d="M697.6,1311.0 700.2,1316.3 702.8,1321.7 705.5,1327.0 708.3,1332.3 711.1,1337.6 714.0,1342.8 717.0,1348.1 720.0,1353.2 723.1,1358.4 726.3,1363.5 729.5,1368.6 732.8,1373.6 736.1,1378.6 739.5,1383.6 743.0,1388.5 746.5,1393.4 750.1,1398.2 753.7,1403.0 757.5,1407.7 761.2,1412.4 765.1,1417.0 769.0,1421.6 772.9,1426.1 776.9,1430.6 781.0,1435.0 785.1,1439.3 789.3,1443.6 793.6,1447.8 797.9,1452.0 802.3,1456.1 806.7,1460.1 811.2,1464.1 815.8,1468.0 820.4,1471.8 825.0,1475.5 829.8,1479.2 834.6,1482.8 839.4,1486.3 844.3,1489.7"/></g>
</g>
<text x="461.9" y="1164.7" font-size="15.36" font-family='"Liberation Sans", sans-serif' fill="#000" font-weight="bold" textLength="26.7" lengthAdjust="spacingAndGlyphs" stroke="#000" stroke-width="1.8" stroke-linejoin="round">(25)</text>
<text x="494.2" y="1164.9" font-size="15.87" font-family='"Liberation Sans", sans-serif' fill="#000" font-weight="bold" font-style="italic" textLength="25.1" lengthAdjust="spacingAndGlyphs" stroke="#000" stroke-width="1.4400000000000002" stroke-linejoin="round">[43]</text>
<text x="521.5" y="1177.9" font-size="15.36" font-family='"Liberation Sans", sans-serif' fill="#000" font-weight="bold" textLength="25.6" lengthAdjust="spacingAndGlyphs" stroke="#000" stroke-width="1.8" stroke-linejoin="round">(50)</text>
<text x="552.8" y="1178.1" font-size="15.87" font-family='"Liberation Sans", sans-serif' fill="#000" font-weight="bold" font-style="italic" textLength="24.2" lengthAdjust="spacingAndGlyphs" stroke="#000" stroke-width="1.4400000000000002" stroke-linejoin="round">[85]</text>
<text x="572.2" y="1209.9" font-size="15.36" font-family='"Liberation Sans", sans-serif' fill="#000" font-weight="bold" textLength="25.6" lengthAdjust="spacingAndGlyphs" stroke="#000" stroke-width="1.8" stroke-linejoin="round">(75)</text>
<text x="603.5" y="1210.1" font-size="15.87" font-family='"Liberation Sans", sans-serif' fill="#000" font-weight="bold" font-style="italic" textLength="30.5" lengthAdjust="spacingAndGlyphs" stroke="#000" stroke-width="1.4400000000000002" stroke-linejoin="round">[128]</text>
<text x="633.1" y="1248.1" font-size="15.36" font-family='"Liberation Sans", sans-serif' fill="#000" font-weight="bold" textLength="33.4" lengthAdjust="spacingAndGlyphs" stroke="#000" stroke-width="1.8" stroke-linejoin="round">(100)</text>
<text x="672.7" y="1248.3" font-size="15.87" font-family='"Liberation Sans", sans-serif' fill="#000" font-weight="bold" font-style="italic" textLength="31.1" lengthAdjust="spacingAndGlyphs" stroke="#000" stroke-width="1.4400000000000002" stroke-linejoin="round">[170]</text>
<text x="685.0" y="1300.4" font-size="15.36" font-family='"Liberation Sans", sans-serif' fill="#000" font-weight="bold" textLength="35.0" lengthAdjust="spacingAndGlyphs" stroke="#000" stroke-width="1.8" stroke-linejoin="round">(125)</text>
<text x="724.1" y="1300.6" font-size="15.87" font-family='"Liberation Sans", sans-serif' fill="#000" font-weight="bold" font-style="italic" textLength="32.1" lengthAdjust="spacingAndGlyphs" stroke="#000" stroke-width="1.4400000000000002" stroke-linejoin="round">[213]</text>
<text x="747.6" y="1195.8" font-size="17.5" font-family='"Liberation Sans", "Noto Sans CJK SC", sans-serif' fill="#000" font-weight="500" textLength="89.7" lengthAdjust="spacingAndGlyphs">空气消耗量</text>
<text x="736.4" y="1216.2" font-size="15.5" font-family='"Liberation Sans", sans-serif' fill="#000" font-weight="bold" textLength="49.1" lengthAdjust="spacingAndGlyphs" stroke="#000" stroke-width="1.1" stroke-linejoin="round">(SCFM)</text>
<text x="789.9" y="1216.2" font-size="15.6" font-family='"Liberation Sans", sans-serif' font-weight="bold" font-style="italic" stroke="#000" stroke-width="0.9" stroke-linejoin="round" textLength="52.5" lengthAdjust="spacingAndGlyphs">[Nm<tspan font-size="9.5" dy="-6">3</tspan><tspan dy="6">/h]</tspan></text>
<path d="M348.7,1147.3V1488.7M338.1,1487.4H348.7M338.1,1449.6H348.7M338.1,1411.8H348.7M338.1,1374.0H348.7M338.1,1336.2H348.7M338.1,1298.4H348.7M338.1,1260.6H348.7M338.1,1222.8H348.7M338.1,1185.0H348.7M401.7,1147.2V1488.6M391.1,1487.3H401.7M391.1,1459.0H401.7M391.1,1430.8H401.7M391.1,1402.6H401.7M391.1,1374.3H401.7M391.1,1346.1H401.7M391.1,1317.9H401.7M391.1,1289.7H401.7M391.1,1261.4H401.7M391.1,1233.2H401.7M391.1,1205.0H401.7M391.1,1176.7H401.7M391.1,1148.5H401.7" stroke="#000" stroke-width="2.8" fill="none"/>
<text x="324.9" y="1492.3" font-size="17.32" font-family='"Liberation Sans", sans-serif' fill="#000" font-weight="bold" textLength="7.9" lengthAdjust="spacingAndGlyphs" stroke="#000" stroke-width="1.8" stroke-linejoin="round">0</text>
<text x="324.9" y="1454.5" font-size="17.32" font-family='"Liberation Sans", sans-serif' fill="#000" font-weight="bold" textLength="7.9" lengthAdjust="spacingAndGlyphs" stroke="#000" stroke-width="1.8" stroke-linejoin="round">1</text>
<text x="324.9" y="1416.7" font-size="17.32" font-family='"Liberation Sans", sans-serif' fill="#000" font-weight="bold" textLength="7.9" lengthAdjust="spacingAndGlyphs" stroke="#000" stroke-width="1.8" stroke-linejoin="round">2</text>
<text x="324.9" y="1378.9" font-size="17.32" font-family='"Liberation Sans", sans-serif' fill="#000" font-weight="bold" textLength="7.9" lengthAdjust="spacingAndGlyphs" stroke="#000" stroke-width="1.8" stroke-linejoin="round">3</text>
<text x="324.9" y="1341.1" font-size="17.32" font-family='"Liberation Sans", sans-serif' fill="#000" font-weight="bold" textLength="7.9" lengthAdjust="spacingAndGlyphs" stroke="#000" stroke-width="1.8" stroke-linejoin="round">4</text>
<text x="324.9" y="1303.3" font-size="17.32" font-family='"Liberation Sans", sans-serif' fill="#000" font-weight="bold" textLength="7.9" lengthAdjust="spacingAndGlyphs" stroke="#000" stroke-width="1.8" stroke-linejoin="round">5</text>
<text x="324.9" y="1265.5" font-size="17.32" font-family='"Liberation Sans", sans-serif' fill="#000" font-weight="bold" textLength="7.9" lengthAdjust="spacingAndGlyphs" stroke="#000" stroke-width="1.8" stroke-linejoin="round">6</text>
<text x="324.9" y="1227.7" font-size="17.32" font-family='"Liberation Sans", sans-serif' fill="#000" font-weight="bold" textLength="7.9" lengthAdjust="spacingAndGlyphs" stroke="#000" stroke-width="1.8" stroke-linejoin="round">7</text>
<text x="324.9" y="1189.9" font-size="17.32" font-family='"Liberation Sans", sans-serif' fill="#000" font-weight="bold" textLength="7.9" lengthAdjust="spacingAndGlyphs" stroke="#000" stroke-width="1.8" stroke-linejoin="round">8</text>
<text x="377.5" y="1491.8" font-size="17.32" font-family='"Liberation Sans", sans-serif' fill="#000" font-weight="bold" textLength="7.3" lengthAdjust="spacingAndGlyphs" stroke="#000" stroke-width="1.8" stroke-linejoin="round">0</text>
<text x="368.4" y="1435.3" font-size="17.32" font-family='"Liberation Sans", sans-serif' fill="#000" font-weight="bold" textLength="16.4" lengthAdjust="spacingAndGlyphs" stroke="#000" stroke-width="1.8" stroke-linejoin="round">50</text>
<text x="359.3" y="1378.8" font-size="17.32" font-family='"Liberation Sans", sans-serif' fill="#000" font-weight="bold" textLength="25.5" lengthAdjust="spacingAndGlyphs" stroke="#000" stroke-width="1.8" stroke-linejoin="round">100</text>
<text x="359.3" y="1322.4" font-size="17.32" font-family='"Liberation Sans", sans-serif' fill="#000" font-weight="bold" textLength="25.5" lengthAdjust="spacingAndGlyphs" stroke="#000" stroke-width="1.8" stroke-linejoin="round">150</text>
<text x="359.3" y="1265.9" font-size="17.32" font-family='"Liberation Sans", sans-serif' fill="#000" font-weight="bold" textLength="25.5" lengthAdjust="spacingAndGlyphs" stroke="#000" stroke-width="1.8" stroke-linejoin="round">200</text>
<text x="359.3" y="1209.5" font-size="17.32" font-family='"Liberation Sans", sans-serif' fill="#000" font-weight="bold" textLength="25.5" lengthAdjust="spacingAndGlyphs" stroke="#000" stroke-width="1.8" stroke-linejoin="round">250</text>
<text x="359.3" y="1155.1" font-size="17.32" font-family='"Liberation Sans", sans-serif' fill="#000" font-weight="bold" textLength="25.5" lengthAdjust="spacingAndGlyphs" stroke="#000" stroke-width="1.8" stroke-linejoin="round">300</text>
<text x="432.7" y="1490.4" font-size="17.32" font-family='"Liberation Sans", sans-serif' fill="#000" font-weight="bold" textLength="7.3" lengthAdjust="spacingAndGlyphs" stroke="#000" stroke-width="1.8" stroke-linejoin="round">0</text>
<text x="423.6" y="1440.0" font-size="17.32" font-family='"Liberation Sans", sans-serif' fill="#000" font-weight="bold" textLength="16.4" lengthAdjust="spacingAndGlyphs" stroke="#000" stroke-width="1.8" stroke-linejoin="round">20</text>
<text x="423.6" y="1387.9" font-size="17.32" font-family='"Liberation Sans", sans-serif' fill="#000" font-weight="bold" textLength="16.4" lengthAdjust="spacingAndGlyphs" stroke="#000" stroke-width="1.8" stroke-linejoin="round">40</text>
<text x="423.6" y="1335.7" font-size="17.32" font-family='"Liberation Sans", sans-serif' fill="#000" font-weight="bold" textLength="16.4" lengthAdjust="spacingAndGlyphs" stroke="#000" stroke-width="1.8" stroke-linejoin="round">60</text>
<text x="423.6" y="1283.5" font-size="17.32" font-family='"Liberation Sans", sans-serif' fill="#000" font-weight="bold" textLength="16.4" lengthAdjust="spacingAndGlyphs" stroke="#000" stroke-width="1.8" stroke-linejoin="round">80</text>
<text x="414.5" y="1231.4" font-size="17.32" font-family='"Liberation Sans", sans-serif' fill="#000" font-weight="bold" textLength="25.5" lengthAdjust="spacingAndGlyphs" stroke="#000" stroke-width="1.8" stroke-linejoin="round">100</text>
<text x="414.5" y="1179.2" font-size="17.32" font-family='"Liberation Sans", sans-serif' fill="#000" font-weight="bold" textLength="25.5" lengthAdjust="spacingAndGlyphs" stroke="#000" stroke-width="1.8" stroke-linejoin="round">120</text>
<text x="317.6" y="1133.2" font-size="14.81" font-family='"Liberation Sans", sans-serif' fill="#000" font-weight="bold" textLength="26.7" lengthAdjust="spacingAndGlyphs" stroke="#000" stroke-width="1.5" stroke-linejoin="round">BAR</text>
<text x="361.6" y="1133.2" font-size="14.81" font-family='"Liberation Sans", sans-serif' fill="#000" font-weight="bold" textLength="29.1" lengthAdjust="spacingAndGlyphs" stroke="#000" stroke-width="1.5" stroke-linejoin="round">FEET</text>
<text x="410.6" y="1133.2" font-size="14.81" font-family='"Liberation Sans", sans-serif' fill="#000" font-weight="bold" textLength="29.5" lengthAdjust="spacingAndGlyphs" stroke="#000" stroke-width="1.5" stroke-linejoin="round">PSIG</text>
<text x="496.3" y="1511.7" font-size="15.92" font-family='"Liberation Sans", sans-serif' fill="#000" font-weight="bold" textLength="13.9" lengthAdjust="spacingAndGlyphs" stroke="#000" stroke-width="1.6" stroke-linejoin="round">20</text>
<text x="491.5" y="1530.9" font-size="15.64" font-family='"Liberation Sans", sans-serif' fill="#000" font-weight="bold" textLength="23.4" lengthAdjust="spacingAndGlyphs" stroke="#000" stroke-width="1.2" stroke-linejoin="round">[76]</text>
<text x="600.5" y="1511.7" font-size="15.92" font-family='"Liberation Sans", sans-serif' fill="#000" font-weight="bold" textLength="13.9" lengthAdjust="spacingAndGlyphs" stroke="#000" stroke-width="1.6" stroke-linejoin="round">60</text>
<text x="592.1" y="1530.9" font-size="15.64" font-family='"Liberation Sans", sans-serif' fill="#000" font-weight="bold" textLength="30.7" lengthAdjust="spacingAndGlyphs" stroke="#000" stroke-width="1.2" stroke-linejoin="round">[227]</text>
<text x="697.9" y="1511.7" font-size="15.92" font-family='"Liberation Sans", sans-serif' fill="#000" font-weight="bold" textLength="21.4" lengthAdjust="spacingAndGlyphs" stroke="#000" stroke-width="1.6" stroke-linejoin="round">100</text>
<text x="693.2" y="1530.9" font-size="15.64" font-family='"Liberation Sans", sans-serif' fill="#000" font-weight="bold" textLength="30.7" lengthAdjust="spacingAndGlyphs" stroke="#000" stroke-width="1.2" stroke-linejoin="round">[379]</text>
<text x="802.1" y="1511.7" font-size="15.92" font-family='"Liberation Sans", sans-serif' fill="#000" font-weight="bold" textLength="21.4" lengthAdjust="spacingAndGlyphs" stroke="#000" stroke-width="1.6" stroke-linejoin="round">140</text>
<text x="797.4" y="1530.9" font-size="15.64" font-family='"Liberation Sans", sans-serif' fill="#000" font-weight="bold" textLength="30.7" lengthAdjust="spacingAndGlyphs" stroke="#000" stroke-width="1.2" stroke-linejoin="round">[530]</text>
<text x="908.3" y="1511.7" font-size="15.92" font-family='"Liberation Sans", sans-serif' fill="#000" font-weight="bold" textLength="21.4" lengthAdjust="spacingAndGlyphs" stroke="#000" stroke-width="1.6" stroke-linejoin="round">180</text>
<text x="903.6" y="1530.9" font-size="15.64" font-family='"Liberation Sans", sans-serif' fill="#000" font-weight="bold" textLength="30.7" lengthAdjust="spacingAndGlyphs" stroke="#000" stroke-width="1.2" stroke-linejoin="round">[681]</text>
<text x="370.7" y="1515.3" font-size="17" font-family='"Liberation Sans", "Noto Sans CJK SC", sans-serif' fill="#000" font-weight="500" textLength="34.0" lengthAdjust="spacingAndGlyphs">流量</text>
<text x="362.2" y="1536.3" font-size="17" font-family='"Liberation Sans", "Noto Sans CJK SC", sans-serif' fill="#000" font-weight="500" textLength="51.0" lengthAdjust="spacingAndGlyphs">（水）</text>
<text x="427.0" y="1513.2" font-size="15.64" font-family='"Liberation Sans", sans-serif' fill="#000" font-weight="bold" textLength="31.8" lengthAdjust="spacingAndGlyphs" stroke="#000" stroke-width="1.8" stroke-linejoin="round">GPM</text>
<text x="423.9" y="1533.1" font-size="15.5" font-family='"Liberation Sans", sans-serif' fill="#000" font-weight="bold" textLength="39.5" lengthAdjust="spacingAndGlyphs" stroke="#000" stroke-width="1.5" stroke-linejoin="round">[LPM]</text>
</g>
<g id="chart6">
<text x="1197.6" y="1129.0" font-size="32.5" font-family='"Liberation Sans", "Noto Sans CJK SC", sans-serif' fill="#6b9ca8" font-weight="300" textLength="135.6" lengthAdjust="spacingAndGlyphs">PTFE隔膜</text>
<path d="M1087.50,1147.00V1487.73M1139.50,1147.00V1487.73M1191.50,1147.00V1487.73M1243.50,1147.00V1487.73M1295.50,1147.00V1487.73M1347.50,1147.00V1487.73M1399.50,1147.00V1173.50M1399.50,1225.50V1487.73M1451.50,1147.00V1173.50M1451.50,1225.50V1487.73M1503.50,1147.00V1487.73M1555.50,1147.00V1487.73M1087.50,1146.50H1555.14M1087.50,1173.50H1555.14M1087.50,1199.50H1347.50M1503.50,1199.50H1555.14M1087.50,1225.50H1555.14M1087.50,1251.50H1555.14M1087.50,1278.50H1555.14M1087.50,1304.50H1555.14M1087.50,1330.50H1555.14M1087.50,1356.50H1555.14M1087.50,1382.50H1555.14M1087.50,1409.50H1555.14M1087.50,1435.50H1555.14M1087.50,1461.50H1555.14M1087.50,1487.50H1555.14" stroke="#2a2a2a" stroke-width="1" fill="none" shape-rendering="crispEdges"/>
<clipPath id="cp6"><rect x="1079.5" y="1145.0" width="477.6" height="343.3"/></clipPath>
<g clip-path="url(#cp6)">
<g fill="none" stroke="#ff580e" stroke-linecap="butt" stroke-linejoin="round"><g stroke-width="7.6" stroke-opacity="0.13"><path d="M1087.5,1173.3 1100.0,1173.5 1112.0,1175.4 1123.6,1178.9 1134.6,1183.6 1145.3,1189.5 1155.5,1196.3 1165.4,1203.8 1174.9,1211.9 1184.1,1220.3 1193.0,1228.9 1201.7,1237.8 1210.1,1246.9 1218.4,1256.1 1226.5,1265.4 1234.5,1274.9 1242.4,1284.4 1250.2,1294.0 1258.0,1303.5 1265.8,1313.0 1273.5,1322.5 1281.3,1332.0 1288.9,1341.5 1296.6,1351.1 1304.1,1360.8 1311.4,1370.6 1318.7,1380.6 1325.9,1390.6 1333.2,1400.6 1340.5,1410.5 1348.0,1420.3 1355.8,1429.8 1363.8,1439.1 1372.3,1448.0 1381.1,1456.3 1390.4,1464.1 1400.4,1471.2 1410.9,1477.5 1422.1,1483.0 1434.1,1487.4"/><path d="M1087.5,1224.8 1098.8,1225.7 1109.8,1227.9 1120.4,1231.2 1130.7,1235.4 1140.7,1240.4 1150.5,1245.9 1160.0,1251.9 1169.4,1258.3 1178.7,1265.0 1187.8,1271.9 1196.7,1278.9 1205.5,1286.0 1214.2,1293.4 1222.8,1300.9 1231.2,1308.5 1239.5,1316.3 1247.6,1324.2 1255.6,1332.3 1263.5,1340.6 1271.3,1348.9 1278.9,1357.4 1286.5,1365.8 1294.1,1374.4 1301.6,1382.9 1309.2,1391.4 1316.8,1399.8 1324.5,1408.1 1332.3,1416.2 1340.2,1424.2 1348.3,1432.0 1356.5,1439.6 1365.0,1446.8 1373.7,1453.8 1382.7,1460.5 1391.9,1466.7 1401.5,1472.6 1411.4,1478.1 1421.7,1483.1 1432.4,1487.6"/><path d="M1087.4,1277.1 1097.6,1278.9 1107.6,1281.2 1117.4,1283.9 1126.9,1287.0 1136.3,1290.5 1145.4,1294.4 1154.3,1298.6 1163.1,1303.1 1171.8,1307.9 1180.2,1312.9 1188.6,1318.3 1196.8,1323.8 1204.9,1329.6 1212.9,1335.6 1220.8,1341.7 1228.6,1348.0 1236.3,1354.4 1244.0,1361.0 1251.7,1367.6 1259.3,1374.3 1266.8,1381.1 1274.4,1387.8 1282.0,1394.6 1289.5,1401.4 1297.1,1408.1 1304.8,1414.8 1312.4,1421.4 1320.2,1427.9 1328.0,1434.3 1335.8,1440.6 1343.8,1446.7 1351.8,1452.6 1360.0,1458.3 1368.3,1463.8 1376.7,1469.1 1385.3,1474.1 1394.0,1478.8 1402.9,1483.3 1412.0,1487.4"/><path d="M1087.4,1330.5 1095.9,1332.7 1104.2,1335.2 1112.4,1337.9 1120.6,1340.8 1128.6,1343.8 1136.5,1347.1 1144.4,1350.5 1152.1,1354.1 1159.8,1357.8 1167.5,1361.7 1175.0,1365.6 1182.5,1369.7 1190.0,1373.9 1197.4,1378.2 1204.7,1382.6 1212.0,1387.1 1219.3,1391.6 1226.5,1396.2 1233.8,1400.8 1241.0,1405.5 1248.2,1410.2 1255.4,1414.9 1262.5,1419.6 1269.7,1424.3 1276.9,1429.0 1284.1,1433.7 1291.4,1438.3 1298.6,1442.9 1305.9,1447.4 1313.2,1451.9 1320.6,1456.3 1328.0,1460.6 1335.5,1464.8 1343.0,1468.9 1350.5,1472.8 1358.2,1476.7 1365.9,1480.4 1373.7,1484.0 1381.5,1487.4"/><path d="M1087.5,1382.8 1094.5,1385.1 1101.5,1387.4 1108.4,1389.8 1115.4,1392.2 1122.3,1394.7 1129.2,1397.2 1136.1,1399.8 1143.0,1402.4 1149.9,1405.0 1156.7,1407.7 1163.5,1410.5 1170.3,1413.3 1177.1,1416.2 1183.9,1419.1 1190.6,1422.1 1197.3,1425.1 1204.0,1428.2 1210.7,1431.3 1217.3,1434.5 1223.9,1437.8 1230.5,1441.2 1237.1,1444.5 1243.6,1447.9 1250.2,1451.3 1256.7,1454.6 1263.3,1457.8 1269.9,1460.8 1276.6,1463.7 1283.3,1466.5 1290.1,1469.0 1296.9,1471.4 1303.7,1473.6 1310.6,1475.6 1317.6,1477.5 1324.6,1479.4 1331.6,1481.3 1338.7,1483.2 1345.7,1485.2 1352.7,1487.4"/><path d="M1087.5,1435.9 1092.7,1437.0 1097.9,1438.2 1103.2,1439.4 1108.4,1440.6 1113.6,1441.8 1118.8,1443.0 1124.0,1444.3 1129.2,1445.6 1134.3,1446.9 1139.5,1448.2 1144.7,1449.6 1149.9,1450.9 1155.1,1452.3 1160.2,1453.7 1165.4,1455.0 1170.5,1456.4 1175.7,1457.9 1180.9,1459.3 1186.0,1460.7 1191.2,1462.1 1196.3,1463.5 1201.5,1465.0 1206.6,1466.4 1211.8,1467.9 1216.9,1469.3 1222.1,1470.7 1227.2,1472.2 1232.4,1473.6 1237.5,1475.0 1242.7,1476.5 1247.8,1477.9 1253.0,1479.3 1258.2,1480.7 1263.3,1482.1 1268.5,1483.5 1273.6,1484.9 1278.8,1486.2 1284.0,1487.6 1289.2,1488.9"/></g><g stroke-width="6.4" stroke-opacity="0.3"><path d="M1087.5,1173.3 1100.0,1173.5 1112.0,1175.4 1123.6,1178.9 1134.6,1183.6 1145.3,1189.5 1155.5,1196.3 1165.4,1203.8 1174.9,1211.9 1184.1,1220.3 1193.0,1228.9 1201.7,1237.8 1210.1,1246.9 1218.4,1256.1 1226.5,1265.4 1234.5,1274.9 1242.4,1284.4 1250.2,1294.0 1258.0,1303.5 1265.8,1313.0 1273.5,1322.5 1281.3,1332.0 1288.9,1341.5 1296.6,1351.1 1304.1,1360.8 1311.4,1370.6 1318.7,1380.6 1325.9,1390.6 1333.2,1400.6 1340.5,1410.5 1348.0,1420.3 1355.8,1429.8 1363.8,1439.1 1372.3,1448.0 1381.1,1456.3 1390.4,1464.1 1400.4,1471.2 1410.9,1477.5 1422.1,1483.0 1434.1,1487.4"/><path d="M1087.5,1224.8 1098.8,1225.7 1109.8,1227.9 1120.4,1231.2 1130.7,1235.4 1140.7,1240.4 1150.5,1245.9 1160.0,1251.9 1169.4,1258.3 1178.7,1265.0 1187.8,1271.9 1196.7,1278.9 1205.5,1286.0 1214.2,1293.4 1222.8,1300.9 1231.2,1308.5 1239.5,1316.3 1247.6,1324.2 1255.6,1332.3 1263.5,1340.6 1271.3,1348.9 1278.9,1357.4 1286.5,1365.8 1294.1,1374.4 1301.6,1382.9 1309.2,1391.4 1316.8,1399.8 1324.5,1408.1 1332.3,1416.2 1340.2,1424.2 1348.3,1432.0 1356.5,1439.6 1365.0,1446.8 1373.7,1453.8 1382.7,1460.5 1391.9,1466.7 1401.5,1472.6 1411.4,1478.1 1421.7,1483.1 1432.4,1487.6"/><path d="M1087.4,1277.1 1097.6,1278.9 1107.6,1281.2 1117.4,1283.9 1126.9,1287.0 1136.3,1290.5 1145.4,1294.4 1154.3,1298.6 1163.1,1303.1 1171.8,1307.9 1180.2,1312.9 1188.6,1318.3 1196.8,1323.8 1204.9,1329.6 1212.9,1335.6 1220.8,1341.7 1228.6,1348.0 1236.3,1354.4 1244.0,1361.0 1251.7,1367.6 1259.3,1374.3 1266.8,1381.1 1274.4,1387.8 1282.0,1394.6 1289.5,1401.4 1297.1,1408.1 1304.8,1414.8 1312.4,1421.4 1320.2,1427.9 1328.0,1434.3 1335.8,1440.6 1343.8,1446.7 1351.8,1452.6 1360.0,1458.3 1368.3,1463.8 1376.7,1469.1 1385.3,1474.1 1394.0,1478.8 1402.9,1483.3 1412.0,1487.4"/><path d="M1087.4,1330.5 1095.9,1332.7 1104.2,1335.2 1112.4,1337.9 1120.6,1340.8 1128.6,1343.8 1136.5,1347.1 1144.4,1350.5 1152.1,1354.1 1159.8,1357.8 1167.5,1361.7 1175.0,1365.6 1182.5,1369.7 1190.0,1373.9 1197.4,1378.2 1204.7,1382.6 1212.0,1387.1 1219.3,1391.6 1226.5,1396.2 1233.8,1400.8 1241.0,1405.5 1248.2,1410.2 1255.4,1414.9 1262.5,1419.6 1269.7,1424.3 1276.9,1429.0 1284.1,1433.7 1291.4,1438.3 1298.6,1442.9 1305.9,1447.4 1313.2,1451.9 1320.6,1456.3 1328.0,1460.6 1335.5,1464.8 1343.0,1468.9 1350.5,1472.8 1358.2,1476.7 1365.9,1480.4 1373.7,1484.0 1381.5,1487.4"/><path d="M1087.5,1382.8 1094.5,1385.1 1101.5,1387.4 1108.4,1389.8 1115.4,1392.2 1122.3,1394.7 1129.2,1397.2 1136.1,1399.8 1143.0,1402.4 1149.9,1405.0 1156.7,1407.7 1163.5,1410.5 1170.3,1413.3 1177.1,1416.2 1183.9,1419.1 1190.6,1422.1 1197.3,1425.1 1204.0,1428.2 1210.7,1431.3 1217.3,1434.5 1223.9,1437.8 1230.5,1441.2 1237.1,1444.5 1243.6,1447.9 1250.2,1451.3 1256.7,1454.6 1263.3,1457.8 1269.9,1460.8 1276.6,1463.7 1283.3,1466.5 1290.1,1469.0 1296.9,1471.4 1303.7,1473.6 1310.6,1475.6 1317.6,1477.5 1324.6,1479.4 1331.6,1481.3 1338.7,1483.2 1345.7,1485.2 1352.7,1487.4"/><path d="M1087.5,1435.9 1092.7,1437.0 1097.9,1438.2 1103.2,1439.4 1108.4,1440.6 1113.6,1441.8 1118.8,1443.0 1124.0,1444.3 1129.2,1445.6 1134.3,1446.9 1139.5,1448.2 1144.7,1449.6 1149.9,1450.9 1155.1,1452.3 1160.2,1453.7 1165.4,1455.0 1170.5,1456.4 1175.7,1457.9 1180.9,1459.3 1186.0,1460.7 1191.2,1462.1 1196.3,1463.5 1201.5,1465.0 1206.6,1466.4 1211.8,1467.9 1216.9,1469.3 1222.1,1470.7 1227.2,1472.2 1232.4,1473.6 1237.5,1475.0 1242.7,1476.5 1247.8,1477.9 1253.0,1479.3 1258.2,1480.7 1263.3,1482.1 1268.5,1483.5 1273.6,1484.9 1278.8,1486.2 1284.0,1487.6 1289.2,1488.9"/></g><g stroke-width="5.2" stroke-opacity="0.6"><path d="M1087.5,1173.3 1100.0,1173.5 1112.0,1175.4 1123.6,1178.9 1134.6,1183.6 1145.3,1189.5 1155.5,1196.3 1165.4,1203.8 1174.9,1211.9 1184.1,1220.3 1193.0,1228.9 1201.7,1237.8 1210.1,1246.9 1218.4,1256.1 1226.5,1265.4 1234.5,1274.9 1242.4,1284.4 1250.2,1294.0 1258.0,1303.5 1265.8,1313.0 1273.5,1322.5 1281.3,1332.0 1288.9,1341.5 1296.6,1351.1 1304.1,1360.8 1311.4,1370.6 1318.7,1380.6 1325.9,1390.6 1333.2,1400.6 1340.5,1410.5 1348.0,1420.3 1355.8,1429.8 1363.8,1439.1 1372.3,1448.0 1381.1,1456.3 1390.4,1464.1 1400.4,1471.2 1410.9,1477.5 1422.1,1483.0 1434.1,1487.4"/><path d="M1087.5,1224.8 1098.8,1225.7 1109.8,1227.9 1120.4,1231.2 1130.7,1235.4 1140.7,1240.4 1150.5,1245.9 1160.0,1251.9 1169.4,1258.3 1178.7,1265.0 1187.8,1271.9 1196.7,1278.9 1205.5,1286.0 1214.2,1293.4 1222.8,1300.9 1231.2,1308.5 1239.5,1316.3 1247.6,1324.2 1255.6,1332.3 1263.5,1340.6 1271.3,1348.9 1278.9,1357.4 1286.5,1365.8 1294.1,1374.4 1301.6,1382.9 1309.2,1391.4 1316.8,1399.8 1324.5,1408.1 1332.3,1416.2 1340.2,1424.2 1348.3,1432.0 1356.5,1439.6 1365.0,1446.8 1373.7,1453.8 1382.7,1460.5 1391.9,1466.7 1401.5,1472.6 1411.4,1478.1 1421.7,1483.1 1432.4,1487.6"/><path d="M1087.4,1277.1 1097.6,1278.9 1107.6,1281.2 1117.4,1283.9 1126.9,1287.0 1136.3,1290.5 1145.4,1294.4 1154.3,1298.6 1163.1,1303.1 1171.8,1307.9 1180.2,1312.9 1188.6,1318.3 1196.8,1323.8 1204.9,1329.6 1212.9,1335.6 1220.8,1341.7 1228.6,1348.0 1236.3,1354.4 1244.0,1361.0 1251.7,1367.6 1259.3,1374.3 1266.8,1381.1 1274.4,1387.8 1282.0,1394.6 1289.5,1401.4 1297.1,1408.1 1304.8,1414.8 1312.4,1421.4 1320.2,1427.9 1328.0,1434.3 1335.8,1440.6 1343.8,1446.7 1351.8,1452.6 1360.0,1458.3 1368.3,1463.8 1376.7,1469.1 1385.3,1474.1 1394.0,1478.8 1402.9,1483.3 1412.0,1487.4"/><path d="M1087.4,1330.5 1095.9,1332.7 1104.2,1335.2 1112.4,1337.9 1120.6,1340.8 1128.6,1343.8 1136.5,1347.1 1144.4,1350.5 1152.1,1354.1 1159.8,1357.8 1167.5,1361.7 1175.0,1365.6 1182.5,1369.7 1190.0,1373.9 1197.4,1378.2 1204.7,1382.6 1212.0,1387.1 1219.3,1391.6 1226.5,1396.2 1233.8,1400.8 1241.0,1405.5 1248.2,1410.2 1255.4,1414.9 1262.5,1419.6 1269.7,1424.3 1276.9,1429.0 1284.1,1433.7 1291.4,1438.3 1298.6,1442.9 1305.9,1447.4 1313.2,1451.9 1320.6,1456.3 1328.0,1460.6 1335.5,1464.8 1343.0,1468.9 1350.5,1472.8 1358.2,1476.7 1365.9,1480.4 1373.7,1484.0 1381.5,1487.4"/><path d="M1087.5,1382.8 1094.5,1385.1 1101.5,1387.4 1108.4,1389.8 1115.4,1392.2 1122.3,1394.7 1129.2,1397.2 1136.1,1399.8 1143.0,1402.4 1149.9,1405.0 1156.7,1407.7 1163.5,1410.5 1170.3,1413.3 1177.1,1416.2 1183.9,1419.1 1190.6,1422.1 1197.3,1425.1 1204.0,1428.2 1210.7,1431.3 1217.3,1434.5 1223.9,1437.8 1230.5,1441.2 1237.1,1444.5 1243.6,1447.9 1250.2,1451.3 1256.7,1454.6 1263.3,1457.8 1269.9,1460.8 1276.6,1463.7 1283.3,1466.5 1290.1,1469.0 1296.9,1471.4 1303.7,1473.6 1310.6,1475.6 1317.6,1477.5 1324.6,1479.4 1331.6,1481.3 1338.7,1483.2 1345.7,1485.2 1352.7,1487.4"/><path d="M1087.5,1435.9 1092.7,1437.0 1097.9,1438.2 1103.2,1439.4 1108.4,1440.6 1113.6,1441.8 1118.8,1443.0 1124.0,1444.3 1129.2,1445.6 1134.3,1446.9 1139.5,1448.2 1144.7,1449.6 1149.9,1450.9 1155.1,1452.3 1160.2,1453.7 1165.4,1455.0 1170.5,1456.4 1175.7,1457.9 1180.9,1459.3 1186.0,1460.7 1191.2,1462.1 1196.3,1463.5 1201.5,1465.0 1206.6,1466.4 1211.8,1467.9 1216.9,1469.3 1222.1,1470.7 1227.2,1472.2 1232.4,1473.6 1237.5,1475.0 1242.7,1476.5 1247.8,1477.9 1253.0,1479.3 1258.2,1480.7 1263.3,1482.1 1268.5,1483.5 1273.6,1484.9 1278.8,1486.2 1284.0,1487.6 1289.2,1488.9"/></g><g stroke-width="4.0"><path d="M1087.5,1173.3 1100.0,1173.5 1112.0,1175.4 1123.6,1178.9 1134.6,1183.6 1145.3,1189.5 1155.5,1196.3 1165.4,1203.8 1174.9,1211.9 1184.1,1220.3 1193.0,1228.9 1201.7,1237.8 1210.1,1246.9 1218.4,1256.1 1226.5,1265.4 1234.5,1274.9 1242.4,1284.4 1250.2,1294.0 1258.0,1303.5 1265.8,1313.0 1273.5,1322.5 1281.3,1332.0 1288.9,1341.5 1296.6,1351.1 1304.1,1360.8 1311.4,1370.6 1318.7,1380.6 1325.9,1390.6 1333.2,1400.6 1340.5,1410.5 1348.0,1420.3 1355.8,1429.8 1363.8,1439.1 1372.3,1448.0 1381.1,1456.3 1390.4,1464.1 1400.4,1471.2 1410.9,1477.5 1422.1,1483.0 1434.1,1487.4"/><path d="M1087.5,1224.8 1098.8,1225.7 1109.8,1227.9 1120.4,1231.2 1130.7,1235.4 1140.7,1240.4 1150.5,1245.9 1160.0,1251.9 1169.4,1258.3 1178.7,1265.0 1187.8,1271.9 1196.7,1278.9 1205.5,1286.0 1214.2,1293.4 1222.8,1300.9 1231.2,1308.5 1239.5,1316.3 1247.6,1324.2 1255.6,1332.3 1263.5,1340.6 1271.3,1348.9 1278.9,1357.4 1286.5,1365.8 1294.1,1374.4 1301.6,1382.9 1309.2,1391.4 1316.8,1399.8 1324.5,1408.1 1332.3,1416.2 1340.2,1424.2 1348.3,1432.0 1356.5,1439.6 1365.0,1446.8 1373.7,1453.8 1382.7,1460.5 1391.9,1466.7 1401.5,1472.6 1411.4,1478.1 1421.7,1483.1 1432.4,1487.6"/><path d="M1087.4,1277.1 1097.6,1278.9 1107.6,1281.2 1117.4,1283.9 1126.9,1287.0 1136.3,1290.5 1145.4,1294.4 1154.3,1298.6 1163.1,1303.1 1171.8,1307.9 1180.2,1312.9 1188.6,1318.3 1196.8,1323.8 1204.9,1329.6 1212.9,1335.6 1220.8,1341.7 1228.6,1348.0 1236.3,1354.4 1244.0,1361.0 1251.7,1367.6 1259.3,1374.3 1266.8,1381.1 1274.4,1387.8 1282.0,1394.6 1289.5,1401.4 1297.1,1408.1 1304.8,1414.8 1312.4,1421.4 1320.2,1427.9 1328.0,1434.3 1335.8,1440.6 1343.8,1446.7 1351.8,1452.6 1360.0,1458.3 1368.3,1463.8 1376.7,1469.1 1385.3,1474.1 1394.0,1478.8 1402.9,1483.3 1412.0,1487.4"/><path d="M1087.4,1330.5 1095.9,1332.7 1104.2,1335.2 1112.4,1337.9 1120.6,1340.8 1128.6,1343.8 1136.5,1347.1 1144.4,1350.5 1152.1,1354.1 1159.8,1357.8 1167.5,1361.7 1175.0,1365.6 1182.5,1369.7 1190.0,1373.9 1197.4,1378.2 1204.7,1382.6 1212.0,1387.1 1219.3,1391.6 1226.5,1396.2 1233.8,1400.8 1241.0,1405.5 1248.2,1410.2 1255.4,1414.9 1262.5,1419.6 1269.7,1424.3 1276.9,1429.0 1284.1,1433.7 1291.4,1438.3 1298.6,1442.9 1305.9,1447.4 1313.2,1451.9 1320.6,1456.3 1328.0,1460.6 1335.5,1464.8 1343.0,1468.9 1350.5,1472.8 1358.2,1476.7 1365.9,1480.4 1373.7,1484.0 1381.5,1487.4"/><path d="M1087.5,1382.8 1094.5,1385.1 1101.5,1387.4 1108.4,1389.8 1115.4,1392.2 1122.3,1394.7 1129.2,1397.2 1136.1,1399.8 1143.0,1402.4 1149.9,1405.0 1156.7,1407.7 1163.5,1410.5 1170.3,1413.3 1177.1,1416.2 1183.9,1419.1 1190.6,1422.1 1197.3,1425.1 1204.0,1428.2 1210.7,1431.3 1217.3,1434.5 1223.9,1437.8 1230.5,1441.2 1237.1,1444.5 1243.6,1447.9 1250.2,1451.3 1256.7,1454.6 1263.3,1457.8 1269.9,1460.8 1276.6,1463.7 1283.3,1466.5 1290.1,1469.0 1296.9,1471.4 1303.7,1473.6 1310.6,1475.6 1317.6,1477.5 1324.6,1479.4 1331.6,1481.3 1338.7,1483.2 1345.7,1485.2 1352.7,1487.4"/><path d="M1087.5,1435.9 1092.7,1437.0 1097.9,1438.2 1103.2,1439.4 1108.4,1440.6 1113.6,1441.8 1118.8,1443.0 1124.0,1444.3 1129.2,1445.6 1134.3,1446.9 1139.5,1448.2 1144.7,1449.6 1149.9,1450.9 1155.1,1452.3 1160.2,1453.7 1165.4,1455.0 1170.5,1456.4 1175.7,1457.9 1180.9,1459.3 1186.0,1460.7 1191.2,1462.1 1196.3,1463.5 1201.5,1465.0 1206.6,1466.4 1211.8,1467.9 1216.9,1469.3 1222.1,1470.7 1227.2,1472.2 1232.4,1473.6 1237.5,1475.0 1242.7,1476.5 1247.8,1477.9 1253.0,1479.3 1258.2,1480.7 1263.3,1482.1 1268.5,1483.5 1273.6,1484.9 1278.8,1486.2 1284.0,1487.6 1289.2,1488.9"/></g></g>
<g fill="none" stroke="#29caf3" stroke-width="6.9" stroke-linecap="round" stroke-linejoin="round"><path d="M1109.5,1163.6 1110.7,1172.6 1111.9,1181.8 1113.2,1191.0 1114.4,1200.3 1115.7,1209.7 1117.1,1219.2 1118.5,1228.7 1119.9,1238.3 1121.5,1247.9 1123.2,1257.5 1124.9,1267.2 1126.8,1276.8 1128.8,1286.4 1130.9,1296.0 1133.1,1305.5 1135.5,1315.0 1138.1,1324.4 1140.9,1333.8 1143.8,1343.0 1146.9,1352.2 1150.2,1361.2 1153.8,1370.1 1157.5,1378.9 1161.5,1387.5 1165.8,1395.9 1170.3,1404.2 1175.0,1412.3 1180.0,1420.1 1185.3,1427.8 1191.0,1435.2 1196.9,1442.4 1203.1,1449.4 1209.6,1456.0 1216.5,1462.4 1223.8,1468.6 1231.3,1474.4 1239.3,1479.9 1247.6,1485.1 1256.3,1489.9"/><path d="M1141.6,1175.2 1143.6,1184.5 1145.6,1193.8 1147.7,1203.1 1150.0,1212.5 1152.4,1221.9 1154.8,1231.3 1157.5,1240.7 1160.2,1250.1 1163.1,1259.5 1166.1,1268.9 1169.2,1278.2 1172.5,1287.5 1176.0,1296.7 1179.5,1305.9 1183.3,1315.0 1187.2,1324.0 1191.3,1332.9 1195.6,1341.8 1200.0,1350.5 1204.6,1359.1 1209.4,1367.6 1214.4,1375.9 1219.6,1384.1 1225.0,1392.1 1230.5,1400.0 1236.3,1407.7 1242.3,1415.2 1248.5,1422.5 1255.0,1429.6 1261.6,1436.5 1268.5,1443.2 1275.6,1449.6 1283.0,1455.9 1290.6,1461.8 1298.4,1467.5 1306.5,1473.0 1314.9,1478.1 1323.5,1483.0 1332.4,1487.6"/><path d="M1172.4,1197.0 1175.0,1205.6 1177.7,1214.1 1180.6,1222.7 1183.5,1231.2 1186.6,1239.7 1189.7,1248.1 1193.0,1256.6 1196.4,1265.0 1199.9,1273.3 1203.6,1281.6 1207.3,1289.9 1211.2,1298.1 1215.1,1306.3 1219.2,1314.4 1223.4,1322.5 1227.8,1330.4 1232.2,1338.3 1236.8,1346.2 1241.5,1354.0 1246.3,1361.6 1251.2,1369.2 1256.2,1376.8 1261.4,1384.2 1266.7,1391.5 1272.1,1398.7 1277.6,1405.9 1283.3,1412.9 1289.1,1419.8 1295.0,1426.6 1301.0,1433.3 1307.2,1439.8 1313.5,1446.3 1319.9,1452.6 1326.4,1458.8 1333.1,1464.8 1339.9,1470.7 1346.9,1476.5 1353.9,1482.1 1361.1,1487.5"/><path d="M1228.2,1253.2 1230.6,1260.1 1233.1,1266.9 1235.7,1273.7 1238.4,1280.5 1241.1,1287.3 1243.9,1294.1 1246.8,1300.8 1249.8,1307.5 1252.8,1314.2 1256.0,1320.8 1259.2,1327.5 1262.5,1334.1 1265.9,1340.6 1269.4,1347.1 1272.9,1353.6 1276.5,1360.0 1280.3,1366.3 1284.1,1372.6 1288.0,1378.9 1292.0,1385.1 1296.0,1391.2 1300.2,1397.2 1304.4,1403.2 1308.8,1409.2 1313.2,1415.0 1317.7,1420.8 1322.3,1426.5 1327.0,1432.1 1331.8,1437.6 1336.7,1443.0 1341.6,1448.4 1346.7,1453.6 1351.9,1458.8 1357.1,1463.9 1362.5,1468.8 1367.9,1473.7 1373.5,1478.4 1379.1,1483.0 1384.8,1487.5"/><path d="M1288.3,1329.0 1290.4,1333.6 1292.6,1338.2 1294.7,1342.9 1296.9,1347.5 1299.1,1352.2 1301.4,1356.9 1303.6,1361.6 1305.9,1366.2 1308.3,1370.9 1310.7,1375.6 1313.1,1380.2 1315.5,1384.9 1318.0,1389.5 1320.6,1394.1 1323.2,1398.6 1325.8,1403.2 1328.5,1407.7 1331.3,1412.1 1334.1,1416.5 1337.0,1420.9 1339.9,1425.1 1343.0,1429.4 1346.0,1433.6 1349.2,1437.7 1352.4,1441.7 1355.7,1445.6 1359.1,1449.5 1362.6,1453.3 1366.2,1457.0 1369.8,1460.6 1373.5,1464.2 1377.4,1467.6 1381.3,1470.9 1385.3,1474.1 1389.4,1477.2 1393.6,1480.2 1397.9,1483.0 1402.4,1485.8 1406.9,1488.4"/></g>
</g>
<text x="1092.1" y="1158.4" font-size="15.36" font-family='"Liberation Sans", sans-serif' fill="#000" font-weight="bold" textLength="26.7" lengthAdjust="spacingAndGlyphs" stroke="#000" stroke-width="1.8" stroke-linejoin="round">(25)</text>
<text x="1123.6" y="1158.6" font-size="15.87" font-family='"Liberation Sans", sans-serif' fill="#000" font-weight="bold" font-style="italic" textLength="24.3" lengthAdjust="spacingAndGlyphs" stroke="#000" stroke-width="1.4400000000000002" stroke-linejoin="round">[43]</text>
<text x="1147.8" y="1174.7" font-size="15.36" font-family='"Liberation Sans", sans-serif' fill="#000" font-weight="bold" textLength="25.6" lengthAdjust="spacingAndGlyphs" stroke="#000" stroke-width="1.8" stroke-linejoin="round">(50)</text>
<text x="1179.0" y="1174.9" font-size="15.87" font-family='"Liberation Sans", sans-serif' fill="#000" font-weight="bold" font-style="italic" textLength="24.3" lengthAdjust="spacingAndGlyphs" stroke="#000" stroke-width="1.4400000000000002" stroke-linejoin="round">[85]</text>
<text x="1177.0" y="1193.5" font-size="15.36" font-family='"Liberation Sans", sans-serif' fill="#000" font-weight="bold" textLength="25.3" lengthAdjust="spacingAndGlyphs" stroke="#000" stroke-width="1.8" stroke-linejoin="round">(75)</text>
<text x="1207.9" y="1193.7" font-size="15.87" font-family='"Liberation Sans", sans-serif' fill="#000" font-weight="bold" font-style="italic" textLength="32.1" lengthAdjust="spacingAndGlyphs" stroke="#000" stroke-width="1.4400000000000002" stroke-linejoin="round">[128]</text>
<text x="1219.6" y="1246.5" font-size="15.36" font-family='"Liberation Sans", sans-serif' fill="#000" font-weight="bold" textLength="34.2" lengthAdjust="spacingAndGlyphs" stroke="#000" stroke-width="1.8" stroke-linejoin="round">(100)</text>
<text x="1258.7" y="1246.7" font-size="15.87" font-family='"Liberation Sans", sans-serif' fill="#000" font-weight="bold" font-style="italic" textLength="32.1" lengthAdjust="spacingAndGlyphs" stroke="#000" stroke-width="1.4400000000000002" stroke-linejoin="round">[170]</text>
<text x="1276.6" y="1321.5" font-size="15.36" font-family='"Liberation Sans", sans-serif' fill="#000" font-weight="bold" textLength="34.2" lengthAdjust="spacingAndGlyphs" stroke="#000" stroke-width="1.8" stroke-linejoin="round">(125)</text>
<text x="1316.1" y="1321.7" font-size="15.87" font-family='"Liberation Sans", sans-serif' fill="#000" font-weight="bold" font-style="italic" textLength="31.5" lengthAdjust="spacingAndGlyphs" stroke="#000" stroke-width="1.4400000000000002" stroke-linejoin="round">[213]</text>
<text x="1383.6" y="1197.4" font-size="17.5" font-family='"Liberation Sans", "Noto Sans CJK SC", sans-serif' fill="#000" font-weight="500" textLength="87.2" lengthAdjust="spacingAndGlyphs">空气消耗量</text>
<text x="1372.5" y="1216.5" font-size="15.5" font-family='"Liberation Sans", sans-serif' fill="#000" font-weight="bold" textLength="49.0" lengthAdjust="spacingAndGlyphs" stroke="#000" stroke-width="1.1" stroke-linejoin="round">(SCFM)</text>
<text x="1425.8" y="1216.4" font-size="15.6" font-family='"Liberation Sans", sans-serif' font-weight="bold" font-style="italic" stroke="#000" stroke-width="0.9" stroke-linejoin="round" textLength="52.3" lengthAdjust="spacingAndGlyphs">[Nm<tspan font-size="9.5" dy="-6">3</tspan><tspan dy="6">/h]</tspan></text>
<path d="M985.4,1146.5V1488.7M974.8,1487.4H985.4M974.8,1449.6H985.4M974.8,1411.8H985.4M974.8,1374.0H985.4M974.8,1336.2H985.4M974.8,1298.4H985.4M974.8,1260.6H985.4M974.8,1222.8H985.4M974.8,1185.0H985.4M1038.7,1147.2V1488.8M1028.1,1487.5H1038.7M1028.1,1459.2H1038.7M1028.1,1431.0H1038.7M1028.1,1402.8H1038.7M1028.1,1374.5H1038.7M1028.1,1346.2H1038.7M1028.1,1318.0H1038.7M1028.1,1289.8H1038.7M1028.1,1261.5H1038.7M1028.1,1233.2H1038.7M1028.1,1205.0H1038.7M1028.1,1176.8H1038.7M1028.1,1148.5H1038.7" stroke="#000" stroke-width="2.8" fill="none"/>
<text x="961.6" y="1489.3" font-size="17.32" font-family='"Liberation Sans", sans-serif' fill="#000" font-weight="bold" textLength="7.9" lengthAdjust="spacingAndGlyphs" stroke="#000" stroke-width="1.8" stroke-linejoin="round">0</text>
<text x="961.6" y="1452.1" font-size="17.32" font-family='"Liberation Sans", sans-serif' fill="#000" font-weight="bold" textLength="7.9" lengthAdjust="spacingAndGlyphs" stroke="#000" stroke-width="1.8" stroke-linejoin="round">1</text>
<text x="961.6" y="1414.8" font-size="17.32" font-family='"Liberation Sans", sans-serif' fill="#000" font-weight="bold" textLength="7.9" lengthAdjust="spacingAndGlyphs" stroke="#000" stroke-width="1.8" stroke-linejoin="round">2</text>
<text x="961.6" y="1377.6" font-size="17.32" font-family='"Liberation Sans", sans-serif' fill="#000" font-weight="bold" textLength="7.9" lengthAdjust="spacingAndGlyphs" stroke="#000" stroke-width="1.8" stroke-linejoin="round">3</text>
<text x="961.6" y="1340.4" font-size="17.32" font-family='"Liberation Sans", sans-serif' fill="#000" font-weight="bold" textLength="7.9" lengthAdjust="spacingAndGlyphs" stroke="#000" stroke-width="1.8" stroke-linejoin="round">4</text>
<text x="961.6" y="1303.1" font-size="17.32" font-family='"Liberation Sans", sans-serif' fill="#000" font-weight="bold" textLength="7.9" lengthAdjust="spacingAndGlyphs" stroke="#000" stroke-width="1.8" stroke-linejoin="round">5</text>
<text x="961.6" y="1265.9" font-size="17.32" font-family='"Liberation Sans", sans-serif' fill="#000" font-weight="bold" textLength="7.9" lengthAdjust="spacingAndGlyphs" stroke="#000" stroke-width="1.8" stroke-linejoin="round">6</text>
<text x="961.6" y="1228.6" font-size="17.32" font-family='"Liberation Sans", sans-serif' fill="#000" font-weight="bold" textLength="7.9" lengthAdjust="spacingAndGlyphs" stroke="#000" stroke-width="1.8" stroke-linejoin="round">7</text>
<text x="961.6" y="1191.4" font-size="17.32" font-family='"Liberation Sans", sans-serif' fill="#000" font-weight="bold" textLength="7.9" lengthAdjust="spacingAndGlyphs" stroke="#000" stroke-width="1.8" stroke-linejoin="round">8</text>
<text x="1014.5" y="1492.0" font-size="17.32" font-family='"Liberation Sans", sans-serif' fill="#000" font-weight="bold" textLength="7.3" lengthAdjust="spacingAndGlyphs" stroke="#000" stroke-width="1.8" stroke-linejoin="round">0</text>
<text x="1005.4" y="1435.5" font-size="17.32" font-family='"Liberation Sans", sans-serif' fill="#000" font-weight="bold" textLength="16.4" lengthAdjust="spacingAndGlyphs" stroke="#000" stroke-width="1.8" stroke-linejoin="round">50</text>
<text x="996.3" y="1379.0" font-size="17.32" font-family='"Liberation Sans", sans-serif' fill="#000" font-weight="bold" textLength="25.5" lengthAdjust="spacingAndGlyphs" stroke="#000" stroke-width="1.8" stroke-linejoin="round">100</text>
<text x="996.3" y="1322.5" font-size="17.32" font-family='"Liberation Sans", sans-serif' fill="#000" font-weight="bold" textLength="25.5" lengthAdjust="spacingAndGlyphs" stroke="#000" stroke-width="1.8" stroke-linejoin="round">150</text>
<text x="996.3" y="1266.0" font-size="17.32" font-family='"Liberation Sans", sans-serif' fill="#000" font-weight="bold" textLength="25.5" lengthAdjust="spacingAndGlyphs" stroke="#000" stroke-width="1.8" stroke-linejoin="round">200</text>
<text x="996.3" y="1209.5" font-size="17.32" font-family='"Liberation Sans", sans-serif' fill="#000" font-weight="bold" textLength="25.5" lengthAdjust="spacingAndGlyphs" stroke="#000" stroke-width="1.8" stroke-linejoin="round">250</text>
<text x="996.3" y="1155.1" font-size="17.32" font-family='"Liberation Sans", sans-serif' fill="#000" font-weight="bold" textLength="25.5" lengthAdjust="spacingAndGlyphs" stroke="#000" stroke-width="1.8" stroke-linejoin="round">300</text>
<text x="1069.8" y="1489.3" font-size="17.32" font-family='"Liberation Sans", sans-serif' fill="#000" font-weight="bold" textLength="7.3" lengthAdjust="spacingAndGlyphs" stroke="#000" stroke-width="1.8" stroke-linejoin="round">0</text>
<text x="1060.7" y="1439.0" font-size="17.32" font-family='"Liberation Sans", sans-serif' fill="#000" font-weight="bold" textLength="16.4" lengthAdjust="spacingAndGlyphs" stroke="#000" stroke-width="1.8" stroke-linejoin="round">20</text>
<text x="1060.7" y="1386.9" font-size="17.32" font-family='"Liberation Sans", sans-serif' fill="#000" font-weight="bold" textLength="16.4" lengthAdjust="spacingAndGlyphs" stroke="#000" stroke-width="1.8" stroke-linejoin="round">40</text>
<text x="1060.7" y="1334.8" font-size="17.32" font-family='"Liberation Sans", sans-serif' fill="#000" font-weight="bold" textLength="16.4" lengthAdjust="spacingAndGlyphs" stroke="#000" stroke-width="1.8" stroke-linejoin="round">60</text>
<text x="1060.7" y="1282.6" font-size="17.32" font-family='"Liberation Sans", sans-serif' fill="#000" font-weight="bold" textLength="16.4" lengthAdjust="spacingAndGlyphs" stroke="#000" stroke-width="1.8" stroke-linejoin="round">80</text>
<text x="1051.6" y="1230.5" font-size="17.32" font-family='"Liberation Sans", sans-serif' fill="#000" font-weight="bold" textLength="25.5" lengthAdjust="spacingAndGlyphs" stroke="#000" stroke-width="1.8" stroke-linejoin="round">100</text>
<text x="1051.6" y="1178.4" font-size="17.32" font-family='"Liberation Sans", sans-serif' fill="#000" font-weight="bold" textLength="25.5" lengthAdjust="spacingAndGlyphs" stroke="#000" stroke-width="1.8" stroke-linejoin="round">120</text>
<text x="954.4" y="1133.0" font-size="13.99" font-family='"Liberation Sans", sans-serif' fill="#000" font-weight="bold" textLength="26.7" lengthAdjust="spacingAndGlyphs" stroke="#000" stroke-width="1.5" stroke-linejoin="round">BAR</text>
<text x="998.6" y="1133.0" font-size="13.99" font-family='"Liberation Sans", sans-serif' fill="#000" font-weight="bold" textLength="29.1" lengthAdjust="spacingAndGlyphs" stroke="#000" stroke-width="1.5" stroke-linejoin="round">FEET</text>
<text x="1047.8" y="1133.0" font-size="13.99" font-family='"Liberation Sans", sans-serif' fill="#000" font-weight="bold" textLength="29.5" lengthAdjust="spacingAndGlyphs" stroke="#000" stroke-width="1.5" stroke-linejoin="round">PSIG</text>
<text x="1132.5" y="1511.3" font-size="15.92" font-family='"Liberation Sans", sans-serif' fill="#000" font-weight="bold" textLength="13.9" lengthAdjust="spacingAndGlyphs" stroke="#000" stroke-width="1.6" stroke-linejoin="round">20</text>
<text x="1127.8" y="1530.5" font-size="15.64" font-family='"Liberation Sans", sans-serif' fill="#000" font-weight="bold" textLength="23.4" lengthAdjust="spacingAndGlyphs" stroke="#000" stroke-width="1.2" stroke-linejoin="round">[76]</text>
<text x="1236.4" y="1511.3" font-size="15.92" font-family='"Liberation Sans", sans-serif' fill="#000" font-weight="bold" textLength="13.9" lengthAdjust="spacingAndGlyphs" stroke="#000" stroke-width="1.6" stroke-linejoin="round">60</text>
<text x="1228.0" y="1530.5" font-size="15.64" font-family='"Liberation Sans", sans-serif' fill="#000" font-weight="bold" textLength="30.7" lengthAdjust="spacingAndGlyphs" stroke="#000" stroke-width="1.2" stroke-linejoin="round">[227]</text>
<text x="1333.6" y="1511.3" font-size="15.92" font-family='"Liberation Sans", sans-serif' fill="#000" font-weight="bold" textLength="21.4" lengthAdjust="spacingAndGlyphs" stroke="#000" stroke-width="1.6" stroke-linejoin="round">100</text>
<text x="1328.9" y="1530.5" font-size="15.64" font-family='"Liberation Sans", sans-serif' fill="#000" font-weight="bold" textLength="30.7" lengthAdjust="spacingAndGlyphs" stroke="#000" stroke-width="1.2" stroke-linejoin="round">[379]</text>
<text x="1437.5" y="1511.3" font-size="15.92" font-family='"Liberation Sans", sans-serif' fill="#000" font-weight="bold" textLength="21.4" lengthAdjust="spacingAndGlyphs" stroke="#000" stroke-width="1.6" stroke-linejoin="round">140</text>
<text x="1432.9" y="1530.5" font-size="15.64" font-family='"Liberation Sans", sans-serif' fill="#000" font-weight="bold" textLength="30.7" lengthAdjust="spacingAndGlyphs" stroke="#000" stroke-width="1.2" stroke-linejoin="round">[530]</text>
<text x="1543.4" y="1511.3" font-size="15.92" font-family='"Liberation Sans", sans-serif' fill="#000" font-weight="bold" textLength="21.4" lengthAdjust="spacingAndGlyphs" stroke="#000" stroke-width="1.6" stroke-linejoin="round">180</text>
<text x="1538.8" y="1530.5" font-size="15.64" font-family='"Liberation Sans", sans-serif' fill="#000" font-weight="bold" textLength="30.7" lengthAdjust="spacingAndGlyphs" stroke="#000" stroke-width="1.2" stroke-linejoin="round">[681]</text>
<text x="1007.7" y="1513.9" font-size="17" font-family='"Liberation Sans", "Noto Sans CJK SC", sans-serif' fill="#000" font-weight="500" textLength="34.0" lengthAdjust="spacingAndGlyphs">流量</text>
<text x="999.2" y="1534.9" font-size="17" font-family='"Liberation Sans", "Noto Sans CJK SC", sans-serif' fill="#000" font-weight="500" textLength="51.0" lengthAdjust="spacingAndGlyphs">（水）</text>
<text x="1063.4" y="1511.5" font-size="15.64" font-family='"Liberation Sans", sans-serif' fill="#000" font-weight="bold" textLength="31.8" lengthAdjust="spacingAndGlyphs" stroke="#000" stroke-width="1.8" stroke-linejoin="round">GPM</text>
<text x="1060.2" y="1531.5" font-size="15.5" font-family='"Liberation Sans", sans-serif' fill="#000" font-weight="bold" textLength="39.5" lengthAdjust="spacingAndGlyphs" stroke="#000" stroke-width="1.5" stroke-linejoin="round">[LPM]</text>
</g>
</svg>
</body></html>
